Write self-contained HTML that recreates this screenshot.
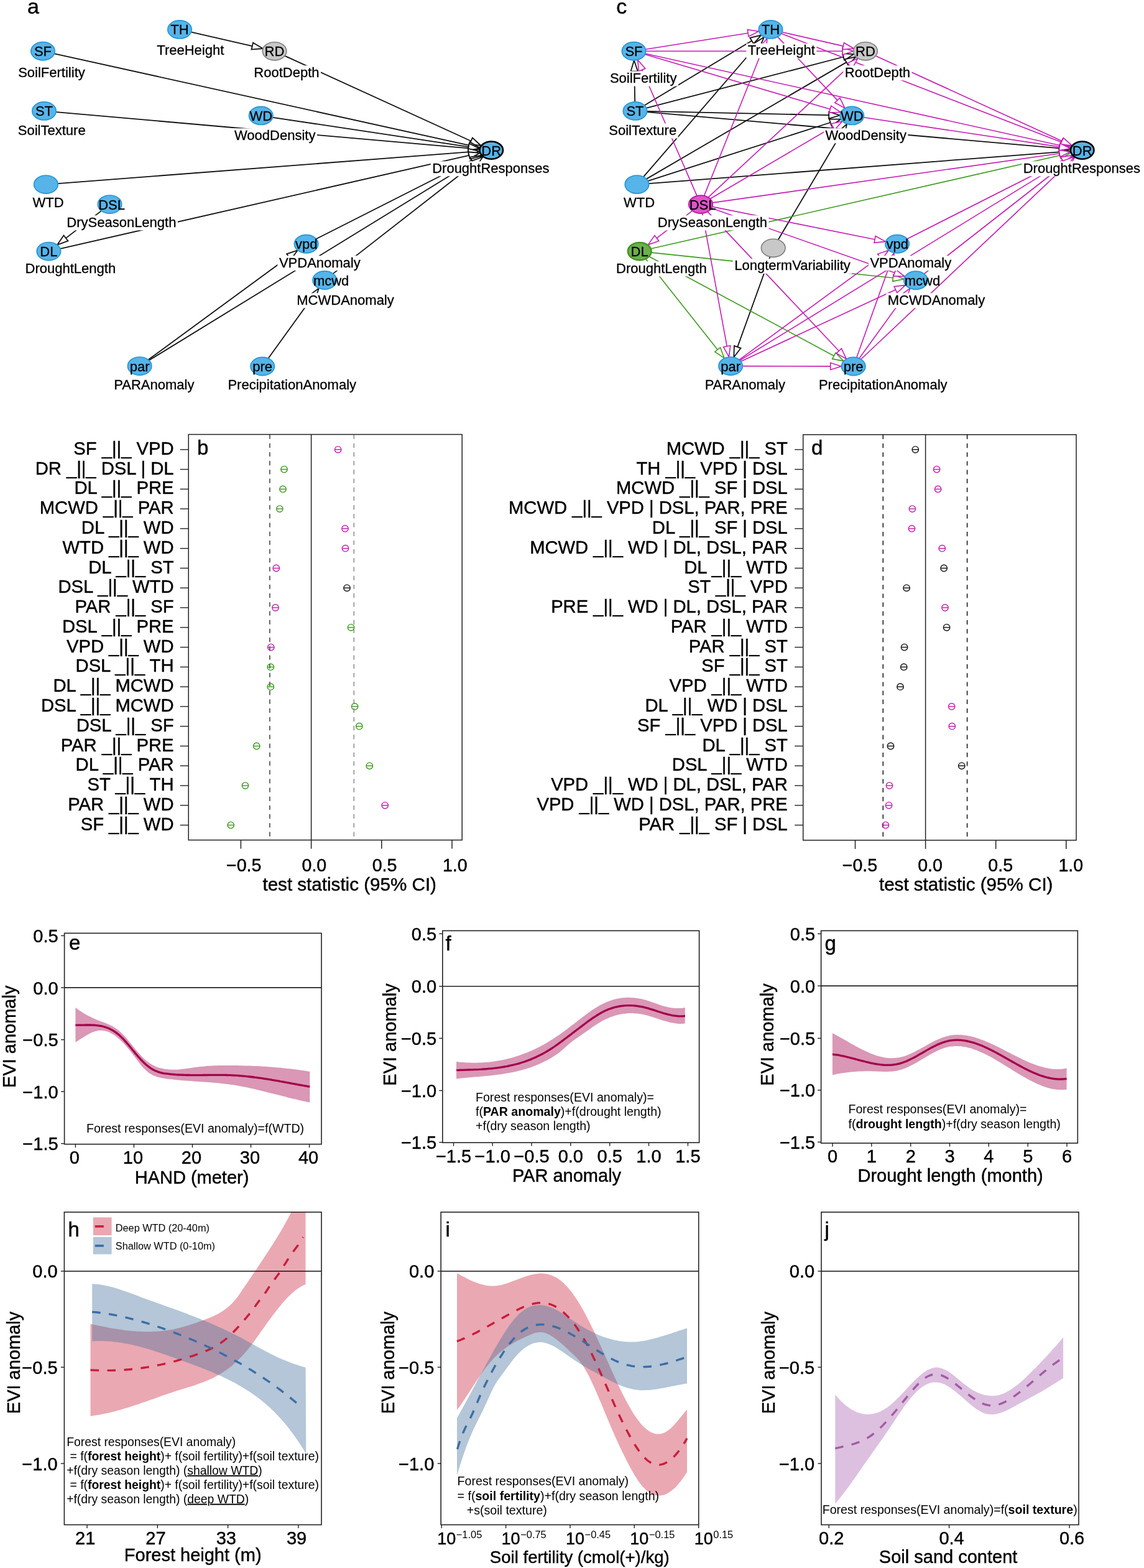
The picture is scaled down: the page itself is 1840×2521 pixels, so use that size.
<!DOCTYPE html>
<html><head><meta charset="utf-8"><title>Figure</title>
<style>
html,body{margin:0;padding:0;background:#fff;}
svg{display:block;}
text{font-family:"Liberation Sans",Arial,Helvetica,sans-serif;fill:#000;}
</style></head><body>
<svg width="1840" height="2521" viewBox="0 0 1840 2521">
<rect width="1840" height="2521" fill="#fff"/>
<text x="44" y="22.3" font-size="34" stroke="#000" stroke-width="0.45">a</text>
<text x="991.3" y="22.3" font-size="34" stroke="#000" stroke-width="0.45">c</text>
<line x1="307.7" y1="51.7" x2="405.8" y2="74.1" stroke="#111111" stroke-width="1.8"/>
<line x1="458.2" y1="89.9" x2="757.6" y2="226.7" stroke="#111111" stroke-width="1.8"/>
<line x1="87.7" y1="86.3" x2="754.4" y2="233.7" stroke="#111111" stroke-width="1.8"/>
<line x1="90.4" y1="180.1" x2="753.4" y2="238.4" stroke="#111111" stroke-width="1.8"/>
<line x1="438.8" y1="188.8" x2="753.8" y2="236.1" stroke="#111111" stroke-width="1.8"/>
<line x1="93.3" y1="295.1" x2="753.4" y2="244.4" stroke="#111111" stroke-width="1.8"/>
<line x1="162.8" y1="339.1" x2="106" y2="382.9" stroke="#111111" stroke-width="1.8"/>
<line x1="97.1" y1="399.8" x2="754.5" y2="249.8" stroke="#111111" stroke-width="1.8"/>
<line x1="508.8" y1="384" x2="758.4" y2="257.7" stroke="#111111" stroke-width="1.8"/>
<line x1="238.6" y1="578.3" x2="464.5" y2="412.8" stroke="#111111" stroke-width="1.8"/>
<line x1="239.8" y1="579.3" x2="760.1" y2="260.1" stroke="#111111" stroke-width="1.8"/>
<line x1="535.8" y1="439.9" x2="762.8" y2="263" stroke="#111111" stroke-width="1.8"/>
<line x1="431.6" y1="576" x2="502.6" y2="477.7" stroke="#111111" stroke-width="1.8"/>
<polygon points="422.8,78 404.5,79.6 407,68.7" fill="#fff" stroke="#111111" stroke-width="1.8" stroke-linejoin="miter"/>
<polygon points="773.5,234 755.2,231.8 759.9,221.6" fill="#fff" stroke="#111111" stroke-width="1.8" stroke-linejoin="miter"/>
<polygon points="771.5,237.5 753.2,239.2 755.6,228.2" fill="#fff" stroke="#111111" stroke-width="1.8" stroke-linejoin="miter"/>
<polygon points="770.8,239.9 752.9,243.9 753.9,232.8" fill="#fff" stroke="#111111" stroke-width="1.8" stroke-linejoin="miter"/>
<polygon points="771.1,238.7 752.9,241.7 754.6,230.6" fill="#fff" stroke="#111111" stroke-width="1.8" stroke-linejoin="miter"/>
<polygon points="770.8,243.1 753.8,250 752.9,238.8" fill="#fff" stroke="#111111" stroke-width="1.8" stroke-linejoin="miter"/>
<polygon points="92.1,393.6 102.5,378.5 109.4,387.3" fill="#fff" stroke="#111111" stroke-width="1.8" stroke-linejoin="miter"/>
<polygon points="771.5,245.9 755.7,255.2 753.2,244.3" fill="#fff" stroke="#111111" stroke-width="1.8" stroke-linejoin="miter"/>
<polygon points="774,249.8 760.9,262.7 755.8,252.7" fill="#fff" stroke="#111111" stroke-width="1.8" stroke-linejoin="miter"/>
<polygon points="478.6,402.5 467.8,417.3 461.1,408.3" fill="#fff" stroke="#111111" stroke-width="1.8" stroke-linejoin="miter"/>
<polygon points="775,250.9 763,264.8 757.2,255.3" fill="#fff" stroke="#111111" stroke-width="1.8" stroke-linejoin="miter"/>
<polygon points="776.6,252.2 766.2,267.4 759.4,258.5" fill="#fff" stroke="#111111" stroke-width="1.8" stroke-linejoin="miter"/>
<polygon points="512.8,463.5 507.1,480.9 498,474.4" fill="#fff" stroke="#111111" stroke-width="1.8" stroke-linejoin="miter"/>
<rect x="249.8" y="69.8" width="113" height="24" fill="#fff"/>
<rect x="26.7" y="105.7" width="112.6" height="24" fill="#fff"/>
<rect x="26.3" y="198.5" width="113.8" height="24" fill="#fff"/>
<rect x="405.8" y="105.3" width="110.2" height="24" fill="#fff"/>
<rect x="374.5" y="206.3" width="135.4" height="24" fill="#fff"/>
<rect x="692.7" y="259.3" width="193.3" height="24" fill="#fff"/>
<rect x="50.1" y="314.5" width="55.1" height="24" fill="#fff"/>
<rect x="104.8" y="346.3" width="181.1" height="24" fill="#fff"/>
<rect x="38.1" y="420.3" width="150.5" height="24" fill="#fff"/>
<rect x="446.4" y="411.1" width="135.8" height="24" fill="#fff"/>
<rect x="474.8" y="471.3" width="161.5" height="24" fill="#fff"/>
<rect x="180.7" y="607.3" width="134.2" height="24" fill="#fff"/>
<rect x="363.9" y="607.3" width="211.6" height="24" fill="#fff"/>
<text x="252.3" y="88.3" font-size="22" stroke="#000" stroke-width="0.3">TreeHeight</text>
<text x="29.2" y="124.2" font-size="22" stroke="#000" stroke-width="0.3">SoilFertility</text>
<text x="28.8" y="217" font-size="22" stroke="#000" stroke-width="0.3">SoilTexture</text>
<text x="408.3" y="123.8" font-size="22" stroke="#000" stroke-width="0.3">RootDepth</text>
<text x="377" y="224.8" font-size="22" stroke="#000" stroke-width="0.3">WoodDensity</text>
<text x="695.2" y="277.8" font-size="22" stroke="#000" stroke-width="0.3">DroughtResponses</text>
<text x="52.6" y="333" font-size="22" stroke="#000" stroke-width="0.3">WTD</text>
<text x="107.3" y="364.8" font-size="22" stroke="#000" stroke-width="0.3">DrySeasonLength</text>
<text x="40.6" y="438.8" font-size="22" stroke="#000" stroke-width="0.3">DroughtLength</text>
<text x="448.9" y="429.6" font-size="22" stroke="#000" stroke-width="0.3">VPDAnomaly</text>
<text x="477.3" y="489.8" font-size="22" stroke="#000" stroke-width="0.3">MCWDAnomaly</text>
<text x="183.2" y="625.8" font-size="22" stroke="#000" stroke-width="0.3">PARAnomaly</text>
<text x="366.4" y="625.8" font-size="22" stroke="#000" stroke-width="0.3">PrecipitationAnomaly</text>
<ellipse cx="289" cy="47.4" rx="19.2" ry="14.6" fill="#56B4E9" stroke="#2696D4" stroke-width="1.7"/>
<ellipse cx="69" cy="82.2" rx="19.2" ry="14.6" fill="#56B4E9" stroke="#2696D4" stroke-width="1.7"/>
<ellipse cx="71" cy="178.4" rx="19.2" ry="14.6" fill="#56B4E9" stroke="#2696D4" stroke-width="1.7"/>
<ellipse cx="419.7" cy="185.9" rx="19.2" ry="14.6" fill="#56B4E9" stroke="#2696D4" stroke-width="1.7"/>
<ellipse cx="73.9" cy="296.6" rx="19.2" ry="14.6" fill="#56B4E9" stroke="#2696D4" stroke-width="1.7"/>
<ellipse cx="441.5" cy="82.3" rx="19.3" ry="14.6" fill="#C8C8C8" stroke="#7F7F7F" stroke-width="1.6"/>
<ellipse cx="790.2" cy="241.6" rx="18.8" ry="14.1" fill="#56B4E9" stroke="#000000" stroke-width="2.6"/>
<ellipse cx="176.5" cy="328.6" rx="19.2" ry="14.6" fill="#56B4E9" stroke="#2696D4" stroke-width="1.7"/>
<ellipse cx="78.4" cy="404.1" rx="19.2" ry="14.6" fill="#56B4E9" stroke="#2696D4" stroke-width="1.7"/>
<ellipse cx="492.6" cy="392.2" rx="19.2" ry="14.6" fill="#56B4E9" stroke="#2696D4" stroke-width="1.7"/>
<ellipse cx="522.2" cy="450.5" rx="19.2" ry="14.6" fill="#56B4E9" stroke="#2696D4" stroke-width="1.7"/>
<ellipse cx="224.6" cy="588.6" rx="19.2" ry="14.6" fill="#56B4E9" stroke="#2696D4" stroke-width="1.7"/>
<ellipse cx="422.2" cy="589" rx="19.2" ry="14.6" fill="#56B4E9" stroke="#2696D4" stroke-width="1.7"/>
<text x="274.3" y="55.4" font-size="22" stroke="#000" stroke-width="0.3">TH</text>
<text x="54.9" y="90.2" font-size="22" stroke="#000" stroke-width="0.3">SF</text>
<text x="56.9" y="186.4" font-size="22" stroke="#000" stroke-width="0.3">ST</text>
<text x="401.4" y="193.9" font-size="22" stroke="#000" stroke-width="0.3">WD</text>
<text x="425.6" y="90.3" font-size="22" stroke="#000" stroke-width="0.3">RD</text>
<text x="774.3" y="249.6" font-size="22" stroke="#000" stroke-width="0.3">DR</text>
<text x="158.2" y="336.6" font-size="22" stroke="#000" stroke-width="0.3">DSL</text>
<text x="64.3" y="412.1" font-size="22" stroke="#000" stroke-width="0.3">DL</text>
<text x="474.9" y="400.2" font-size="22" stroke="#000" stroke-width="0.3">vpd</text>
<text x="503.9" y="458.5" font-size="22" stroke="#000" stroke-width="0.3">mcwd</text>
<text x="208.7" y="596.6" font-size="22" stroke="#000" stroke-width="0.3">par</text>
<text x="406.3" y="597" font-size="22" stroke="#000" stroke-width="0.3">pre</text>
<line x1="1021.2" y1="163.6" x2="1020.2" y2="114.5" stroke="#111111" stroke-width="1.8"/>
<line x1="1036.8" y1="169.2" x2="1209.2" y2="65.6" stroke="#111111" stroke-width="1.8"/>
<line x1="1040" y1="173.6" x2="1356.6" y2="91.5" stroke="#111111" stroke-width="1.8"/>
<line x1="1041" y1="178.8" x2="1333.2" y2="185.1" stroke="#111111" stroke-width="1.8"/>
<line x1="1040.9" y1="180.1" x2="1703.9" y2="238.4" stroke="#111111" stroke-width="1.8"/>
<line x1="1035.1" y1="284.2" x2="1217.4" y2="73" stroke="#111111" stroke-width="1.8"/>
<line x1="1039.9" y1="287.6" x2="1361.4" y2="100.1" stroke="#111111" stroke-width="1.8"/>
<line x1="1042.4" y1="290.8" x2="1335.6" y2="197" stroke="#111111" stroke-width="1.8"/>
<line x1="1043.8" y1="295.1" x2="1703.9" y2="244.4" stroke="#111111" stroke-width="1.8"/>
<line x1="1251.7" y1="385.3" x2="1353.2" y2="214.4" stroke="#111111" stroke-width="1.8"/>
<line x1="1238.5" y1="413.1" x2="1186.2" y2="557.9" stroke="#111111" stroke-width="1.8"/>
<line x1="1047.4" y1="399.8" x2="1705" y2="249.8" stroke="#3C9B1E" stroke-width="1.6"/>
<line x1="1048" y1="406.1" x2="1436.3" y2="446.8" stroke="#3C9B1E" stroke-width="1.6"/>
<line x1="1038.8" y1="416.8" x2="1154.2" y2="562.2" stroke="#3C9B1E" stroke-width="1.6"/>
<line x1="1044.6" y1="412.7" x2="1341.4" y2="572.2" stroke="#3C9B1E" stroke-width="1.6"/>
<line x1="1038.6" y1="79.2" x2="1203.1" y2="53.2" stroke="#C71BB5" stroke-width="1.6"/>
<line x1="1039" y1="82.2" x2="1355" y2="82.3" stroke="#C71BB5" stroke-width="1.6"/>
<line x1="1037.7" y1="87.6" x2="1335.2" y2="175.6" stroke="#C71BB5" stroke-width="1.6"/>
<line x1="1038.2" y1="86.3" x2="1704.9" y2="233.7" stroke="#C71BB5" stroke-width="1.6"/>
<line x1="1120.9" y1="314.6" x2="1032.6" y2="112.3" stroke="#C71BB5" stroke-width="1.6"/>
<line x1="1132.7" y1="314.4" x2="1227.3" y2="77.8" stroke="#C71BB5" stroke-width="1.6"/>
<line x1="1139.3" y1="317.1" x2="1366.8" y2="105.7" stroke="#C71BB5" stroke-width="1.6"/>
<line x1="1142.4" y1="319.5" x2="1339.7" y2="203.8" stroke="#C71BB5" stroke-width="1.6"/>
<line x1="1146.2" y1="325.9" x2="1704.2" y2="246.8" stroke="#C71BB5" stroke-width="1.6"/>
<line x1="1113.3" y1="339.1" x2="1056.3" y2="382.9" stroke="#C71BB5" stroke-width="1.6"/>
<line x1="1145.8" y1="332.4" x2="1407.1" y2="385" stroke="#C71BB5" stroke-width="1.6"/>
<line x1="1144.7" y1="334.8" x2="1438.8" y2="438.6" stroke="#C71BB5" stroke-width="1.6"/>
<line x1="1129.7" y1="343.3" x2="1169.2" y2="556.7" stroke="#C71BB5" stroke-width="1.6"/>
<line x1="1138.4" y1="340.6" x2="1349.3" y2="564.2" stroke="#C71BB5" stroke-width="1.6"/>
<line x1="1258.2" y1="51.7" x2="1356.3" y2="74.1" stroke="#C71BB5" stroke-width="1.6"/>
<line x1="1250.9" y1="59.4" x2="1346.8" y2="161.1" stroke="#C71BB5" stroke-width="1.6"/>
<line x1="1256.9" y1="54.1" x2="1707" y2="228.5" stroke="#C71BB5" stroke-width="1.6"/>
<line x1="1408.7" y1="89.9" x2="1708.1" y2="226.7" stroke="#C71BB5" stroke-width="1.6"/>
<line x1="1389.3" y1="188.8" x2="1704.3" y2="236.1" stroke="#C71BB5" stroke-width="1.6"/>
<line x1="1189.1" y1="578.3" x2="1415" y2="412.8" stroke="#C71BB5" stroke-width="1.6"/>
<line x1="1191.7" y1="580.9" x2="1440.5" y2="465.8" stroke="#C71BB5" stroke-width="1.6"/>
<line x1="1194.6" y1="588.6" x2="1335.7" y2="588.9" stroke="#C71BB5" stroke-width="1.6"/>
<line x1="1190.3" y1="579.3" x2="1710.6" y2="260.1" stroke="#C71BB5" stroke-width="1.6"/>
<line x1="1377.8" y1="574.7" x2="1432.1" y2="423" stroke="#C71BB5" stroke-width="1.6"/>
<line x1="1382.1" y1="576" x2="1453.3" y2="477.8" stroke="#C71BB5" stroke-width="1.6"/>
<line x1="1384.9" y1="577.5" x2="1715.8" y2="265.1" stroke="#C71BB5" stroke-width="1.6"/>
<line x1="1459.3" y1="384" x2="1708.9" y2="257.7" stroke="#C71BB5" stroke-width="1.6"/>
<line x1="1486.6" y1="440.1" x2="1713.3" y2="263" stroke="#C71BB5" stroke-width="1.6"/>
<polygon points="1019.8,97 1025.8,114.4 1014.6,114.6" fill="#fff" stroke="#111111" stroke-width="1.8" stroke-linejoin="miter"/>
<polygon points="1224.2,56.6 1212.1,70.4 1206.3,60.8" fill="#fff" stroke="#111111" stroke-width="1.8" stroke-linejoin="miter"/>
<polygon points="1373.5,87.1 1358,96.9 1355.2,86.1" fill="#fff" stroke="#111111" stroke-width="1.8" stroke-linejoin="miter"/>
<polygon points="1350.7,185.5 1333.1,190.7 1333.3,179.5" fill="#fff" stroke="#111111" stroke-width="1.8" stroke-linejoin="miter"/>
<polygon points="1721.3,239.9 1703.4,243.9 1704.4,232.8" fill="#fff" stroke="#111111" stroke-width="1.8" stroke-linejoin="miter"/>
<polygon points="1228.8,59.8 1221.6,76.7 1213.1,69.4" fill="#fff" stroke="#111111" stroke-width="1.8" stroke-linejoin="miter"/>
<polygon points="1376.5,91.3 1364.2,105 1358.6,95.3" fill="#fff" stroke="#111111" stroke-width="1.8" stroke-linejoin="miter"/>
<polygon points="1352.2,191.7 1337.3,202.3 1333.9,191.7" fill="#fff" stroke="#111111" stroke-width="1.8" stroke-linejoin="miter"/>
<polygon points="1721.3,243.1 1704.3,250 1703.4,238.8" fill="#fff" stroke="#111111" stroke-width="1.8" stroke-linejoin="miter"/>
<polygon points="1362.2,199.4 1358.1,217.3 1348.4,211.6" fill="#fff" stroke="#111111" stroke-width="1.8" stroke-linejoin="miter"/>
<polygon points="1180.3,574.3 1180.9,556 1191.5,559.8" fill="#fff" stroke="#111111" stroke-width="1.8" stroke-linejoin="miter"/>
<polygon points="1722,245.9 1706.2,255.2 1703.7,244.3" fill="#fff" stroke="#3C9B1E" stroke-width="1.6" stroke-linejoin="miter"/>
<polygon points="1453.7,448.7 1435.7,452.4 1436.9,441.3" fill="#fff" stroke="#3C9B1E" stroke-width="1.6" stroke-linejoin="miter"/>
<polygon points="1165,575.9 1149.8,565.7 1158.5,558.7" fill="#fff" stroke="#3C9B1E" stroke-width="1.6" stroke-linejoin="miter"/>
<polygon points="1356.8,580.4 1338.7,577.1 1344,567.2" fill="#fff" stroke="#3C9B1E" stroke-width="1.6" stroke-linejoin="miter"/>
<polygon points="1220.4,50.4 1204,58.7 1202.3,47.6" fill="#fff" stroke="#C71BB5" stroke-width="1.6" stroke-linejoin="miter"/>
<polygon points="1372.5,82.3 1355,87.9 1355,76.7" fill="#fff" stroke="#C71BB5" stroke-width="1.6" stroke-linejoin="miter"/>
<polygon points="1352,180.5 1333.7,180.9 1336.8,170.2" fill="#fff" stroke="#C71BB5" stroke-width="1.6" stroke-linejoin="miter"/>
<polygon points="1722,237.5 1703.7,239.2 1706.1,228.2" fill="#fff" stroke="#C71BB5" stroke-width="1.6" stroke-linejoin="miter"/>
<polygon points="1025.6,96.2 1037.8,110.1 1027.5,114.5" fill="#fff" stroke="#C71BB5" stroke-width="1.6" stroke-linejoin="miter"/>
<polygon points="1233.8,61.6 1232.5,79.9 1222.1,75.7" fill="#fff" stroke="#C71BB5" stroke-width="1.6" stroke-linejoin="miter"/>
<polygon points="1379.7,93.8 1370.7,109.8 1363,101.6" fill="#fff" stroke="#C71BB5" stroke-width="1.6" stroke-linejoin="miter"/>
<polygon points="1354.8,195 1342.5,208.6 1336.8,199" fill="#fff" stroke="#C71BB5" stroke-width="1.6" stroke-linejoin="miter"/>
<polygon points="1721.5,244.3 1705,252.3 1703.4,241.2" fill="#fff" stroke="#C71BB5" stroke-width="1.6" stroke-linejoin="miter"/>
<polygon points="1042.4,393.6 1052.9,378.5 1059.7,387.4" fill="#fff" stroke="#C71BB5" stroke-width="1.6" stroke-linejoin="miter"/>
<polygon points="1424.3,388.4 1406,390.4 1408.2,379.5" fill="#fff" stroke="#C71BB5" stroke-width="1.6" stroke-linejoin="miter"/>
<polygon points="1455.3,444.5 1437,443.9 1440.7,433.4" fill="#fff" stroke="#C71BB5" stroke-width="1.6" stroke-linejoin="miter"/>
<polygon points="1172.4,573.9 1163.7,557.8 1174.7,555.7" fill="#fff" stroke="#C71BB5" stroke-width="1.6" stroke-linejoin="miter"/>
<polygon points="1361.3,577 1345.3,568.1 1353.4,560.4" fill="#fff" stroke="#C71BB5" stroke-width="1.6" stroke-linejoin="miter"/>
<polygon points="1373.3,78 1355,79.6 1357.5,68.7" fill="#fff" stroke="#C71BB5" stroke-width="1.6" stroke-linejoin="miter"/>
<polygon points="1358.8,173.9 1342.8,165 1350.9,157.3" fill="#fff" stroke="#C71BB5" stroke-width="1.6" stroke-linejoin="miter"/>
<polygon points="1723.3,234.9 1705,233.8 1709,223.3" fill="#fff" stroke="#C71BB5" stroke-width="1.6" stroke-linejoin="miter"/>
<polygon points="1724,234 1705.7,231.8 1710.4,221.6" fill="#fff" stroke="#C71BB5" stroke-width="1.6" stroke-linejoin="miter"/>
<polygon points="1721.6,238.7 1703.4,241.7 1705.1,230.6" fill="#fff" stroke="#C71BB5" stroke-width="1.6" stroke-linejoin="miter"/>
<polygon points="1429.1,402.5 1418.3,417.3 1411.6,408.3" fill="#fff" stroke="#C71BB5" stroke-width="1.6" stroke-linejoin="miter"/>
<polygon points="1456.4,458.4 1442.8,470.8 1438.1,460.7" fill="#fff" stroke="#C71BB5" stroke-width="1.6" stroke-linejoin="miter"/>
<polygon points="1353.2,589 1335.7,594.5 1335.7,583.3" fill="#fff" stroke="#C71BB5" stroke-width="1.6" stroke-linejoin="miter"/>
<polygon points="1725.5,250.9 1713.5,264.8 1707.7,255.3" fill="#fff" stroke="#C71BB5" stroke-width="1.6" stroke-linejoin="miter"/>
<polygon points="1438,406.5 1437.4,424.8 1426.8,421.1" fill="#fff" stroke="#C71BB5" stroke-width="1.6" stroke-linejoin="miter"/>
<polygon points="1463.6,463.7 1457.9,481.1 1448.8,474.5" fill="#fff" stroke="#C71BB5" stroke-width="1.6" stroke-linejoin="miter"/>
<polygon points="1728.5,253.1 1719.6,269.2 1711.9,261.1" fill="#fff" stroke="#C71BB5" stroke-width="1.6" stroke-linejoin="miter"/>
<polygon points="1724.5,249.8 1711.4,262.7 1706.3,252.7" fill="#fff" stroke="#C71BB5" stroke-width="1.6" stroke-linejoin="miter"/>
<polygon points="1727.1,252.2 1716.8,267.4 1709.9,258.6" fill="#fff" stroke="#C71BB5" stroke-width="1.6" stroke-linejoin="miter"/>
<rect x="1200.3" y="69.8" width="113" height="24" fill="#fff"/>
<rect x="978.4" y="114.5" width="112.6" height="24" fill="#fff"/>
<rect x="976.8" y="198.5" width="113.8" height="24" fill="#fff"/>
<rect x="1356.3" y="105.3" width="110.2" height="24" fill="#fff"/>
<rect x="1325" y="206.3" width="135.4" height="24" fill="#fff"/>
<rect x="1643.2" y="259.3" width="193.3" height="24" fill="#fff"/>
<rect x="1000.6" y="314.5" width="55.1" height="24" fill="#fff"/>
<rect x="1055.3" y="346.3" width="181.1" height="24" fill="#fff"/>
<rect x="988.6" y="420.3" width="150.5" height="24" fill="#fff"/>
<rect x="1396.9" y="411.1" width="135.8" height="24" fill="#fff"/>
<rect x="1425.3" y="471.3" width="161.5" height="24" fill="#fff"/>
<rect x="1131.2" y="607.3" width="134.2" height="24" fill="#fff"/>
<rect x="1314.4" y="607.3" width="211.6" height="24" fill="#fff"/>
<rect x="1178.7" y="415.9" width="191.7" height="24" fill="#fff"/>
<text x="1202.8" y="88.3" font-size="22" stroke="#000" stroke-width="0.3">TreeHeight</text>
<text x="980.9" y="133" font-size="22" stroke="#000" stroke-width="0.3">SoilFertility</text>
<text x="979.3" y="217" font-size="22" stroke="#000" stroke-width="0.3">SoilTexture</text>
<text x="1358.8" y="123.8" font-size="22" stroke="#000" stroke-width="0.3">RootDepth</text>
<text x="1327.5" y="224.8" font-size="22" stroke="#000" stroke-width="0.3">WoodDensity</text>
<text x="1645.7" y="277.8" font-size="22" stroke="#000" stroke-width="0.3">DroughtResponses</text>
<text x="1003.1" y="333" font-size="22" stroke="#000" stroke-width="0.3">WTD</text>
<text x="1057.8" y="364.8" font-size="22" stroke="#000" stroke-width="0.3">DrySeasonLength</text>
<text x="991.1" y="438.8" font-size="22" stroke="#000" stroke-width="0.3">DroughtLength</text>
<text x="1399.4" y="429.6" font-size="22" stroke="#000" stroke-width="0.3">VPDAnomaly</text>
<text x="1427.8" y="489.8" font-size="22" stroke="#000" stroke-width="0.3">MCWDAnomaly</text>
<text x="1133.7" y="625.8" font-size="22" stroke="#000" stroke-width="0.3">PARAnomaly</text>
<text x="1316.9" y="625.8" font-size="22" stroke="#000" stroke-width="0.3">PrecipitationAnomaly</text>
<text x="1181.2" y="434.4" font-size="22" stroke="#000" stroke-width="0.3">LongtermVariability</text>
<ellipse cx="1239.5" cy="47.4" rx="19.2" ry="14.6" fill="#56B4E9" stroke="#2696D4" stroke-width="1.7"/>
<ellipse cx="1019.5" cy="82.2" rx="19.2" ry="14.6" fill="#56B4E9" stroke="#2696D4" stroke-width="1.7"/>
<ellipse cx="1021.5" cy="178.4" rx="19.2" ry="14.6" fill="#56B4E9" stroke="#2696D4" stroke-width="1.7"/>
<ellipse cx="1370.2" cy="185.9" rx="19.2" ry="14.6" fill="#56B4E9" stroke="#2696D4" stroke-width="1.7"/>
<ellipse cx="1024.4" cy="296.6" rx="19.2" ry="14.6" fill="#56B4E9" stroke="#2696D4" stroke-width="1.7"/>
<ellipse cx="1392" cy="82.3" rx="19.3" ry="14.6" fill="#C8C8C8" stroke="#7F7F7F" stroke-width="1.6"/>
<ellipse cx="1740.7" cy="241.6" rx="18.8" ry="14.1" fill="#56B4E9" stroke="#000000" stroke-width="2.6"/>
<ellipse cx="1127" cy="328.6" rx="19.1" ry="14.4" fill="#DD55C8" stroke="#C01AA8" stroke-width="2.0"/>
<ellipse cx="1028.7" cy="404.1" rx="18.9" ry="14.2" fill="#6BAF4B" stroke="#3A981C" stroke-width="2.4"/>
<ellipse cx="1443.1" cy="392.2" rx="19.2" ry="14.6" fill="#56B4E9" stroke="#2696D4" stroke-width="1.7"/>
<ellipse cx="1473" cy="450.7" rx="19.2" ry="14.6" fill="#56B4E9" stroke="#2696D4" stroke-width="1.7"/>
<ellipse cx="1175.1" cy="588.6" rx="19.2" ry="14.6" fill="#56B4E9" stroke="#2696D4" stroke-width="1.7"/>
<ellipse cx="1372.7" cy="589" rx="19.2" ry="14.6" fill="#56B4E9" stroke="#2696D4" stroke-width="1.7"/>
<ellipse cx="1243.7" cy="398.8" rx="19.3" ry="14.6" fill="#C8C8C8" stroke="#7F7F7F" stroke-width="1.6"/>
<text x="1224.8" y="55.4" font-size="22" stroke="#000" stroke-width="0.3">TH</text>
<text x="1005.4" y="90.2" font-size="22" stroke="#000" stroke-width="0.3">SF</text>
<text x="1007.4" y="186.4" font-size="22" stroke="#000" stroke-width="0.3">ST</text>
<text x="1351.9" y="193.9" font-size="22" stroke="#000" stroke-width="0.3">WD</text>
<text x="1376.1" y="90.3" font-size="22" stroke="#000" stroke-width="0.3">RD</text>
<text x="1724.8" y="249.6" font-size="22" stroke="#000" stroke-width="0.3">DR</text>
<text x="1108.7" y="336.6" font-size="22" stroke="#000" stroke-width="0.3">DSL</text>
<text x="1014.6" y="412.1" font-size="22" stroke="#000" stroke-width="0.3">DL</text>
<text x="1425.4" y="400.2" font-size="22" stroke="#000" stroke-width="0.3">vpd</text>
<text x="1454.7" y="458.7" font-size="22" stroke="#000" stroke-width="0.3">mcwd</text>
<text x="1159.2" y="596.6" font-size="22" stroke="#000" stroke-width="0.3">par</text>
<text x="1356.8" y="597" font-size="22" stroke="#000" stroke-width="0.3">pre</text>
<line x1="433.9" y1="698.5" x2="433.9" y2="1350.6" stroke="#3a3a3a" stroke-width="1.5" stroke-dasharray="7.2,7"/>
<line x1="569.3" y1="698.5" x2="569.3" y2="1350.6" stroke="#8a8a8a" stroke-width="1.5" stroke-dasharray="7.2,7"/>
<line x1="500.6" y1="698.5" x2="500.6" y2="1350.6" stroke="#222" stroke-width="1.5"/>
<rect x="303.2" y="698.5" width="440" height="652.1" fill="none" stroke="#222" stroke-width="1.5"/>
<line x1="289.7" y1="722.8" x2="303.2" y2="722.8" stroke="#222" stroke-width="1.4"/>
<text x="279.5" y="730.8" font-size="29.2" text-anchor="end" stroke="#000" stroke-width="0.45">SF _||_ VPD</text>
<circle cx="543.6" cy="722.8" r="5.2" fill="none" stroke="#C41AAE" stroke-width="1.4"/>
<line x1="538.4" y1="722.8" x2="548.8" y2="722.8" stroke="#C41AAE" stroke-width="1.4"/>
<line x1="289.7" y1="754.6" x2="303.2" y2="754.6" stroke="#222" stroke-width="1.4"/>
<text x="279.5" y="762.6" font-size="29.2" text-anchor="end" stroke="#000" stroke-width="0.45">DR _||_ DSL | DL</text>
<circle cx="457" cy="754.6" r="5.2" fill="none" stroke="#3A9A1C" stroke-width="1.4"/>
<line x1="451.8" y1="754.6" x2="462.2" y2="754.6" stroke="#3A9A1C" stroke-width="1.4"/>
<line x1="289.7" y1="786.4" x2="303.2" y2="786.4" stroke="#222" stroke-width="1.4"/>
<text x="279.5" y="794.4" font-size="29.2" text-anchor="end" stroke="#000" stroke-width="0.45">DL _||_ PRE</text>
<circle cx="455" cy="786.4" r="5.2" fill="none" stroke="#3A9A1C" stroke-width="1.4"/>
<line x1="449.8" y1="786.4" x2="460.2" y2="786.4" stroke="#3A9A1C" stroke-width="1.4"/>
<line x1="289.7" y1="818.1" x2="303.2" y2="818.1" stroke="#222" stroke-width="1.4"/>
<text x="279.5" y="826.1" font-size="29.2" text-anchor="end" stroke="#000" stroke-width="0.45">MCWD _||_ PAR</text>
<circle cx="449.8" cy="818.1" r="5.2" fill="none" stroke="#3A9A1C" stroke-width="1.4"/>
<line x1="444.6" y1="818.1" x2="455" y2="818.1" stroke="#3A9A1C" stroke-width="1.4"/>
<line x1="289.7" y1="849.9" x2="303.2" y2="849.9" stroke="#222" stroke-width="1.4"/>
<text x="279.5" y="857.9" font-size="29.2" text-anchor="end" stroke="#000" stroke-width="0.45">DL _||_ WD</text>
<circle cx="555" cy="849.9" r="5.2" fill="none" stroke="#C41AAE" stroke-width="1.4"/>
<line x1="549.8" y1="849.9" x2="560.2" y2="849.9" stroke="#C41AAE" stroke-width="1.4"/>
<line x1="289.7" y1="881.7" x2="303.2" y2="881.7" stroke="#222" stroke-width="1.4"/>
<text x="279.5" y="889.7" font-size="29.2" text-anchor="end" stroke="#000" stroke-width="0.45">WTD _||_ WD</text>
<circle cx="555.5" cy="881.7" r="5.2" fill="none" stroke="#C41AAE" stroke-width="1.4"/>
<line x1="550.3" y1="881.7" x2="560.7" y2="881.7" stroke="#C41AAE" stroke-width="1.4"/>
<line x1="289.7" y1="913.5" x2="303.2" y2="913.5" stroke="#222" stroke-width="1.4"/>
<text x="279.5" y="921.5" font-size="29.2" text-anchor="end" stroke="#000" stroke-width="0.45">DL _||_ ST</text>
<circle cx="444.3" cy="913.5" r="5.2" fill="none" stroke="#C41AAE" stroke-width="1.4"/>
<line x1="439.1" y1="913.5" x2="449.5" y2="913.5" stroke="#C41AAE" stroke-width="1.4"/>
<line x1="289.7" y1="945.3" x2="303.2" y2="945.3" stroke="#222" stroke-width="1.4"/>
<text x="279.5" y="953.3" font-size="29.2" text-anchor="end" stroke="#000" stroke-width="0.45">DSL _||_ WTD</text>
<circle cx="558" cy="945.3" r="5.2" fill="none" stroke="#111111" stroke-width="1.4"/>
<line x1="552.8" y1="945.3" x2="563.2" y2="945.3" stroke="#111111" stroke-width="1.4"/>
<line x1="289.7" y1="977" x2="303.2" y2="977" stroke="#222" stroke-width="1.4"/>
<text x="279.5" y="985" font-size="29.2" text-anchor="end" stroke="#000" stroke-width="0.45">PAR _||_ SF</text>
<circle cx="443" cy="977" r="5.2" fill="none" stroke="#C41AAE" stroke-width="1.4"/>
<line x1="437.8" y1="977" x2="448.2" y2="977" stroke="#C41AAE" stroke-width="1.4"/>
<line x1="289.7" y1="1008.8" x2="303.2" y2="1008.8" stroke="#222" stroke-width="1.4"/>
<text x="279.5" y="1016.8" font-size="29.2" text-anchor="end" stroke="#000" stroke-width="0.45">DSL _||_ PRE</text>
<circle cx="564.5" cy="1008.8" r="5.2" fill="none" stroke="#3A9A1C" stroke-width="1.4"/>
<line x1="559.3" y1="1008.8" x2="569.7" y2="1008.8" stroke="#3A9A1C" stroke-width="1.4"/>
<line x1="289.7" y1="1040.6" x2="303.2" y2="1040.6" stroke="#222" stroke-width="1.4"/>
<text x="279.5" y="1048.6" font-size="29.2" text-anchor="end" stroke="#000" stroke-width="0.45">VPD _||_ WD</text>
<circle cx="435.8" cy="1040.6" r="5.2" fill="none" stroke="#C41AAE" stroke-width="1.4"/>
<line x1="430.6" y1="1040.6" x2="441" y2="1040.6" stroke="#C41AAE" stroke-width="1.4"/>
<line x1="289.7" y1="1072.4" x2="303.2" y2="1072.4" stroke="#222" stroke-width="1.4"/>
<text x="279.5" y="1080.4" font-size="29.2" text-anchor="end" stroke="#000" stroke-width="0.45">DSL _||_ TH</text>
<circle cx="435.3" cy="1072.4" r="5.2" fill="none" stroke="#3A9A1C" stroke-width="1.4"/>
<line x1="430.1" y1="1072.4" x2="440.5" y2="1072.4" stroke="#3A9A1C" stroke-width="1.4"/>
<line x1="289.7" y1="1104.2" x2="303.2" y2="1104.2" stroke="#222" stroke-width="1.4"/>
<text x="279.5" y="1112.2" font-size="29.2" text-anchor="end" stroke="#000" stroke-width="0.45">DL _||_ MCWD</text>
<circle cx="435.3" cy="1104.2" r="5.2" fill="none" stroke="#3A9A1C" stroke-width="1.4"/>
<line x1="430.1" y1="1104.2" x2="440.5" y2="1104.2" stroke="#3A9A1C" stroke-width="1.4"/>
<line x1="289.7" y1="1135.9" x2="303.2" y2="1135.9" stroke="#222" stroke-width="1.4"/>
<text x="279.5" y="1143.9" font-size="29.2" text-anchor="end" stroke="#000" stroke-width="0.45">DSL _||_ MCWD</text>
<circle cx="570.6" cy="1135.9" r="5.2" fill="none" stroke="#3A9A1C" stroke-width="1.4"/>
<line x1="565.4" y1="1135.9" x2="575.8" y2="1135.9" stroke="#3A9A1C" stroke-width="1.4"/>
<line x1="289.7" y1="1167.7" x2="303.2" y2="1167.7" stroke="#222" stroke-width="1.4"/>
<text x="279.5" y="1175.7" font-size="29.2" text-anchor="end" stroke="#000" stroke-width="0.45">DSL _||_ SF</text>
<circle cx="577.8" cy="1167.7" r="5.2" fill="none" stroke="#3A9A1C" stroke-width="1.4"/>
<line x1="572.6" y1="1167.7" x2="583" y2="1167.7" stroke="#3A9A1C" stroke-width="1.4"/>
<line x1="289.7" y1="1199.5" x2="303.2" y2="1199.5" stroke="#222" stroke-width="1.4"/>
<text x="279.5" y="1207.5" font-size="29.2" text-anchor="end" stroke="#000" stroke-width="0.45">PAR _||_ PRE</text>
<circle cx="412.7" cy="1199.5" r="5.2" fill="none" stroke="#3A9A1C" stroke-width="1.4"/>
<line x1="407.5" y1="1199.5" x2="417.9" y2="1199.5" stroke="#3A9A1C" stroke-width="1.4"/>
<line x1="289.7" y1="1231.3" x2="303.2" y2="1231.3" stroke="#222" stroke-width="1.4"/>
<text x="279.5" y="1239.3" font-size="29.2" text-anchor="end" stroke="#000" stroke-width="0.45">DL _||_ PAR</text>
<circle cx="594.3" cy="1231.3" r="5.2" fill="none" stroke="#3A9A1C" stroke-width="1.4"/>
<line x1="589.1" y1="1231.3" x2="599.5" y2="1231.3" stroke="#3A9A1C" stroke-width="1.4"/>
<line x1="289.7" y1="1263.1" x2="303.2" y2="1263.1" stroke="#222" stroke-width="1.4"/>
<text x="279.5" y="1271.1" font-size="29.2" text-anchor="end" stroke="#000" stroke-width="0.45">ST _||_ TH</text>
<circle cx="394.5" cy="1263.1" r="5.2" fill="none" stroke="#3A9A1C" stroke-width="1.4"/>
<line x1="389.3" y1="1263.1" x2="399.7" y2="1263.1" stroke="#3A9A1C" stroke-width="1.4"/>
<line x1="289.7" y1="1294.8" x2="303.2" y2="1294.8" stroke="#222" stroke-width="1.4"/>
<text x="279.5" y="1302.8" font-size="29.2" text-anchor="end" stroke="#000" stroke-width="0.45">PAR _||_ WD</text>
<circle cx="619.2" cy="1294.8" r="5.2" fill="none" stroke="#C41AAE" stroke-width="1.4"/>
<line x1="614" y1="1294.8" x2="624.4" y2="1294.8" stroke="#C41AAE" stroke-width="1.4"/>
<line x1="289.7" y1="1326.6" x2="303.2" y2="1326.6" stroke="#222" stroke-width="1.4"/>
<text x="279.5" y="1334.6" font-size="29.2" text-anchor="end" stroke="#000" stroke-width="0.45">SF _||_ WD</text>
<circle cx="371.2" cy="1326.6" r="5.2" fill="none" stroke="#3A9A1C" stroke-width="1.4"/>
<line x1="366" y1="1326.6" x2="376.4" y2="1326.6" stroke="#3A9A1C" stroke-width="1.4"/>
<line x1="387.4" y1="1350.6" x2="387.4" y2="1364.6" stroke="#222" stroke-width="1.5"/>
<text x="392.2" y="1401" font-size="28.6" text-anchor="middle" stroke="#000" stroke-width="0.45">−0.5</text>
<line x1="500.6" y1="1350.6" x2="500.6" y2="1364.6" stroke="#222" stroke-width="1.5"/>
<text x="505.4" y="1401" font-size="28.6" text-anchor="middle" stroke="#000" stroke-width="0.45">0.0</text>
<line x1="613.8" y1="1350.6" x2="613.8" y2="1364.6" stroke="#222" stroke-width="1.5"/>
<text x="618.6" y="1401" font-size="28.6" text-anchor="middle" stroke="#000" stroke-width="0.45">0.5</text>
<line x1="727" y1="1350.6" x2="727" y2="1364.6" stroke="#222" stroke-width="1.5"/>
<text x="731.8" y="1401" font-size="28.6" text-anchor="middle" stroke="#000" stroke-width="0.45">1.0</text>
<text x="562.2" y="1432.1" font-size="29.6" text-anchor="middle" stroke="#000" stroke-width="0.45">test statistic (95% CI)</text>
<text x="317" y="731.2" font-size="33" stroke="#000" stroke-width="0.45">b</text>
<line x1="1420.3" y1="698.8" x2="1420.3" y2="1350.9" stroke="#111" stroke-width="1.5" stroke-dasharray="7.2,7"/>
<line x1="1555.6" y1="698.8" x2="1555.6" y2="1350.9" stroke="#111" stroke-width="1.5" stroke-dasharray="7.2,7"/>
<line x1="1488.6" y1="698.8" x2="1488.6" y2="1350.9" stroke="#222" stroke-width="1.5"/>
<rect x="1291.7" y="698.8" width="439.3" height="652.1" fill="none" stroke="#222" stroke-width="1.5"/>
<line x1="1278.2" y1="722.8" x2="1291.7" y2="722.8" stroke="#222" stroke-width="1.4"/>
<text x="1266.8" y="730.8" font-size="29.2" text-anchor="end" stroke="#000" stroke-width="0.45">MCWD _||_ ST</text>
<circle cx="1472.3" cy="722.8" r="5.2" fill="none" stroke="#111111" stroke-width="1.4"/>
<line x1="1467.1" y1="722.8" x2="1477.5" y2="722.8" stroke="#111111" stroke-width="1.4"/>
<line x1="1278.2" y1="754.6" x2="1291.7" y2="754.6" stroke="#222" stroke-width="1.4"/>
<text x="1266.8" y="762.6" font-size="29.2" text-anchor="end" stroke="#000" stroke-width="0.45">TH _||_ VPD | DSL</text>
<circle cx="1506.6" cy="754.6" r="5.2" fill="none" stroke="#C41AAE" stroke-width="1.4"/>
<line x1="1501.4" y1="754.6" x2="1511.8" y2="754.6" stroke="#C41AAE" stroke-width="1.4"/>
<line x1="1278.2" y1="786.4" x2="1291.7" y2="786.4" stroke="#222" stroke-width="1.4"/>
<text x="1266.8" y="794.4" font-size="29.2" text-anchor="end" stroke="#000" stroke-width="0.45">MCWD _||_ SF | DSL</text>
<circle cx="1508.6" cy="786.4" r="5.2" fill="none" stroke="#C41AAE" stroke-width="1.4"/>
<line x1="1503.4" y1="786.4" x2="1513.8" y2="786.4" stroke="#C41AAE" stroke-width="1.4"/>
<line x1="1278.2" y1="818.1" x2="1291.7" y2="818.1" stroke="#222" stroke-width="1.4"/>
<text x="1266.8" y="826.1" font-size="29.2" text-anchor="end" stroke="#000" stroke-width="0.45">MCWD _||_ VPD | DSL, PAR, PRE</text>
<circle cx="1467.4" cy="818.1" r="5.2" fill="none" stroke="#C41AAE" stroke-width="1.4"/>
<line x1="1462.2" y1="818.1" x2="1472.6" y2="818.1" stroke="#C41AAE" stroke-width="1.4"/>
<line x1="1278.2" y1="849.9" x2="1291.7" y2="849.9" stroke="#222" stroke-width="1.4"/>
<text x="1266.8" y="857.9" font-size="29.2" text-anchor="end" stroke="#000" stroke-width="0.45">DL _||_ SF | DSL</text>
<circle cx="1466.5" cy="849.9" r="5.2" fill="none" stroke="#C41AAE" stroke-width="1.4"/>
<line x1="1461.3" y1="849.9" x2="1471.7" y2="849.9" stroke="#C41AAE" stroke-width="1.4"/>
<line x1="1278.2" y1="881.7" x2="1291.7" y2="881.7" stroke="#222" stroke-width="1.4"/>
<text x="1266.8" y="889.7" font-size="29.2" text-anchor="end" stroke="#000" stroke-width="0.45">MCWD _||_ WD | DL, DSL, PAR</text>
<circle cx="1515.3" cy="881.7" r="5.2" fill="none" stroke="#C41AAE" stroke-width="1.4"/>
<line x1="1510.1" y1="881.7" x2="1520.5" y2="881.7" stroke="#C41AAE" stroke-width="1.4"/>
<line x1="1278.2" y1="913.5" x2="1291.7" y2="913.5" stroke="#222" stroke-width="1.4"/>
<text x="1266.8" y="921.5" font-size="29.2" text-anchor="end" stroke="#000" stroke-width="0.45">DL _||_ WTD</text>
<circle cx="1518.2" cy="913.5" r="5.2" fill="none" stroke="#111111" stroke-width="1.4"/>
<line x1="1513" y1="913.5" x2="1523.4" y2="913.5" stroke="#111111" stroke-width="1.4"/>
<line x1="1278.2" y1="945.3" x2="1291.7" y2="945.3" stroke="#222" stroke-width="1.4"/>
<text x="1266.8" y="953.3" font-size="29.2" text-anchor="end" stroke="#000" stroke-width="0.45">ST _||_ VPD</text>
<circle cx="1458.1" cy="945.3" r="5.2" fill="none" stroke="#111111" stroke-width="1.4"/>
<line x1="1452.9" y1="945.3" x2="1463.3" y2="945.3" stroke="#111111" stroke-width="1.4"/>
<line x1="1278.2" y1="977" x2="1291.7" y2="977" stroke="#222" stroke-width="1.4"/>
<text x="1266.8" y="985" font-size="29.2" text-anchor="end" stroke="#000" stroke-width="0.45">PRE _||_ WD | DL, DSL, PAR</text>
<circle cx="1520" cy="977" r="5.2" fill="none" stroke="#C41AAE" stroke-width="1.4"/>
<line x1="1514.8" y1="977" x2="1525.2" y2="977" stroke="#C41AAE" stroke-width="1.4"/>
<line x1="1278.2" y1="1008.8" x2="1291.7" y2="1008.8" stroke="#222" stroke-width="1.4"/>
<text x="1266.8" y="1016.8" font-size="29.2" text-anchor="end" stroke="#000" stroke-width="0.45">PAR _||_ WTD</text>
<circle cx="1522.6" cy="1008.8" r="5.2" fill="none" stroke="#111111" stroke-width="1.4"/>
<line x1="1517.4" y1="1008.8" x2="1527.8" y2="1008.8" stroke="#111111" stroke-width="1.4"/>
<line x1="1278.2" y1="1040.6" x2="1291.7" y2="1040.6" stroke="#222" stroke-width="1.4"/>
<text x="1266.8" y="1048.6" font-size="29.2" text-anchor="end" stroke="#000" stroke-width="0.45">PAR _||_ ST</text>
<circle cx="1454.6" cy="1040.6" r="5.2" fill="none" stroke="#111111" stroke-width="1.4"/>
<line x1="1449.4" y1="1040.6" x2="1459.8" y2="1040.6" stroke="#111111" stroke-width="1.4"/>
<line x1="1278.2" y1="1072.4" x2="1291.7" y2="1072.4" stroke="#222" stroke-width="1.4"/>
<text x="1266.8" y="1080.4" font-size="29.2" text-anchor="end" stroke="#000" stroke-width="0.45">SF _||_ ST</text>
<circle cx="1453.7" cy="1072.4" r="5.2" fill="none" stroke="#111111" stroke-width="1.4"/>
<line x1="1448.5" y1="1072.4" x2="1458.9" y2="1072.4" stroke="#111111" stroke-width="1.4"/>
<line x1="1278.2" y1="1104.2" x2="1291.7" y2="1104.2" stroke="#222" stroke-width="1.4"/>
<text x="1266.8" y="1112.2" font-size="29.2" text-anchor="end" stroke="#000" stroke-width="0.45">VPD _||_ WTD</text>
<circle cx="1448" cy="1104.2" r="5.2" fill="none" stroke="#111111" stroke-width="1.4"/>
<line x1="1442.8" y1="1104.2" x2="1453.2" y2="1104.2" stroke="#111111" stroke-width="1.4"/>
<line x1="1278.2" y1="1135.9" x2="1291.7" y2="1135.9" stroke="#222" stroke-width="1.4"/>
<text x="1266.8" y="1143.9" font-size="29.2" text-anchor="end" stroke="#000" stroke-width="0.45">DL _||_ WD | DSL</text>
<circle cx="1530.7" cy="1135.9" r="5.2" fill="none" stroke="#C41AAE" stroke-width="1.4"/>
<line x1="1525.5" y1="1135.9" x2="1535.9" y2="1135.9" stroke="#C41AAE" stroke-width="1.4"/>
<line x1="1278.2" y1="1167.7" x2="1291.7" y2="1167.7" stroke="#222" stroke-width="1.4"/>
<text x="1266.8" y="1175.7" font-size="29.2" text-anchor="end" stroke="#000" stroke-width="0.45">SF _||_ VPD | DSL</text>
<circle cx="1531.3" cy="1167.7" r="5.2" fill="none" stroke="#C41AAE" stroke-width="1.4"/>
<line x1="1526.1" y1="1167.7" x2="1536.5" y2="1167.7" stroke="#C41AAE" stroke-width="1.4"/>
<line x1="1278.2" y1="1199.5" x2="1291.7" y2="1199.5" stroke="#222" stroke-width="1.4"/>
<text x="1266.8" y="1207.5" font-size="29.2" text-anchor="end" stroke="#000" stroke-width="0.45">DL _||_ ST</text>
<circle cx="1432.5" cy="1199.5" r="5.2" fill="none" stroke="#111111" stroke-width="1.4"/>
<line x1="1427.3" y1="1199.5" x2="1437.7" y2="1199.5" stroke="#111111" stroke-width="1.4"/>
<line x1="1278.2" y1="1231.3" x2="1291.7" y2="1231.3" stroke="#222" stroke-width="1.4"/>
<text x="1266.8" y="1239.3" font-size="29.2" text-anchor="end" stroke="#000" stroke-width="0.45">DSL _||_ WTD</text>
<circle cx="1546.7" cy="1231.3" r="5.2" fill="none" stroke="#111111" stroke-width="1.4"/>
<line x1="1541.5" y1="1231.3" x2="1551.9" y2="1231.3" stroke="#111111" stroke-width="1.4"/>
<line x1="1278.2" y1="1263.1" x2="1291.7" y2="1263.1" stroke="#222" stroke-width="1.4"/>
<text x="1266.8" y="1271.1" font-size="29.2" text-anchor="end" stroke="#000" stroke-width="0.45">VPD _||_ WD | DL, DSL, PAR</text>
<circle cx="1430.5" cy="1263.1" r="5.2" fill="none" stroke="#C41AAE" stroke-width="1.4"/>
<line x1="1425.3" y1="1263.1" x2="1435.7" y2="1263.1" stroke="#C41AAE" stroke-width="1.4"/>
<line x1="1278.2" y1="1294.8" x2="1291.7" y2="1294.8" stroke="#222" stroke-width="1.4"/>
<text x="1266.8" y="1302.8" font-size="29.2" text-anchor="end" stroke="#000" stroke-width="0.45">VPD _||_ WD | DSL, PAR, PRE</text>
<circle cx="1429.6" cy="1294.8" r="5.2" fill="none" stroke="#C41AAE" stroke-width="1.4"/>
<line x1="1424.4" y1="1294.8" x2="1434.8" y2="1294.8" stroke="#C41AAE" stroke-width="1.4"/>
<line x1="1278.2" y1="1326.6" x2="1291.7" y2="1326.6" stroke="#222" stroke-width="1.4"/>
<text x="1266.8" y="1334.6" font-size="29.2" text-anchor="end" stroke="#000" stroke-width="0.45">PAR _||_ SF | DSL</text>
<circle cx="1424.4" cy="1326.6" r="5.2" fill="none" stroke="#C41AAE" stroke-width="1.4"/>
<line x1="1419.2" y1="1326.6" x2="1429.6" y2="1326.6" stroke="#C41AAE" stroke-width="1.4"/>
<line x1="1375.5" y1="1350.9" x2="1375.5" y2="1364.9" stroke="#222" stroke-width="1.5"/>
<text x="1383" y="1401.3" font-size="28.6" text-anchor="middle" stroke="#000" stroke-width="0.45">−0.5</text>
<line x1="1488.6" y1="1350.9" x2="1488.6" y2="1364.9" stroke="#222" stroke-width="1.5"/>
<text x="1496.1" y="1401.3" font-size="28.6" text-anchor="middle" stroke="#000" stroke-width="0.45">0.0</text>
<line x1="1601.7" y1="1350.9" x2="1601.7" y2="1364.9" stroke="#222" stroke-width="1.5"/>
<text x="1609.2" y="1401.3" font-size="28.6" text-anchor="middle" stroke="#000" stroke-width="0.45">0.5</text>
<line x1="1714.8" y1="1350.9" x2="1714.8" y2="1364.9" stroke="#222" stroke-width="1.5"/>
<text x="1722.3" y="1401.3" font-size="28.6" text-anchor="middle" stroke="#000" stroke-width="0.45">1.0</text>
<text x="1553.7" y="1432.4" font-size="29.6" text-anchor="middle" stroke="#000" stroke-width="0.45">test statistic (95% CI)</text>
<text x="1305" y="731.2" font-size="33" stroke="#000" stroke-width="0.45">d</text>
<line x1="103.6" y1="1587.9" x2="517" y2="1587.9" stroke="#222" stroke-width="1.6"/>
<path d="M121.4,1620 C122.1,1620.5 124.1,1622.1 125.5,1623 C126.8,1624 128.2,1624.9 129.5,1625.8 C130.9,1626.7 132.2,1627.6 133.6,1628.4 C134.9,1629.2 136.3,1630 137.6,1630.8 C139,1631.6 140.3,1632.3 141.7,1633 C143,1633.7 144.4,1634.4 145.7,1635.1 C147.1,1635.7 148.4,1636.4 149.8,1637 C151.1,1637.6 152.5,1638.2 153.8,1638.7 C155.2,1639.3 156.5,1639.9 157.9,1640.4 C159.2,1640.9 160.6,1641.4 161.9,1641.9 C163.3,1642.4 164.6,1642.9 166,1643.4 C167.3,1643.9 168.7,1644.4 170,1645 C171.4,1645.5 172.7,1646.1 174.1,1646.7 C175.4,1647.3 176.8,1647.9 178.1,1648.5 C179.5,1649.2 180.8,1649.9 182.2,1650.7 C183.5,1651.5 184.9,1652.3 186.2,1653.3 C187.6,1654.2 188.9,1655.2 190.3,1656.3 C191.6,1657.3 193,1658.5 194.3,1659.8 C195.7,1661 197.1,1662.4 198.4,1663.8 C199.8,1665.2 201.1,1666.8 202.5,1668.3 C203.8,1669.8 205.2,1671.4 206.5,1673 C207.9,1674.7 209.2,1676.3 210.6,1678 C211.9,1679.6 213.3,1681.3 214.6,1683 C216,1684.6 217.3,1686.3 218.7,1687.9 C220,1689.5 221.4,1691.2 222.7,1692.7 C224.1,1694.2 225.4,1695.8 226.8,1697.2 C228.1,1698.6 229.5,1700 230.8,1701.3 C232.2,1702.6 233.5,1703.8 234.9,1704.9 C236.2,1706 237.6,1707.1 238.9,1708 C240.3,1709 241.6,1709.9 243,1710.7 C244.3,1711.5 245.7,1712.3 247,1713 C248.4,1713.7 249.7,1714.3 251.1,1714.9 C252.4,1715.4 253.8,1715.9 255.1,1716.4 C256.5,1716.8 257.8,1717.2 259.2,1717.6 C260.5,1717.9 261.9,1718.2 263.2,1718.5 C264.6,1718.7 265.9,1719 267.3,1719.1 C268.6,1719.3 270,1719.4 271.3,1719.6 C272.7,1719.7 274.1,1719.7 275.4,1719.8 C276.8,1719.8 278.1,1719.8 279.5,1719.8 C280.8,1719.8 282.2,1719.8 283.5,1719.7 C284.9,1719.6 286.2,1719.5 287.6,1719.4 C288.9,1719.3 290.3,1719.2 291.6,1719.1 C293,1718.9 294.3,1718.8 295.7,1718.6 C297,1718.5 298.4,1718.3 299.7,1718.1 C301.1,1717.9 302.4,1717.7 303.8,1717.5 C305.1,1717.3 306.5,1717.1 307.8,1716.9 C309.2,1716.7 310.5,1716.5 311.9,1716.3 C313.2,1716.2 314.6,1716 315.9,1715.8 C317.3,1715.6 318.6,1715.4 320,1715.3 C321.3,1715.1 322.7,1714.9 324,1714.8 C325.4,1714.6 326.7,1714.5 328.1,1714.4 C329.4,1714.3 330.8,1714.1 332.1,1714 C333.5,1713.9 334.8,1713.8 336.2,1713.8 C337.5,1713.7 338.9,1713.6 340.2,1713.5 C341.6,1713.5 342.9,1713.4 344.3,1713.3 C345.6,1713.3 347,1713.2 348.4,1713.2 C349.7,1713.1 351.1,1713.1 352.4,1713.1 C353.8,1713 355.1,1713 356.5,1713 C357.8,1713 359.2,1713 360.5,1713 C361.9,1713 363.2,1713 364.6,1713 C365.9,1713 367.3,1713 368.6,1713 C370,1713 371.3,1713 372.7,1713 C374,1713 375.4,1713 376.7,1713 C378.1,1713.1 379.4,1713.1 380.8,1713.1 C382.1,1713.1 383.5,1713.1 384.8,1713.2 C386.2,1713.2 387.5,1713.2 388.9,1713.3 C390.2,1713.3 391.6,1713.3 392.9,1713.4 C394.3,1713.4 395.6,1713.4 397,1713.5 C398.3,1713.5 399.7,1713.6 401,1713.6 C402.4,1713.7 403.7,1713.7 405.1,1713.8 C406.4,1713.8 407.8,1713.9 409.1,1713.9 C410.5,1714 411.8,1714 413.2,1714.1 C414.5,1714.2 415.9,1714.2 417.2,1714.3 C418.6,1714.4 419.9,1714.4 421.3,1714.5 C422.6,1714.6 424,1714.7 425.4,1714.8 C426.7,1714.8 428.1,1714.9 429.4,1715 C430.8,1715.1 432.1,1715.2 433.5,1715.3 C434.8,1715.4 436.2,1715.5 437.5,1715.6 C438.9,1715.7 440.2,1715.8 441.6,1715.9 C442.9,1716 444.3,1716.1 445.6,1716.3 C447,1716.4 448.3,1716.5 449.7,1716.6 C451,1716.7 452.4,1716.9 453.7,1717 C455.1,1717.1 456.4,1717.3 457.8,1717.4 C459.1,1717.6 460.5,1717.7 461.8,1717.9 C463.2,1718 464.5,1718.2 465.9,1718.3 C467.2,1718.5 468.6,1718.6 469.9,1718.8 C471.3,1719 472.6,1719.1 474,1719.3 C475.3,1719.5 476.7,1719.7 478,1719.8 C479.4,1720 480.7,1720.2 482.1,1720.4 C483.4,1720.6 484.8,1720.8 486.1,1721 C487.5,1721.2 488.8,1721.4 490.2,1721.6 C491.5,1721.8 492.9,1722.1 494.2,1722.3 C495.6,1722.5 497.6,1722.9 498.3,1723 L498.3,1772.5 C497.6,1772.4 495.6,1772 494.2,1771.7 C492.9,1771.4 491.5,1771.1 490.2,1770.8 C488.8,1770.6 487.5,1770.3 486.1,1770 C484.8,1769.7 483.4,1769.4 482.1,1769 C480.7,1768.7 479.4,1768.4 478,1768.1 C476.7,1767.8 475.3,1767.5 474,1767.1 C472.6,1766.8 471.3,1766.5 469.9,1766.2 C468.6,1765.8 467.2,1765.5 465.9,1765.2 C464.5,1764.8 463.2,1764.5 461.8,1764.2 C460.5,1763.8 459.1,1763.5 457.8,1763.1 C456.4,1762.8 455.1,1762.4 453.7,1762.1 C452.4,1761.7 451,1761.4 449.7,1761.1 C448.3,1760.7 447,1760.4 445.6,1760 C444.3,1759.7 442.9,1759.3 441.6,1759 C440.2,1758.6 438.9,1758.3 437.5,1757.9 C436.2,1757.6 434.8,1757.2 433.5,1756.9 C432.1,1756.6 430.8,1756.2 429.4,1755.9 C428.1,1755.5 426.7,1755.2 425.4,1754.9 C424,1754.5 422.6,1754.2 421.3,1753.9 C419.9,1753.5 418.6,1753.2 417.2,1752.9 C415.9,1752.5 414.5,1752.2 413.2,1751.9 C411.8,1751.6 410.5,1751.3 409.1,1751 C407.8,1750.7 406.4,1750.3 405.1,1750 C403.7,1749.7 402.4,1749.5 401,1749.2 C399.7,1748.9 398.3,1748.6 397,1748.3 C395.6,1748 394.3,1747.7 392.9,1747.5 C391.6,1747.2 390.2,1747 388.9,1746.7 C387.5,1746.4 386.2,1746.2 384.8,1745.9 C383.5,1745.7 382.1,1745.5 380.8,1745.2 C379.4,1745 378.1,1744.8 376.7,1744.6 C375.4,1744.4 374,1744.2 372.7,1744 C371.3,1743.8 370,1743.6 368.6,1743.4 C367.3,1743.2 365.9,1743.1 364.6,1742.9 C363.2,1742.7 361.9,1742.6 360.5,1742.4 C359.2,1742.2 357.8,1742.1 356.5,1742 C355.1,1741.8 353.8,1741.7 352.4,1741.5 C351.1,1741.4 349.7,1741.3 348.4,1741.1 C347,1741 345.6,1740.9 344.3,1740.8 C342.9,1740.7 341.6,1740.6 340.2,1740.4 C338.9,1740.3 337.5,1740.2 336.2,1740.1 C334.8,1740 333.5,1739.9 332.1,1739.8 C330.8,1739.7 329.4,1739.6 328.1,1739.5 C326.7,1739.4 325.4,1739.3 324,1739.2 C322.7,1739.2 321.3,1739.1 320,1739 C318.6,1738.9 317.3,1738.8 315.9,1738.7 C314.6,1738.6 313.2,1738.5 311.9,1738.4 C310.5,1738.3 309.2,1738.2 307.8,1738.1 C306.5,1738 305.1,1737.9 303.8,1737.8 C302.4,1737.8 301.1,1737.7 299.7,1737.6 C298.4,1737.4 297,1737.3 295.7,1737.2 C294.3,1737.1 293,1737 291.6,1736.9 C290.3,1736.8 288.9,1736.7 287.6,1736.6 C286.2,1736.4 284.9,1736.3 283.5,1736.2 C282.2,1736.1 280.8,1735.9 279.5,1735.8 C278.1,1735.6 276.8,1735.5 275.4,1735.3 C274.1,1735.2 272.7,1735 271.3,1734.9 C270,1734.7 268.6,1734.6 267.3,1734.4 C265.9,1734.2 264.6,1734 263.2,1733.8 C261.9,1733.6 260.5,1733.3 259.2,1733.1 C257.8,1732.8 256.5,1732.5 255.1,1732.1 C253.8,1731.7 252.4,1731.3 251.1,1730.8 C249.7,1730.4 248.4,1729.8 247,1729.2 C245.7,1728.6 244.3,1727.9 243,1727.1 C241.6,1726.3 240.3,1725.4 238.9,1724.4 C237.6,1723.4 236.2,1722.3 234.9,1721.1 C233.5,1719.9 232.2,1718.6 230.8,1717.1 C229.5,1715.7 228.1,1714.1 226.8,1712.4 C225.4,1710.8 224.1,1709 222.7,1707.2 C221.4,1705.5 220,1703.6 218.7,1701.8 C217.3,1700 216,1698.2 214.6,1696.4 C213.3,1694.7 211.9,1692.9 210.6,1691.2 C209.2,1689.5 207.9,1687.8 206.5,1686.2 C205.2,1684.6 203.8,1683 202.5,1681.4 C201.1,1679.9 199.8,1678.4 198.4,1677 C197.1,1675.6 195.7,1674.2 194.3,1672.9 C193,1671.6 191.6,1670.4 190.3,1669.2 C188.9,1668.1 187.6,1667 186.2,1666 C184.9,1665 183.5,1664.1 182.2,1663.2 C180.8,1662.4 179.5,1661.6 178.1,1660.9 C176.8,1660.2 175.4,1659.6 174.1,1659.1 C172.7,1658.6 171.4,1658.1 170,1657.8 C168.7,1657.4 167.3,1657.2 166,1657 C164.6,1656.8 163.3,1656.8 161.9,1656.8 C160.6,1656.8 159.2,1656.9 157.9,1657.1 C156.5,1657.3 155.2,1657.6 153.8,1658 C152.5,1658.3 151.1,1658.8 149.8,1659.3 C148.4,1659.8 147.1,1660.4 145.7,1661.1 C144.4,1661.7 143,1662.4 141.7,1663.2 C140.3,1663.9 139,1664.7 137.6,1665.5 C136.3,1666.3 134.9,1667.2 133.6,1668 C132.2,1668.9 130.9,1669.8 129.5,1670.6 C128.2,1671.5 126.8,1672.4 125.5,1673.2 C124.1,1674.1 122.1,1675.3 121.4,1675.7 Z" fill="#DA97B6"/>
<path d="M121.4,1648.2 C122.1,1648.2 124.1,1648.2 125.5,1648.2 C126.8,1648.2 128.2,1648.2 129.5,1648.2 C130.9,1648.2 132.2,1648.1 133.6,1648.1 C134.9,1648.1 136.3,1648 137.6,1648 C139,1648 140.3,1648 141.7,1648 C143,1648 144.4,1648 145.7,1648 C147.1,1648 148.4,1648.1 149.8,1648.1 C151.1,1648.2 152.5,1648.3 153.8,1648.4 C155.2,1648.5 156.5,1648.7 157.9,1648.9 C159.2,1649 160.6,1649.3 161.9,1649.5 C163.3,1649.8 164.6,1650.1 166,1650.4 C167.3,1650.8 168.7,1651.2 170,1651.6 C171.4,1652.1 172.7,1652.5 174.1,1653.1 C175.4,1653.7 176.8,1654.3 178.1,1655 C179.5,1655.6 180.8,1656.4 182.2,1657.2 C183.5,1658 184.9,1658.9 186.2,1659.9 C187.6,1660.8 188.9,1661.9 190.3,1663 C191.6,1664.1 193,1665.3 194.3,1666.6 C195.7,1667.9 197.1,1669.3 198.4,1670.7 C199.8,1672.1 201.1,1673.6 202.5,1675.1 C203.8,1676.7 205.2,1678.3 206.5,1679.8 C207.9,1681.4 209.2,1683.1 210.6,1684.7 C211.9,1686.4 213.3,1688 214.6,1689.7 C216,1691.3 217.3,1692.9 218.7,1694.6 C220,1696.2 221.4,1697.8 222.7,1699.3 C224.1,1700.8 225.4,1702.4 226.8,1703.8 C228.1,1705.2 229.5,1706.6 230.8,1708 C232.2,1709.3 233.5,1710.5 234.9,1711.7 C236.2,1712.8 237.6,1713.9 238.9,1714.9 C240.3,1716 241.6,1716.9 243,1717.8 C244.3,1718.6 245.7,1719.4 247,1720.2 C248.4,1720.9 249.7,1721.6 251.1,1722.1 C252.4,1722.7 253.8,1723.2 255.1,1723.7 C256.5,1724.1 257.8,1724.5 259.2,1724.8 C260.5,1725.2 261.9,1725.4 263.2,1725.7 C264.6,1725.9 265.9,1726.1 267.3,1726.2 C268.6,1726.4 270,1726.6 271.3,1726.7 C272.7,1726.9 274.1,1727 275.4,1727.1 C276.8,1727.2 278.1,1727.4 279.5,1727.5 C280.8,1727.6 282.2,1727.7 283.5,1727.8 C284.9,1727.8 286.2,1727.9 287.6,1728 C288.9,1728.1 290.3,1728.1 291.6,1728.2 C293,1728.2 294.3,1728.3 295.7,1728.3 C297,1728.4 298.4,1728.4 299.7,1728.5 C301.1,1728.5 302.4,1728.5 303.8,1728.5 C305.1,1728.6 306.5,1728.6 307.8,1728.6 C309.2,1728.6 310.5,1728.6 311.9,1728.6 C313.2,1728.6 314.6,1728.6 315.9,1728.6 C317.3,1728.6 318.6,1728.6 320,1728.6 C321.3,1728.6 322.7,1728.6 324,1728.6 C325.4,1728.5 326.7,1728.5 328.1,1728.5 C329.4,1728.5 330.8,1728.5 332.1,1728.5 C333.5,1728.5 334.8,1728.5 336.2,1728.4 C337.5,1728.4 338.9,1728.4 340.2,1728.4 C341.6,1728.4 342.9,1728.4 344.3,1728.4 C345.6,1728.4 347,1728.4 348.4,1728.4 C349.7,1728.4 351.1,1728.4 352.4,1728.4 C353.8,1728.4 355.1,1728.4 356.5,1728.4 C357.8,1728.4 359.2,1728.4 360.5,1728.4 C361.9,1728.5 363.2,1728.5 364.6,1728.5 C365.9,1728.5 367.3,1728.6 368.6,1728.6 C370,1728.7 371.3,1728.7 372.7,1728.8 C374,1728.8 375.4,1728.9 376.7,1729 C378.1,1729 379.4,1729.1 380.8,1729.2 C382.1,1729.3 383.5,1729.4 384.8,1729.5 C386.2,1729.6 387.5,1729.7 388.9,1729.8 C390.2,1729.9 391.6,1730 392.9,1730.2 C394.3,1730.3 395.6,1730.4 397,1730.6 C398.3,1730.7 399.7,1730.9 401,1731 C402.4,1731.2 403.7,1731.3 405.1,1731.5 C406.4,1731.7 407.8,1731.8 409.1,1732 C410.5,1732.2 411.8,1732.4 413.2,1732.5 C414.5,1732.7 415.9,1732.9 417.2,1733.1 C418.6,1733.3 419.9,1733.5 421.3,1733.7 C422.6,1733.9 424,1734.1 425.4,1734.3 C426.7,1734.5 428.1,1734.7 429.4,1734.9 C430.8,1735.2 432.1,1735.4 433.5,1735.6 C434.8,1735.8 436.2,1736 437.5,1736.3 C438.9,1736.5 440.2,1736.7 441.6,1737 C442.9,1737.2 444.3,1737.4 445.6,1737.7 C447,1737.9 448.3,1738.1 449.7,1738.4 C451,1738.6 452.4,1738.9 453.7,1739.1 C455.1,1739.4 456.4,1739.6 457.8,1739.8 C459.1,1740.1 460.5,1740.3 461.8,1740.6 C463.2,1740.8 464.5,1741.1 465.9,1741.3 C467.2,1741.6 468.6,1741.8 469.9,1742.1 C471.3,1742.3 472.6,1742.6 474,1742.8 C475.3,1743.1 476.7,1743.3 478,1743.6 C479.4,1743.8 480.7,1744.1 482.1,1744.3 C483.4,1744.6 484.8,1744.8 486.1,1745 C487.5,1745.3 488.8,1745.5 490.2,1745.8 C491.5,1746 492.9,1746.2 494.2,1746.5 C495.6,1746.7 497.6,1747.1 498.3,1747.2" fill="none" stroke="#A3034A" stroke-width="3.3" stroke-linejoin="round"/>
<rect x="103.6" y="1500.4" width="413.4" height="339.2" fill="none" stroke="#222" stroke-width="1.6"/>
<line x1="98.1" y1="1504.4" x2="103.6" y2="1504.4" stroke="#222" stroke-width="1.4"/>
<text x="93.6" y="1515" font-size="29" text-anchor="end" stroke="#000" stroke-width="0.45">0.5</text>
<line x1="98.1" y1="1587.9" x2="103.6" y2="1587.9" stroke="#222" stroke-width="1.4"/>
<text x="93.6" y="1598.5" font-size="29" text-anchor="end" stroke="#000" stroke-width="0.45">0.0</text>
<line x1="98.1" y1="1671.6" x2="103.6" y2="1671.6" stroke="#222" stroke-width="1.4"/>
<text x="93.6" y="1682.2" font-size="29" text-anchor="end" stroke="#000" stroke-width="0.45">−0.5</text>
<line x1="98.1" y1="1755" x2="103.6" y2="1755" stroke="#222" stroke-width="1.4"/>
<text x="93.6" y="1765.6" font-size="29" text-anchor="end" stroke="#000" stroke-width="0.45">−1.0</text>
<line x1="98.1" y1="1838.6" x2="103.6" y2="1838.6" stroke="#222" stroke-width="1.4"/>
<text x="93.6" y="1849.2" font-size="29" text-anchor="end" stroke="#000" stroke-width="0.45">−1.5</text>
<line x1="121.4" y1="1839.6" x2="121.4" y2="1845.1" stroke="#222" stroke-width="1.4"/>
<text x="119.9" y="1870.8" font-size="29" text-anchor="middle" stroke="#000" stroke-width="0.45">0</text>
<line x1="215.4" y1="1839.6" x2="215.4" y2="1845.1" stroke="#222" stroke-width="1.4"/>
<text x="213.9" y="1870.8" font-size="29" text-anchor="middle" stroke="#000" stroke-width="0.45">10</text>
<line x1="309.5" y1="1839.6" x2="309.5" y2="1845.1" stroke="#222" stroke-width="1.4"/>
<text x="308" y="1870.8" font-size="29" text-anchor="middle" stroke="#000" stroke-width="0.45">20</text>
<line x1="403.5" y1="1839.6" x2="403.5" y2="1845.1" stroke="#222" stroke-width="1.4"/>
<text x="402" y="1870.8" font-size="29" text-anchor="middle" stroke="#000" stroke-width="0.45">30</text>
<line x1="497.6" y1="1839.6" x2="497.6" y2="1845.1" stroke="#222" stroke-width="1.4"/>
<text x="496.1" y="1870.8" font-size="29" text-anchor="middle" stroke="#000" stroke-width="0.45">40</text>
<text x="308.5" y="1903.2" font-size="29" text-anchor="middle" stroke="#000" stroke-width="0.45">HAND (meter)</text>
<text transform="translate(25.4,1666.8) rotate(-90)" font-size="29" text-anchor="middle" stroke="#000" stroke-width="0.45">EVI anomaly</text>
<text x="111" y="1527.3" font-size="33" stroke="#000" stroke-width="0.45">e</text>
<text x="139" y="1821.2" font-size="19.6">Forest responses(EVI anomaly)=f(WTD)</text>
<line x1="711.8" y1="1585.7" x2="1124.6" y2="1585.7" stroke="#222" stroke-width="1.6"/>
<path d="M734,1707 C734.7,1707.1 736.7,1707.3 738.1,1707.4 C739.4,1707.6 740.8,1707.7 742.2,1707.8 C743.5,1707.9 744.9,1708 746.3,1708.1 C747.6,1708.2 749,1708.3 750.3,1708.4 C751.7,1708.4 753.1,1708.5 754.4,1708.5 C755.8,1708.6 757.2,1708.6 758.5,1708.7 C759.9,1708.7 761.2,1708.7 762.6,1708.7 C764,1708.7 765.3,1708.7 766.7,1708.7 C768.1,1708.6 769.4,1708.6 770.8,1708.6 C772.1,1708.5 773.5,1708.5 774.9,1708.4 C776.2,1708.3 777.6,1708.2 779,1708.1 C780.3,1708 781.7,1707.9 783,1707.8 C784.4,1707.7 785.8,1707.6 787.1,1707.4 C788.5,1707.3 789.9,1707.1 791.2,1707 C792.6,1706.8 793.9,1706.6 795.3,1706.4 C796.7,1706.2 798,1706 799.4,1705.8 C800.7,1705.6 802.1,1705.3 803.5,1705.1 C804.8,1704.8 806.2,1704.6 807.6,1704.3 C808.9,1704 810.3,1703.7 811.6,1703.4 C813,1703.1 814.4,1702.8 815.7,1702.5 C817.1,1702.2 818.5,1701.8 819.8,1701.5 C821.2,1701.1 822.5,1700.7 823.9,1700.4 C825.3,1700 826.6,1699.6 828,1699.2 C829.4,1698.7 830.7,1698.3 832.1,1697.9 C833.4,1697.4 834.8,1697 836.2,1696.5 C837.5,1696 838.9,1695.6 840.3,1695.1 C841.6,1694.6 843,1694 844.3,1693.5 C845.7,1693 847.1,1692.4 848.4,1691.9 C849.8,1691.3 851.2,1690.8 852.5,1690.2 C853.9,1689.6 855.2,1689 856.6,1688.4 C858,1687.7 859.3,1687.1 860.7,1686.5 C862,1685.8 863.4,1685.1 864.8,1684.5 C866.1,1683.8 867.5,1683.1 868.9,1682.4 C870.2,1681.7 871.6,1680.9 872.9,1680.2 C874.3,1679.4 875.7,1678.7 877,1677.9 C878.4,1677.1 879.8,1676.3 881.1,1675.5 C882.5,1674.7 883.8,1673.9 885.2,1673.1 C886.6,1672.2 887.9,1671.4 889.3,1670.5 C890.7,1669.6 892,1668.7 893.4,1667.8 C894.7,1666.9 896.1,1666 897.5,1665.1 C898.8,1664.1 900.2,1663.2 901.6,1662.2 C902.9,1661.3 904.3,1660.3 905.6,1659.3 C907,1658.3 908.4,1657.3 909.7,1656.3 C911.1,1655.3 912.5,1654.3 913.8,1653.2 C915.2,1652.2 916.5,1651.1 917.9,1650.1 C919.3,1649 920.6,1648 922,1646.9 C923.3,1645.9 924.7,1644.8 926.1,1643.7 C927.4,1642.7 928.8,1641.6 930.2,1640.5 C931.5,1639.5 932.9,1638.4 934.2,1637.4 C935.6,1636.3 937,1635.3 938.3,1634.3 C939.7,1633.2 941.1,1632.2 942.4,1631.2 C943.8,1630.2 945.1,1629.2 946.5,1628.2 C947.9,1627.3 949.2,1626.3 950.6,1625.3 C952,1624.4 953.3,1623.5 954.7,1622.6 C956,1621.7 957.4,1620.8 958.8,1620 C960.1,1619.1 961.5,1618.3 962.9,1617.5 C964.2,1616.7 965.6,1616 966.9,1615.3 C968.3,1614.5 969.7,1613.8 971,1613.2 C972.4,1612.5 973.8,1611.9 975.1,1611.3 C976.5,1610.7 977.8,1610.2 979.2,1609.7 C980.6,1609.2 981.9,1608.7 983.3,1608.2 C984.6,1607.8 986,1607.4 987.4,1607 C988.7,1606.6 990.1,1606.3 991.5,1606 C992.8,1605.7 994.2,1605.4 995.5,1605.2 C996.9,1604.9 998.3,1604.7 999.6,1604.6 C1001,1604.4 1002.4,1604.3 1003.7,1604.1 C1005.1,1604 1006.4,1604 1007.8,1603.9 C1009.2,1603.9 1010.5,1603.8 1011.9,1603.9 C1013.3,1603.9 1014.6,1603.9 1016,1604 C1017.3,1604.1 1018.7,1604.2 1020.1,1604.3 C1021.4,1604.5 1022.8,1604.6 1024.2,1604.8 C1025.5,1605 1026.9,1605.2 1028.2,1605.5 C1029.6,1605.7 1031,1606 1032.3,1606.3 C1033.7,1606.6 1035.1,1607 1036.4,1607.3 C1037.8,1607.7 1039.1,1608.1 1040.5,1608.5 C1041.9,1608.9 1043.2,1609.3 1044.6,1609.8 C1045.9,1610.2 1047.3,1610.7 1048.7,1611.2 C1050,1611.6 1051.4,1612.1 1052.8,1612.6 C1054.1,1613.1 1055.5,1613.5 1056.8,1614 C1058.2,1614.5 1059.6,1615 1060.9,1615.4 C1062.3,1615.9 1063.7,1616.3 1065,1616.7 C1066.4,1617.2 1067.7,1617.6 1069.1,1618 C1070.5,1618.3 1071.8,1618.7 1073.2,1619 C1074.6,1619.3 1075.9,1619.6 1077.3,1619.9 C1078.6,1620.1 1080,1620.3 1081.4,1620.5 C1082.7,1620.7 1084.1,1620.8 1085.5,1620.9 C1086.8,1621 1088.2,1621.1 1089.5,1621.1 C1090.9,1621.1 1092.3,1621.1 1093.6,1621 C1095,1620.9 1096.4,1620.8 1097.7,1620.7 C1099.1,1620.5 1101.1,1620.1 1101.8,1620 L1101.8,1645.5 C1101.1,1645.6 1099.1,1645.8 1097.7,1645.9 C1096.4,1646 1095,1646 1093.6,1646 C1092.3,1645.9 1090.9,1645.9 1089.5,1645.7 C1088.2,1645.6 1086.8,1645.5 1085.5,1645.3 C1084.1,1645.1 1082.7,1644.8 1081.4,1644.6 C1080,1644.3 1078.6,1644 1077.3,1643.7 C1075.9,1643.4 1074.6,1643 1073.2,1642.6 C1071.8,1642.3 1070.5,1641.9 1069.1,1641.5 C1067.7,1641.1 1066.4,1640.6 1065,1640.2 C1063.7,1639.8 1062.3,1639.3 1060.9,1638.9 C1059.6,1638.4 1058.2,1638 1056.8,1637.5 C1055.5,1637.1 1054.1,1636.6 1052.8,1636.2 C1051.4,1635.7 1050,1635.3 1048.7,1634.9 C1047.3,1634.5 1045.9,1634 1044.6,1633.7 C1043.2,1633.3 1041.9,1632.9 1040.5,1632.5 C1039.1,1632.2 1037.8,1631.8 1036.4,1631.5 C1035.1,1631.2 1033.7,1630.9 1032.3,1630.7 C1031,1630.4 1029.6,1630.2 1028.2,1630 C1026.9,1629.8 1025.5,1629.7 1024.2,1629.5 C1022.8,1629.4 1021.4,1629.3 1020.1,1629.2 C1018.7,1629.1 1017.3,1629.1 1016,1629.1 C1014.6,1629.1 1013.3,1629.1 1011.9,1629.1 C1010.5,1629.2 1009.2,1629.2 1007.8,1629.4 C1006.4,1629.5 1005.1,1629.6 1003.7,1629.8 C1002.4,1629.9 1001,1630.1 999.6,1630.4 C998.3,1630.6 996.9,1630.9 995.5,1631.2 C994.2,1631.5 992.8,1631.8 991.5,1632.2 C990.1,1632.5 988.7,1632.9 987.4,1633.4 C986,1633.8 984.6,1634.3 983.3,1634.8 C981.9,1635.3 980.6,1635.8 979.2,1636.4 C977.8,1637 976.5,1637.6 975.1,1638.2 C973.8,1638.9 972.4,1639.5 971,1640.3 C969.7,1641 968.3,1641.7 966.9,1642.5 C965.6,1643.3 964.2,1644.1 962.9,1644.9 C961.5,1645.8 960.1,1646.7 958.8,1647.5 C957.4,1648.4 956,1649.3 954.7,1650.3 C953.3,1651.2 952,1652.1 950.6,1653.1 C949.2,1654 947.9,1655 946.5,1655.9 C945.1,1656.9 943.8,1657.9 942.4,1658.8 C941.1,1659.8 939.7,1660.8 938.3,1661.7 C937,1662.7 935.6,1663.6 934.2,1664.6 C932.9,1665.5 931.5,1666.4 930.2,1667.4 C928.8,1668.3 927.4,1669.2 926.1,1670.2 C924.7,1671.1 923.3,1672.1 922,1673.1 C920.6,1674.1 919.3,1675.2 917.9,1676.3 C916.5,1677.4 915.2,1678.6 913.8,1679.8 C912.5,1681 911.1,1682.2 909.7,1683.4 C908.4,1684.6 907,1685.8 905.6,1687 C904.3,1688.2 902.9,1689.4 901.6,1690.5 C900.2,1691.6 898.8,1692.7 897.5,1693.7 C896.1,1694.8 894.7,1695.7 893.4,1696.6 C892,1697.5 890.7,1698.4 889.3,1699.2 C887.9,1700.1 886.6,1700.9 885.2,1701.7 C883.8,1702.4 882.5,1703.2 881.1,1703.9 C879.8,1704.7 878.4,1705.4 877,1706.1 C875.7,1706.7 874.3,1707.4 872.9,1708.1 C871.6,1708.7 870.2,1709.3 868.9,1710 C867.5,1710.6 866.1,1711.2 864.8,1711.7 C863.4,1712.3 862,1712.8 860.7,1713.4 C859.3,1713.9 858,1714.4 856.6,1714.9 C855.2,1715.4 853.9,1715.9 852.5,1716.4 C851.2,1716.9 849.8,1717.3 848.4,1717.7 C847.1,1718.2 845.7,1718.6 844.3,1719 C843,1719.4 841.6,1719.8 840.3,1720.2 C838.9,1720.5 837.5,1720.9 836.2,1721.3 C834.8,1721.6 833.4,1721.9 832.1,1722.3 C830.7,1722.6 829.4,1722.9 828,1723.2 C826.6,1723.5 825.3,1723.8 823.9,1724 C822.5,1724.3 821.2,1724.6 819.8,1724.8 C818.5,1725.1 817.1,1725.3 815.7,1725.6 C814.4,1725.8 813,1726 811.6,1726.3 C810.3,1726.5 808.9,1726.7 807.6,1726.9 C806.2,1727.1 804.8,1727.3 803.5,1727.5 C802.1,1727.6 800.7,1727.8 799.4,1728 C798,1728.2 796.7,1728.3 795.3,1728.5 C793.9,1728.6 792.6,1728.8 791.2,1728.9 C789.9,1729.1 788.5,1729.2 787.1,1729.4 C785.8,1729.5 784.4,1729.6 783,1729.8 C781.7,1729.9 780.3,1730 779,1730.2 C777.6,1730.3 776.2,1730.4 774.9,1730.5 C773.5,1730.7 772.1,1730.8 770.8,1730.9 C769.4,1731 768.1,1731.1 766.7,1731.3 C765.3,1731.4 764,1731.5 762.6,1731.6 C761.2,1731.7 759.9,1731.8 758.5,1732 C757.2,1732.1 755.8,1732.2 754.4,1732.3 C753.1,1732.4 751.7,1732.6 750.3,1732.7 C749,1732.8 747.6,1732.9 746.3,1733.1 C744.9,1733.2 743.5,1733.4 742.2,1733.5 C740.8,1733.6 739.4,1733.8 738.1,1733.9 C736.7,1734.1 734.7,1734.3 734,1734.4 Z" fill="#DA97B6"/>
<path d="M734,1720.6 C734.7,1720.5 736.7,1720.5 738.1,1720.5 C739.4,1720.4 740.8,1720.4 742.2,1720.4 C743.5,1720.3 744.9,1720.3 746.3,1720.3 C747.6,1720.2 749,1720.2 750.3,1720.1 C751.7,1720.1 753.1,1720.1 754.4,1720 C755.8,1720 757.2,1719.9 758.5,1719.9 C759.9,1719.8 761.2,1719.8 762.6,1719.7 C764,1719.7 765.3,1719.6 766.7,1719.6 C768.1,1719.5 769.4,1719.4 770.8,1719.4 C772.1,1719.3 773.5,1719.2 774.9,1719.1 C776.2,1719 777.6,1719 779,1718.9 C780.3,1718.8 781.7,1718.7 783,1718.6 C784.4,1718.4 785.8,1718.3 787.1,1718.2 C788.5,1718.1 789.9,1718 791.2,1717.8 C792.6,1717.7 793.9,1717.5 795.3,1717.4 C796.7,1717.2 798,1717 799.4,1716.9 C800.7,1716.7 802.1,1716.5 803.5,1716.3 C804.8,1716.1 806.2,1715.9 807.6,1715.7 C808.9,1715.5 810.3,1715.2 811.6,1715 C813,1714.8 814.4,1714.5 815.7,1714.3 C817.1,1714 818.5,1713.7 819.8,1713.4 C821.2,1713.1 822.5,1712.8 823.9,1712.5 C825.3,1712.2 826.6,1711.9 828,1711.5 C829.4,1711.2 830.7,1710.8 832.1,1710.5 C833.4,1710.1 834.8,1709.7 836.2,1709.3 C837.5,1708.9 838.9,1708.5 840.3,1708 C841.6,1707.6 843,1707.2 844.3,1706.7 C845.7,1706.2 847.1,1705.7 848.4,1705.2 C849.8,1704.7 851.2,1704.2 852.5,1703.7 C853.9,1703.1 855.2,1702.6 856.6,1702 C858,1701.4 859.3,1700.9 860.7,1700.2 C862,1699.6 863.4,1699 864.8,1698.3 C866.1,1697.7 867.5,1697 868.9,1696.3 C870.2,1695.6 871.6,1694.9 872.9,1694.2 C874.3,1693.5 875.7,1692.7 877,1691.9 C878.4,1691.1 879.8,1690.3 881.1,1689.5 C882.5,1688.7 883.8,1687.9 885.2,1687 C886.6,1686.1 887.9,1685.2 889.3,1684.3 C890.7,1683.4 892,1682.5 893.4,1681.5 C894.7,1680.6 896.1,1679.6 897.5,1678.6 C898.8,1677.6 900.2,1676.6 901.6,1675.6 C902.9,1674.6 904.3,1673.6 905.6,1672.6 C907,1671.6 908.4,1670.6 909.7,1669.5 C911.1,1668.5 912.5,1667.4 913.8,1666.4 C915.2,1665.4 916.5,1664.3 917.9,1663.3 C919.3,1662.3 920.6,1661.2 922,1660.2 C923.3,1659.2 924.7,1658.1 926.1,1657.1 C927.4,1656.1 928.8,1655 930.2,1654 C931.5,1653 932.9,1651.9 934.2,1650.9 C935.6,1649.9 937,1648.8 938.3,1647.8 C939.7,1646.8 941.1,1645.8 942.4,1644.8 C943.8,1643.7 945.1,1642.7 946.5,1641.7 C947.9,1640.8 949.2,1639.8 950.6,1638.8 C952,1637.9 953.3,1636.9 954.7,1636 C956,1635.1 957.4,1634.2 958.8,1633.3 C960.1,1632.4 961.5,1631.6 962.9,1630.8 C964.2,1629.9 965.6,1629.2 966.9,1628.4 C968.3,1627.7 969.7,1626.9 971,1626.3 C972.4,1625.6 973.8,1624.9 975.1,1624.3 C976.5,1623.7 977.8,1623.2 979.2,1622.6 C980.6,1622.1 981.9,1621.6 983.3,1621.2 C984.6,1620.7 986,1620.3 987.4,1619.9 C988.7,1619.5 990.1,1619.2 991.5,1618.9 C992.8,1618.5 994.2,1618.3 995.5,1618 C996.9,1617.8 998.3,1617.6 999.6,1617.4 C1001,1617.2 1002.4,1617 1003.7,1616.9 C1005.1,1616.8 1006.4,1616.7 1007.8,1616.7 C1009.2,1616.6 1010.5,1616.6 1011.9,1616.6 C1013.3,1616.6 1014.6,1616.6 1016,1616.7 C1017.3,1616.7 1018.7,1616.8 1020.1,1616.9 C1021.4,1617.1 1022.8,1617.2 1024.2,1617.4 C1025.5,1617.6 1026.9,1617.7 1028.2,1618 C1029.6,1618.2 1031,1618.5 1032.3,1618.7 C1033.7,1619 1035.1,1619.3 1036.4,1619.6 C1037.8,1620 1039.1,1620.3 1040.5,1620.7 C1041.9,1621 1043.2,1621.4 1044.6,1621.8 C1045.9,1622.2 1047.3,1622.7 1048.7,1623.1 C1050,1623.5 1051.4,1623.9 1052.8,1624.4 C1054.1,1624.8 1055.5,1625.3 1056.8,1625.7 C1058.2,1626.2 1059.6,1626.6 1060.9,1627 C1062.3,1627.5 1063.7,1627.9 1065,1628.3 C1066.4,1628.8 1067.7,1629.2 1069.1,1629.6 C1070.5,1630 1071.8,1630.3 1073.2,1630.7 C1074.6,1631.1 1075.9,1631.4 1077.3,1631.7 C1078.6,1632 1080,1632.3 1081.4,1632.6 C1082.7,1632.8 1084.1,1633 1085.5,1633.2 C1086.8,1633.4 1088.2,1633.6 1089.5,1633.7 C1090.9,1633.8 1092.3,1633.8 1093.6,1633.9 C1095,1633.9 1096.4,1633.8 1097.7,1633.8 C1099.1,1633.7 1101.1,1633.4 1101.8,1633.4" fill="none" stroke="#A3034A" stroke-width="3.3" stroke-linejoin="round"/>
<rect x="711.8" y="1496.4" width="412.8" height="340.7" fill="none" stroke="#222" stroke-width="1.6"/>
<line x1="706.3" y1="1501.3" x2="711.8" y2="1501.3" stroke="#222" stroke-width="1.4"/>
<text x="702.2" y="1511.9" font-size="29" text-anchor="end" stroke="#000" stroke-width="0.45">0.5</text>
<line x1="706.3" y1="1585.7" x2="711.8" y2="1585.7" stroke="#222" stroke-width="1.4"/>
<text x="702.2" y="1596.3" font-size="29" text-anchor="end" stroke="#000" stroke-width="0.45">0.0</text>
<line x1="706.3" y1="1669.4" x2="711.8" y2="1669.4" stroke="#222" stroke-width="1.4"/>
<text x="702.2" y="1680" font-size="29" text-anchor="end" stroke="#000" stroke-width="0.45">−0.5</text>
<line x1="706.3" y1="1753.4" x2="711.8" y2="1753.4" stroke="#222" stroke-width="1.4"/>
<text x="702.2" y="1764" font-size="29" text-anchor="end" stroke="#000" stroke-width="0.45">−1.0</text>
<line x1="706.3" y1="1836.6" x2="711.8" y2="1836.6" stroke="#222" stroke-width="1.4"/>
<text x="702.2" y="1847.2" font-size="29" text-anchor="end" stroke="#000" stroke-width="0.45">−1.5</text>
<line x1="729.5" y1="1837.1" x2="729.5" y2="1842.6" stroke="#222" stroke-width="1.4"/>
<text x="729.5" y="1869.2" font-size="29" text-anchor="middle" stroke="#000" stroke-width="0.45">−1.5</text>
<line x1="792.2" y1="1837.1" x2="792.2" y2="1842.6" stroke="#222" stroke-width="1.4"/>
<text x="792.2" y="1869.2" font-size="29" text-anchor="middle" stroke="#000" stroke-width="0.45">−1.0</text>
<line x1="855" y1="1837.1" x2="855" y2="1842.6" stroke="#222" stroke-width="1.4"/>
<text x="855" y="1869.2" font-size="29" text-anchor="middle" stroke="#000" stroke-width="0.45">−0.5</text>
<line x1="917.8" y1="1837.1" x2="917.8" y2="1842.6" stroke="#222" stroke-width="1.4"/>
<text x="917.8" y="1869.2" font-size="29" text-anchor="middle" stroke="#000" stroke-width="0.45">0.0</text>
<line x1="980.7" y1="1837.1" x2="980.7" y2="1842.6" stroke="#222" stroke-width="1.4"/>
<text x="980.7" y="1869.2" font-size="29" text-anchor="middle" stroke="#000" stroke-width="0.45">0.5</text>
<line x1="1043.5" y1="1837.1" x2="1043.5" y2="1842.6" stroke="#222" stroke-width="1.4"/>
<text x="1043.5" y="1869.2" font-size="29" text-anchor="middle" stroke="#000" stroke-width="0.45">1.0</text>
<line x1="1106.4" y1="1837.1" x2="1106.4" y2="1842.6" stroke="#222" stroke-width="1.4"/>
<text x="1106.4" y="1869.2" font-size="29" text-anchor="middle" stroke="#000" stroke-width="0.45">1.5</text>
<text x="911.5" y="1900.4" font-size="29" text-anchor="middle" stroke="#000" stroke-width="0.45">PAR anomaly</text>
<text transform="translate(637,1663.5) rotate(-90)" font-size="29" text-anchor="middle" stroke="#000" stroke-width="0.45">EVI anomaly</text>
<text x="716.5" y="1527.5" font-size="33" stroke="#000" stroke-width="0.45">f</text>
<text x="765" y="1770.8" font-size="19.6">Forest responses(EVI anomaly)=</text>
<text x="765" y="1794.0" font-size="19.6">f(<tspan font-weight="bold">PAR anomaly</tspan>)+f(drought length)</text>
<text x="765" y="1817.2" font-size="19.6">+f(dry season length)</text>
<line x1="1320.6" y1="1585.1" x2="1733.3" y2="1585.1" stroke="#222" stroke-width="1.6"/>
<path d="M1338.9,1661 C1339.6,1661.4 1341.6,1662.4 1343,1663.2 C1344.3,1663.9 1345.7,1664.6 1347,1665.4 C1348.4,1666.1 1349.7,1666.9 1351.1,1667.7 C1352.4,1668.4 1353.8,1669.2 1355.1,1670 C1356.5,1670.7 1357.8,1671.5 1359.2,1672.3 C1360.5,1673 1361.9,1673.8 1363.2,1674.6 C1364.6,1675.4 1365.9,1676.1 1367.3,1676.9 C1368.6,1677.7 1370,1678.4 1371.3,1679.2 C1372.7,1679.9 1374,1680.7 1375.4,1681.4 C1376.7,1682.2 1378.1,1682.9 1379.4,1683.6 C1380.8,1684.4 1382.1,1685.1 1383.5,1685.8 C1384.8,1686.5 1386.2,1687.1 1387.5,1687.8 C1388.9,1688.5 1390.2,1689.1 1391.6,1689.8 C1392.9,1690.4 1394.3,1691 1395.6,1691.6 C1397,1692.2 1398.3,1692.8 1399.7,1693.4 C1401,1693.9 1402.4,1694.4 1403.7,1694.9 C1405.1,1695.5 1406.4,1695.9 1407.8,1696.4 C1409.1,1696.9 1410.5,1697.3 1411.8,1697.7 C1413.2,1698.1 1414.5,1698.5 1415.9,1698.8 C1417.2,1699.1 1418.6,1699.5 1419.9,1699.7 C1421.3,1700 1422.6,1700.2 1424,1700.5 C1425.3,1700.7 1426.7,1700.8 1428,1701 C1429.4,1701.1 1430.7,1701.2 1432.1,1701.2 C1433.4,1701.3 1434.8,1701.3 1436.1,1701.3 C1437.5,1701.2 1438.8,1701.2 1440.2,1701.1 C1441.5,1700.9 1442.9,1700.8 1444.2,1700.6 C1445.6,1700.4 1446.9,1700.1 1448.3,1699.8 C1449.6,1699.5 1451,1699.1 1452.3,1698.7 C1453.7,1698.3 1455,1697.9 1456.4,1697.4 C1457.7,1697 1459.1,1696.4 1460.4,1695.9 C1461.8,1695.3 1463.1,1694.8 1464.5,1694.2 C1465.8,1693.6 1467.2,1692.9 1468.5,1692.3 C1469.9,1691.6 1471.2,1690.9 1472.6,1690.2 C1473.9,1689.6 1475.3,1688.8 1476.6,1688.1 C1478,1687.4 1479.3,1686.7 1480.7,1685.9 C1482,1685.2 1483.4,1684.4 1484.7,1683.7 C1486.1,1682.9 1487.4,1682.2 1488.8,1681.4 C1490.1,1680.7 1491.5,1679.9 1492.8,1679.2 C1494.2,1678.4 1495.5,1677.7 1496.9,1677 C1498.2,1676.2 1499.6,1675.5 1500.9,1674.8 C1502.3,1674.2 1503.6,1673.5 1505,1672.8 C1506.3,1672.2 1507.7,1671.6 1509,1671 C1510.4,1670.4 1511.7,1669.8 1513.1,1669.2 C1514.4,1668.7 1515.8,1668.2 1517.1,1667.7 C1518.5,1667.3 1519.8,1666.8 1521.2,1666.4 C1522.5,1666.1 1523.9,1665.7 1525.2,1665.4 C1526.6,1665.1 1527.9,1664.8 1529.3,1664.6 C1530.6,1664.4 1532,1664.2 1533.3,1664.1 C1534.7,1663.9 1536,1663.8 1537.4,1663.8 C1538.7,1663.7 1540.1,1663.7 1541.4,1663.7 C1542.8,1663.7 1544.1,1663.7 1545.5,1663.8 C1546.8,1663.9 1548.2,1664 1549.5,1664.2 C1550.9,1664.3 1552.2,1664.5 1553.6,1664.7 C1554.9,1664.9 1556.3,1665.1 1557.6,1665.4 C1559,1665.6 1560.3,1665.9 1561.7,1666.2 C1563,1666.5 1564.4,1666.9 1565.7,1667.3 C1567.1,1667.6 1568.4,1668 1569.8,1668.4 C1571.1,1668.8 1572.5,1669.3 1573.8,1669.7 C1575.2,1670.2 1576.5,1670.7 1577.9,1671.2 C1579.2,1671.7 1580.6,1672.2 1581.9,1672.7 C1583.3,1673.2 1584.6,1673.8 1586,1674.4 C1587.3,1674.9 1588.7,1675.5 1590,1676.1 C1591.4,1676.7 1592.7,1677.3 1594.1,1677.9 C1595.4,1678.5 1596.8,1679.2 1598.1,1679.8 C1599.5,1680.5 1600.8,1681.1 1602.2,1681.8 C1603.5,1682.4 1604.9,1683.1 1606.2,1683.8 C1607.6,1684.4 1608.9,1685.1 1610.3,1685.8 C1611.6,1686.5 1613,1687.2 1614.3,1687.9 C1615.7,1688.6 1617,1689.3 1618.4,1690 C1619.7,1690.7 1621.1,1691.4 1622.4,1692.1 C1623.8,1692.8 1625.1,1693.5 1626.5,1694.2 C1627.8,1694.9 1629.2,1695.6 1630.5,1696.3 C1631.9,1696.9 1633.2,1697.6 1634.6,1698.3 C1635.9,1699 1637.3,1699.7 1638.6,1700.3 C1640,1701 1641.3,1701.7 1642.7,1702.3 C1644,1703 1645.4,1703.6 1646.7,1704.2 C1648.1,1704.8 1649.4,1705.5 1650.8,1706.1 C1652.1,1706.7 1653.5,1707.3 1654.8,1707.8 C1656.2,1708.4 1657.5,1709 1658.9,1709.5 C1660.2,1710.1 1661.6,1710.6 1662.9,1711.1 C1664.3,1711.6 1665.6,1712.1 1667,1712.6 C1668.3,1713 1669.7,1713.5 1671,1713.9 C1672.4,1714.3 1673.7,1714.7 1675.1,1715.1 C1676.4,1715.5 1677.8,1715.9 1679.1,1716.2 C1680.5,1716.5 1681.8,1716.8 1683.2,1717.1 C1684.5,1717.4 1685.9,1717.6 1687.2,1717.9 C1688.6,1718.1 1689.9,1718.3 1691.3,1718.4 C1692.6,1718.6 1694,1718.7 1695.3,1718.8 C1696.7,1718.9 1698,1719 1699.4,1719 C1700.7,1719 1702.1,1719 1703.4,1719 C1704.8,1719 1706.1,1718.9 1707.5,1718.8 C1708.8,1718.7 1710.2,1718.5 1711.5,1718.3 C1712.9,1718.1 1714.9,1717.7 1715.6,1717.6 L1715.6,1751.8 C1714.9,1751.8 1712.9,1752 1711.5,1752.1 C1710.2,1752.2 1708.8,1752.2 1707.5,1752.2 C1706.1,1752.2 1704.8,1752.2 1703.4,1752.1 C1702.1,1752 1700.7,1751.9 1699.4,1751.7 C1698,1751.6 1696.7,1751.4 1695.3,1751.2 C1694,1750.9 1692.6,1750.7 1691.3,1750.4 C1689.9,1750.1 1688.6,1749.8 1687.2,1749.4 C1685.9,1749 1684.5,1748.7 1683.2,1748.2 C1681.8,1747.8 1680.5,1747.4 1679.1,1746.9 C1677.8,1746.4 1676.4,1745.9 1675.1,1745.4 C1673.7,1744.9 1672.4,1744.3 1671,1743.8 C1669.7,1743.2 1668.3,1742.6 1667,1742 C1665.6,1741.4 1664.3,1740.7 1662.9,1740.1 C1661.6,1739.4 1660.2,1738.8 1658.9,1738.1 C1657.5,1737.4 1656.2,1736.7 1654.8,1736 C1653.5,1735.2 1652.1,1734.5 1650.8,1733.8 C1649.4,1733 1648.1,1732.2 1646.7,1731.5 C1645.4,1730.7 1644,1729.9 1642.7,1729.1 C1641.3,1728.3 1640,1727.5 1638.6,1726.7 C1637.3,1725.9 1635.9,1725.1 1634.6,1724.2 C1633.2,1723.4 1631.9,1722.6 1630.5,1721.8 C1629.2,1720.9 1627.8,1720.1 1626.5,1719.2 C1625.1,1718.4 1623.8,1717.6 1622.4,1716.7 C1621.1,1715.9 1619.7,1715 1618.4,1714.2 C1617,1713.4 1615.7,1712.5 1614.3,1711.7 C1613,1710.9 1611.6,1710 1610.3,1709.2 C1608.9,1708.4 1607.6,1707.6 1606.2,1706.8 C1604.9,1706 1603.5,1705.2 1602.2,1704.4 C1600.8,1703.6 1599.5,1702.8 1598.1,1702 C1596.8,1701.3 1595.4,1700.5 1594.1,1699.8 C1592.7,1699 1591.4,1698.3 1590,1697.6 C1588.7,1696.9 1587.3,1696.2 1586,1695.5 C1584.6,1694.8 1583.3,1694.2 1581.9,1693.5 C1580.6,1692.9 1579.2,1692.3 1577.9,1691.7 C1576.5,1691.1 1575.2,1690.5 1573.8,1689.9 C1572.5,1689.4 1571.1,1688.8 1569.8,1688.3 C1568.4,1687.8 1567.1,1687.3 1565.7,1686.9 C1564.4,1686.4 1563,1686 1561.7,1685.6 C1560.3,1685.2 1559,1684.8 1557.6,1684.5 C1556.3,1684.2 1554.9,1683.8 1553.6,1683.6 C1552.2,1683.3 1550.9,1683.1 1549.5,1682.9 C1548.2,1682.6 1546.8,1682.5 1545.5,1682.3 C1544.1,1682.2 1542.8,1682.1 1541.4,1682 C1540.1,1682 1538.7,1682 1537.4,1682 C1536,1682 1534.7,1682.1 1533.3,1682.2 C1532,1682.3 1530.6,1682.4 1529.3,1682.6 C1527.9,1682.8 1526.6,1683 1525.2,1683.3 C1523.9,1683.6 1522.5,1683.9 1521.2,1684.3 C1519.8,1684.7 1518.5,1685.1 1517.1,1685.6 C1515.8,1686 1514.4,1686.6 1513.1,1687.1 C1511.7,1687.6 1510.4,1688.2 1509,1688.8 C1507.7,1689.4 1506.3,1690.1 1505,1690.8 C1503.6,1691.4 1502.3,1692.1 1500.9,1692.8 C1499.6,1693.6 1498.2,1694.3 1496.9,1695.1 C1495.5,1695.8 1494.2,1696.6 1492.8,1697.4 C1491.5,1698.1 1490.1,1698.9 1488.8,1699.7 C1487.4,1700.5 1486.1,1701.3 1484.7,1702.1 C1483.4,1702.9 1482,1703.7 1480.7,1704.5 C1479.3,1705.3 1478,1706.1 1476.6,1706.9 C1475.3,1707.7 1473.9,1708.5 1472.6,1709.2 C1471.2,1710 1469.9,1710.7 1468.5,1711.5 C1467.2,1712.2 1465.8,1712.9 1464.5,1713.6 C1463.1,1714.2 1461.8,1714.9 1460.4,1715.5 C1459.1,1716.1 1457.7,1716.7 1456.4,1717.3 C1455,1717.8 1453.7,1718.4 1452.3,1718.8 C1451,1719.3 1449.6,1719.7 1448.3,1720.1 C1446.9,1720.5 1445.6,1720.9 1444.2,1721.2 C1442.9,1721.5 1441.5,1721.7 1440.2,1721.9 C1438.8,1722.1 1437.5,1722.3 1436.1,1722.5 C1434.8,1722.6 1433.4,1722.7 1432.1,1722.8 C1430.7,1722.9 1429.4,1722.9 1428,1723 C1426.7,1723 1425.3,1723 1424,1723 C1422.6,1723 1421.3,1723 1419.9,1723 C1418.6,1722.9 1417.2,1722.9 1415.9,1722.8 C1414.5,1722.8 1413.2,1722.7 1411.8,1722.7 C1410.5,1722.6 1409.1,1722.6 1407.8,1722.5 C1406.4,1722.5 1405.1,1722.4 1403.7,1722.4 C1402.4,1722.4 1401,1722.4 1399.7,1722.3 C1398.3,1722.3 1397,1722.3 1395.6,1722.3 C1394.3,1722.3 1392.9,1722.3 1391.6,1722.3 C1390.2,1722.4 1388.9,1722.4 1387.5,1722.4 C1386.2,1722.5 1384.8,1722.5 1383.5,1722.6 C1382.1,1722.6 1380.8,1722.7 1379.4,1722.8 C1378.1,1722.8 1376.7,1722.9 1375.4,1723 C1374,1723.1 1372.7,1723.2 1371.3,1723.3 C1370,1723.5 1368.6,1723.6 1367.3,1723.7 C1365.9,1723.9 1364.6,1724 1363.2,1724.2 C1361.9,1724.3 1360.5,1724.5 1359.2,1724.7 C1357.8,1724.9 1356.5,1725 1355.1,1725.3 C1353.8,1725.5 1352.4,1725.7 1351.1,1725.9 C1349.7,1726.1 1348.4,1726.4 1347,1726.6 C1345.7,1726.9 1344.3,1727.1 1343,1727.4 C1341.6,1727.7 1339.6,1728.1 1338.9,1728.3 Z" fill="#DA97B6"/>
<path d="M1338.9,1695.1 C1339.6,1695.1 1341.6,1695.4 1343,1695.6 C1344.3,1695.7 1345.7,1696 1347,1696.2 C1348.4,1696.4 1349.7,1696.6 1351.1,1696.9 C1352.4,1697.2 1353.8,1697.4 1355.1,1697.7 C1356.5,1698 1357.8,1698.3 1359.2,1698.6 C1360.5,1698.9 1361.9,1699.2 1363.2,1699.6 C1364.6,1699.9 1365.9,1700.2 1367.3,1700.6 C1368.6,1700.9 1370,1701.3 1371.3,1701.6 C1372.7,1702 1374,1702.4 1375.4,1702.7 C1376.7,1703.1 1378.1,1703.4 1379.4,1703.8 C1380.8,1704.2 1382.1,1704.5 1383.5,1704.9 C1384.8,1705.2 1386.2,1705.6 1387.5,1705.9 C1388.9,1706.3 1390.2,1706.6 1391.6,1707 C1392.9,1707.3 1394.3,1707.6 1395.6,1707.9 C1397,1708.3 1398.3,1708.6 1399.7,1708.9 C1401,1709.2 1402.4,1709.4 1403.7,1709.7 C1405.1,1710 1406.4,1710.2 1407.8,1710.5 C1409.1,1710.7 1410.5,1710.9 1411.8,1711.1 C1413.2,1711.3 1414.5,1711.5 1415.9,1711.7 C1417.2,1711.8 1418.6,1712 1419.9,1712.1 C1421.3,1712.2 1422.6,1712.3 1424,1712.3 C1425.3,1712.4 1426.7,1712.4 1428,1712.4 C1429.4,1712.4 1430.7,1712.4 1432.1,1712.3 C1433.4,1712.2 1434.8,1712.1 1436.1,1712 C1437.5,1711.8 1438.8,1711.6 1440.2,1711.4 C1441.5,1711.2 1442.9,1710.9 1444.2,1710.6 C1445.6,1710.3 1446.9,1710 1448.3,1709.6 C1449.6,1709.2 1451,1708.8 1452.3,1708.3 C1453.7,1707.8 1455,1707.3 1456.4,1706.8 C1457.7,1706.2 1459.1,1705.6 1460.4,1705 C1461.8,1704.4 1463.1,1703.8 1464.5,1703.1 C1465.8,1702.5 1467.2,1701.8 1468.5,1701.1 C1469.9,1700.4 1471.2,1699.6 1472.6,1698.9 C1473.9,1698.2 1475.3,1697.4 1476.6,1696.6 C1478,1695.9 1479.3,1695.1 1480.7,1694.3 C1482,1693.6 1483.4,1692.8 1484.7,1692 C1486.1,1691.2 1487.4,1690.4 1488.8,1689.7 C1490.1,1688.9 1491.5,1688.1 1492.8,1687.4 C1494.2,1686.6 1495.5,1685.9 1496.9,1685.1 C1498.2,1684.4 1499.6,1683.7 1500.9,1683 C1502.3,1682.3 1503.6,1681.6 1505,1680.9 C1506.3,1680.3 1507.7,1679.7 1509,1679.1 C1510.4,1678.5 1511.7,1677.9 1513.1,1677.4 C1514.4,1676.8 1515.8,1676.3 1517.1,1675.9 C1518.5,1675.4 1519.8,1675 1521.2,1674.6 C1522.5,1674.2 1523.9,1673.9 1525.2,1673.6 C1526.6,1673.3 1527.9,1673.1 1529.3,1672.9 C1530.6,1672.7 1532,1672.5 1533.3,1672.4 C1534.7,1672.3 1536,1672.2 1537.4,1672.2 C1538.7,1672.2 1540.1,1672.2 1541.4,1672.2 C1542.8,1672.2 1544.1,1672.3 1545.5,1672.4 C1546.8,1672.5 1548.2,1672.7 1549.5,1672.8 C1550.9,1673 1552.2,1673.2 1553.6,1673.5 C1554.9,1673.7 1556.3,1674 1557.6,1674.3 C1559,1674.6 1560.3,1674.9 1561.7,1675.3 C1563,1675.6 1564.4,1676 1565.7,1676.4 C1567.1,1676.8 1568.4,1677.3 1569.8,1677.7 C1571.1,1678.2 1572.5,1678.7 1573.8,1679.2 C1575.2,1679.7 1576.5,1680.2 1577.9,1680.8 C1579.2,1681.3 1580.6,1681.9 1581.9,1682.5 C1583.3,1683.1 1584.6,1683.7 1586,1684.3 C1587.3,1684.9 1588.7,1685.6 1590,1686.2 C1591.4,1686.9 1592.7,1687.5 1594.1,1688.2 C1595.4,1688.9 1596.8,1689.6 1598.1,1690.3 C1599.5,1691 1600.8,1691.7 1602.2,1692.4 C1603.5,1693.1 1604.9,1693.9 1606.2,1694.6 C1607.6,1695.4 1608.9,1696.1 1610.3,1696.9 C1611.6,1697.6 1613,1698.4 1614.3,1699.1 C1615.7,1699.9 1617,1700.7 1618.4,1701.4 C1619.7,1702.2 1621.1,1703 1622.4,1703.7 C1623.8,1704.5 1625.1,1705.3 1626.5,1706 C1627.8,1706.8 1629.2,1707.6 1630.5,1708.3 C1631.9,1709.1 1633.2,1709.9 1634.6,1710.6 C1635.9,1711.4 1637.3,1712.1 1638.6,1712.8 C1640,1713.6 1641.3,1714.3 1642.7,1715 C1644,1715.8 1645.4,1716.5 1646.7,1717.2 C1648.1,1717.9 1649.4,1718.6 1650.8,1719.2 C1652.1,1719.9 1653.5,1720.6 1654.8,1721.2 C1656.2,1721.9 1657.5,1722.5 1658.9,1723.1 C1660.2,1723.8 1661.6,1724.4 1662.9,1724.9 C1664.3,1725.5 1665.6,1726.1 1667,1726.6 C1668.3,1727.2 1669.7,1727.7 1671,1728.2 C1672.4,1728.7 1673.7,1729.2 1675.1,1729.6 C1676.4,1730.1 1677.8,1730.5 1679.1,1730.9 C1680.5,1731.3 1681.8,1731.7 1683.2,1732.1 C1684.5,1732.4 1685.9,1732.8 1687.2,1733 C1688.6,1733.3 1689.9,1733.6 1691.3,1733.8 C1692.6,1734.1 1694,1734.3 1695.3,1734.5 C1696.7,1734.6 1698,1734.8 1699.4,1734.9 C1700.7,1735 1702.1,1735 1703.4,1735.1 C1704.8,1735.1 1706.1,1735.1 1707.5,1735 C1708.8,1735 1710.2,1734.9 1711.5,1734.8 C1712.9,1734.7 1714.9,1734.4 1715.6,1734.3" fill="none" stroke="#A3034A" stroke-width="3.3" stroke-linejoin="round"/>
<rect x="1320.6" y="1496.4" width="412.7" height="341.5" fill="none" stroke="#222" stroke-width="1.6"/>
<line x1="1315.1" y1="1501.3" x2="1320.6" y2="1501.3" stroke="#222" stroke-width="1.4"/>
<text x="1311.2" y="1511.9" font-size="29" text-anchor="end" stroke="#000" stroke-width="0.45">0.5</text>
<line x1="1315.1" y1="1585.1" x2="1320.6" y2="1585.1" stroke="#222" stroke-width="1.4"/>
<text x="1311.2" y="1595.7" font-size="29" text-anchor="end" stroke="#000" stroke-width="0.45">0.0</text>
<line x1="1315.1" y1="1669.4" x2="1320.6" y2="1669.4" stroke="#222" stroke-width="1.4"/>
<text x="1311.2" y="1680" font-size="29" text-anchor="end" stroke="#000" stroke-width="0.45">−0.5</text>
<line x1="1315.1" y1="1752.7" x2="1320.6" y2="1752.7" stroke="#222" stroke-width="1.4"/>
<text x="1311.2" y="1763.3" font-size="29" text-anchor="end" stroke="#000" stroke-width="0.45">−1.0</text>
<line x1="1315.1" y1="1836.2" x2="1320.6" y2="1836.2" stroke="#222" stroke-width="1.4"/>
<text x="1311.2" y="1846.8" font-size="29" text-anchor="end" stroke="#000" stroke-width="0.45">−1.5</text>
<line x1="1339" y1="1837.9" x2="1339" y2="1843.4" stroke="#222" stroke-width="1.4"/>
<text x="1339" y="1869.4" font-size="29" text-anchor="middle" stroke="#000" stroke-width="0.45">0</text>
<line x1="1401.8" y1="1837.9" x2="1401.8" y2="1843.4" stroke="#222" stroke-width="1.4"/>
<text x="1401.8" y="1869.4" font-size="29" text-anchor="middle" stroke="#000" stroke-width="0.45">1</text>
<line x1="1464.7" y1="1837.9" x2="1464.7" y2="1843.4" stroke="#222" stroke-width="1.4"/>
<text x="1464.7" y="1869.4" font-size="29" text-anchor="middle" stroke="#000" stroke-width="0.45">2</text>
<line x1="1527.5" y1="1837.9" x2="1527.5" y2="1843.4" stroke="#222" stroke-width="1.4"/>
<text x="1527.5" y="1869.4" font-size="29" text-anchor="middle" stroke="#000" stroke-width="0.45">3</text>
<line x1="1590.3" y1="1837.9" x2="1590.3" y2="1843.4" stroke="#222" stroke-width="1.4"/>
<text x="1590.3" y="1869.4" font-size="29" text-anchor="middle" stroke="#000" stroke-width="0.45">4</text>
<line x1="1653.2" y1="1837.9" x2="1653.2" y2="1843.4" stroke="#222" stroke-width="1.4"/>
<text x="1653.2" y="1869.4" font-size="29" text-anchor="middle" stroke="#000" stroke-width="0.45">5</text>
<line x1="1716" y1="1837.9" x2="1716" y2="1843.4" stroke="#222" stroke-width="1.4"/>
<text x="1716" y="1869.4" font-size="29" text-anchor="middle" stroke="#000" stroke-width="0.45">6</text>
<text x="1528.6" y="1900.4" font-size="29" text-anchor="middle" stroke="#000" stroke-width="0.45">Drought length (month)</text>
<text transform="translate(1244.4,1663.5) rotate(-90)" font-size="29" text-anchor="middle" stroke="#000" stroke-width="0.45">EVI anomaly</text>
<text x="1326.5" y="1527.5" font-size="33" stroke="#000" stroke-width="0.45">g</text>
<text x="1364.5" y="1790.2" font-size="19.6">Forest responses(EVI anomaly)=</text>
<text x="1364.5" y="1813.5" font-size="19.6">f(<tspan font-weight="bold">drought length</tspan>)+f(dry season length)</text>
<defs><clipPath id="ch"><rect x="103.4" y="1948.8" width="413.6" height="502.7"/></clipPath></defs>
<g clip-path="url(#ch)">
<path d="M145.5,2128.5 C146.2,2128.6 148.2,2129.1 149.6,2129.4 C150.9,2129.7 152.3,2130 153.6,2130.3 C155,2130.6 156.4,2130.9 157.7,2131.2 C159.1,2131.4 160.4,2131.7 161.8,2132 C163.1,2132.3 164.5,2132.6 165.9,2132.8 C167.2,2133.1 168.6,2133.4 169.9,2133.6 C171.3,2133.9 172.6,2134.2 174,2134.4 C175.4,2134.7 176.7,2134.9 178.1,2135.2 C179.4,2135.4 180.8,2135.7 182.1,2135.9 C183.5,2136.1 184.8,2136.3 186.2,2136.6 C187.6,2136.8 188.9,2137 190.3,2137.2 C191.6,2137.4 193,2137.6 194.3,2137.8 C195.7,2138 197.1,2138.2 198.4,2138.4 C199.8,2138.5 201.1,2138.7 202.5,2138.9 C203.8,2139 205.2,2139.2 206.6,2139.3 C207.9,2139.5 209.3,2139.6 210.6,2139.7 C212,2139.9 213.3,2140 214.7,2140.1 C216.1,2140.2 217.4,2140.3 218.8,2140.4 C220.1,2140.5 221.5,2140.6 222.8,2140.7 C224.2,2140.7 225.6,2140.8 226.9,2140.8 C228.3,2140.9 229.6,2140.9 231,2141 C232.3,2141 233.7,2141 235.1,2141 C236.4,2141.1 237.8,2141.1 239.1,2141 C240.5,2141 241.8,2141 243.2,2141 C244.6,2140.9 245.9,2140.9 247.3,2140.8 C248.6,2140.8 250,2140.7 251.3,2140.6 C252.7,2140.5 254,2140.4 255.4,2140.3 C256.8,2140.2 258.1,2140.1 259.5,2140 C260.8,2139.8 262.2,2139.7 263.5,2139.5 C264.9,2139.4 266.3,2139.2 267.6,2139 C269,2138.8 270.3,2138.6 271.7,2138.4 C273,2138.2 274.4,2137.9 275.8,2137.7 C277.1,2137.5 278.5,2137.2 279.8,2136.9 C281.2,2136.6 282.5,2136.3 283.9,2136 C285.3,2135.7 286.6,2135.4 288,2135.1 C289.3,2134.7 290.7,2134.4 292,2134 C293.4,2133.7 294.8,2133.3 296.1,2132.9 C297.5,2132.5 298.8,2132.1 300.2,2131.7 C301.5,2131.3 302.9,2130.9 304.3,2130.5 C305.6,2130 307,2129.6 308.3,2129.2 C309.7,2128.7 311,2128.3 312.4,2127.8 C313.8,2127.3 315.1,2126.9 316.5,2126.4 C317.8,2125.9 319.2,2125.4 320.5,2124.9 C321.9,2124.4 323.2,2124 324.6,2123.5 C326,2123 327.3,2122.5 328.7,2121.9 C330,2121.4 331.4,2120.9 332.7,2120.4 C334.1,2119.9 335.5,2119.4 336.8,2118.8 C338.2,2118.3 339.5,2117.7 340.9,2117.1 C342.2,2116.6 343.6,2116 345,2115.3 C346.3,2114.7 347.7,2114 349,2113.3 C350.4,2112.6 351.7,2111.9 353.1,2111.1 C354.5,2110.3 355.8,2109.5 357.2,2108.6 C358.5,2107.8 359.9,2106.8 361.2,2105.8 C362.6,2104.9 364,2103.8 365.3,2102.7 C366.7,2101.6 368,2100.4 369.4,2099.2 C370.7,2097.9 372.1,2096.6 373.5,2095.2 C374.8,2093.8 376.2,2092.3 377.5,2090.7 C378.9,2089.1 380.2,2087.4 381.6,2085.7 C383,2083.9 384.3,2082 385.7,2080 C387,2078.1 388.4,2076.1 389.7,2074.1 C391.1,2072 392.4,2070 393.8,2068 C395.2,2066 396.5,2064 397.9,2062 C399.2,2060 400.6,2058 401.9,2056 C403.3,2054 404.7,2052 406,2050 C407.4,2048 408.7,2045.9 410.1,2043.9 C411.4,2041.9 412.8,2039.9 414.2,2037.9 C415.5,2035.9 416.9,2033.9 418.2,2031.8 C419.6,2029.8 420.9,2027.8 422.3,2025.7 C423.7,2023.7 425,2021.6 426.4,2019.6 C427.7,2017.5 429.1,2015.4 430.4,2013.4 C431.8,2011.3 433.2,2009.2 434.5,2007.1 C435.9,2005 437.2,2002.9 438.6,2000.7 C439.9,1998.6 441.3,1996.5 442.7,1994.3 C444,1992.1 445.4,1989.9 446.7,1987.7 C448.1,1985.4 449.4,1983.2 450.8,1980.9 C452.2,1978.6 453.5,1976.3 454.9,1973.9 C456.2,1971.5 457.6,1969.1 458.9,1966.7 C460.3,1964.3 461.6,1961.8 463,1959.3 C464.4,1956.7 465.7,1954.2 467.1,1951.5 C468.4,1948.9 469.8,1946.3 471.1,1943.5 C472.5,1940.8 473.9,1938 475.2,1935.2 C476.6,1932.4 477.9,1929.5 479.3,1926.5 C480.6,1923.6 482,1920.6 483.4,1917.5 C484.7,1914.4 486.1,1911.3 487.4,1908.1 C488.8,1904.8 490.8,1899.8 491.5,1898.2 L491.5,2065 C490.8,2065.3 488.8,2066.1 487.4,2066.8 C486.1,2067.5 484.7,2068.2 483.4,2069 C482,2069.8 480.6,2070.7 479.3,2071.6 C477.9,2072.6 476.6,2073.6 475.2,2074.6 C473.9,2075.7 472.5,2076.8 471.1,2078 C469.8,2079.2 468.4,2080.4 467.1,2081.7 C465.7,2083 464.4,2084.4 463,2085.8 C461.6,2087.2 460.3,2088.6 458.9,2090.1 C457.6,2091.6 456.2,2093.1 454.9,2094.6 C453.5,2096.2 452.2,2097.8 450.8,2099.5 C449.4,2101.1 448.1,2102.8 446.7,2104.5 C445.4,2106.2 444,2107.9 442.7,2109.7 C441.3,2111.4 439.9,2113.2 438.6,2115 C437.2,2116.9 435.9,2118.7 434.5,2120.5 C433.2,2122.4 431.8,2124.3 430.4,2126.1 C429.1,2128 427.7,2129.9 426.4,2131.8 C425,2133.7 423.7,2135.7 422.3,2137.6 C420.9,2139.5 419.6,2141.4 418.2,2143.3 C416.9,2145.2 415.5,2147.2 414.2,2149 C412.8,2150.9 411.4,2152.8 410.1,2154.7 C408.7,2156.5 407.4,2158.4 406,2160.2 C404.7,2162 403.3,2163.8 401.9,2165.5 C400.6,2167.2 399.2,2168.9 397.9,2170.5 C396.5,2172.2 395.2,2173.8 393.8,2175.3 C392.4,2176.9 391.1,2178.4 389.7,2179.8 C388.4,2181.3 387,2182.7 385.7,2184.1 C384.3,2185.5 383,2186.8 381.6,2188.1 C380.2,2189.4 378.9,2190.6 377.5,2191.8 C376.2,2193.1 374.8,2194.2 373.5,2195.4 C372.1,2196.5 370.7,2197.6 369.4,2198.7 C368,2199.7 366.7,2200.7 365.3,2201.7 C364,2202.7 362.6,2203.7 361.2,2204.6 C359.9,2205.5 358.5,2206.4 357.2,2207.3 C355.8,2208.1 354.5,2208.9 353.1,2209.7 C351.7,2210.5 350.4,2211.3 349,2212.1 C347.7,2212.8 346.3,2213.5 345,2214.2 C343.6,2214.9 342.2,2215.6 340.9,2216.2 C339.5,2216.9 338.2,2217.5 336.8,2218.1 C335.5,2218.7 334.1,2219.3 332.7,2219.9 C331.4,2220.5 330,2221 328.7,2221.6 C327.3,2222.1 326,2222.6 324.6,2223.1 C323.2,2223.6 321.9,2224.1 320.5,2224.6 C319.2,2225.1 317.8,2225.6 316.5,2226 C315.1,2226.5 313.8,2226.9 312.4,2227.4 C311,2227.8 309.7,2228.3 308.3,2228.7 C307,2229.1 305.6,2229.5 304.3,2230 C302.9,2230.4 301.5,2230.8 300.2,2231.2 C298.8,2231.6 297.5,2232.1 296.1,2232.5 C294.8,2232.9 293.4,2233.3 292,2233.7 C290.7,2234.1 289.3,2234.6 288,2235 C286.6,2235.4 285.3,2235.9 283.9,2236.3 C282.5,2236.7 281.2,2237.2 279.8,2237.6 C278.5,2238.1 277.1,2238.5 275.8,2239 C274.4,2239.4 273,2239.9 271.7,2240.3 C270.3,2240.8 269,2241.3 267.6,2241.7 C266.3,2242.2 264.9,2242.7 263.5,2243.1 C262.2,2243.6 260.8,2244.1 259.5,2244.6 C258.1,2245 256.8,2245.5 255.4,2246 C254,2246.5 252.7,2246.9 251.3,2247.4 C250,2247.9 248.6,2248.4 247.3,2248.9 C245.9,2249.3 244.6,2249.8 243.2,2250.3 C241.8,2250.8 240.5,2251.3 239.1,2251.7 C237.8,2252.2 236.4,2252.7 235.1,2253.2 C233.7,2253.6 232.3,2254.1 231,2254.6 C229.6,2255.1 228.3,2255.5 226.9,2256 C225.6,2256.5 224.2,2256.9 222.8,2257.4 C221.5,2257.8 220.1,2258.3 218.8,2258.8 C217.4,2259.2 216.1,2259.7 214.7,2260.1 C213.3,2260.6 212,2261 210.6,2261.4 C209.3,2261.9 207.9,2262.3 206.6,2262.7 C205.2,2263.2 203.8,2263.6 202.5,2264 C201.1,2264.4 199.8,2264.8 198.4,2265.2 C197.1,2265.6 195.7,2266 194.3,2266.4 C193,2266.8 191.6,2267.2 190.3,2267.6 C188.9,2268 187.6,2268.3 186.2,2268.7 C184.8,2269 183.5,2269.4 182.1,2269.7 C180.8,2270.1 179.4,2270.4 178.1,2270.8 C176.7,2271.1 175.4,2271.4 174,2271.7 C172.6,2272 171.3,2272.3 169.9,2272.6 C168.6,2272.9 167.2,2273.2 165.9,2273.5 C164.5,2273.7 163.1,2274 161.8,2274.2 C160.4,2274.5 159.1,2274.7 157.7,2275 C156.4,2275.2 155,2275.4 153.6,2275.6 C152.3,2275.8 150.9,2276 149.6,2276.2 C148.2,2276.4 146.2,2276.6 145.5,2276.7 Z" fill="rgba(202,38,62,0.4)"/>
<path d="M148.2,2064.3 C148.9,2064.3 150.9,2064.4 152.3,2064.5 C153.7,2064.6 155,2064.7 156.4,2064.8 C157.7,2065 159.1,2065.2 160.5,2065.3 C161.8,2065.5 163.2,2065.7 164.6,2066 C165.9,2066.2 167.3,2066.5 168.6,2066.7 C170,2067 171.4,2067.3 172.7,2067.6 C174.1,2067.9 175.5,2068.2 176.8,2068.6 C178.2,2068.9 179.5,2069.3 180.9,2069.6 C182.3,2070 183.6,2070.4 185,2070.8 C186.4,2071.2 187.7,2071.6 189.1,2072 C190.4,2072.5 191.8,2072.9 193.2,2073.3 C194.5,2073.8 195.9,2074.2 197.3,2074.7 C198.6,2075.2 200,2075.6 201.3,2076.1 C202.7,2076.6 204.1,2077.1 205.4,2077.6 C206.8,2078.1 208.2,2078.6 209.5,2079.1 C210.9,2079.6 212.2,2080.1 213.6,2080.6 C215,2081.1 216.3,2081.6 217.7,2082.1 C219.1,2082.6 220.4,2083.1 221.8,2083.6 C223.1,2084.1 224.5,2084.7 225.9,2085.2 C227.2,2085.7 228.6,2086.2 230,2086.7 C231.3,2087.2 232.7,2087.7 234.1,2088.2 C235.4,2088.7 236.8,2089.2 238.1,2089.7 C239.5,2090.2 240.9,2090.7 242.2,2091.2 C243.6,2091.6 245,2092.1 246.3,2092.6 C247.7,2093.1 249,2093.6 250.4,2094.1 C251.8,2094.6 253.1,2095.1 254.5,2095.5 C255.9,2096 257.2,2096.5 258.6,2097 C259.9,2097.5 261.3,2098 262.7,2098.5 C264,2098.9 265.4,2099.4 266.8,2099.9 C268.1,2100.4 269.5,2100.9 270.8,2101.4 C272.2,2101.9 273.6,2102.4 274.9,2102.8 C276.3,2103.3 277.7,2103.8 279,2104.3 C280.4,2104.8 281.7,2105.3 283.1,2105.8 C284.5,2106.3 285.8,2106.8 287.2,2107.3 C288.6,2107.8 289.9,2108.3 291.3,2108.8 C292.6,2109.3 294,2109.8 295.4,2110.3 C296.7,2110.8 298.1,2111.3 299.5,2111.8 C300.8,2112.3 302.2,2112.9 303.5,2113.4 C304.9,2113.9 306.3,2114.4 307.6,2115 C309,2115.5 310.4,2116 311.7,2116.5 C313.1,2117.1 314.4,2117.6 315.8,2118.2 C317.2,2118.7 318.5,2119.2 319.9,2119.8 C321.3,2120.3 322.6,2120.9 324,2121.4 C325.4,2122 326.7,2122.6 328.1,2123.1 C329.4,2123.7 330.8,2124.2 332.2,2124.8 C333.5,2125.4 334.9,2126 336.3,2126.5 C337.6,2127.1 339,2127.7 340.3,2128.3 C341.7,2128.9 343.1,2129.5 344.4,2130.1 C345.8,2130.7 347.2,2131.3 348.5,2131.9 C349.9,2132.5 351.2,2133.1 352.6,2133.7 C354,2134.4 355.3,2135 356.7,2135.6 C358.1,2136.2 359.4,2136.9 360.8,2137.5 C362.1,2138.1 363.5,2138.8 364.9,2139.4 C366.2,2140.1 367.6,2140.7 369,2141.4 C370.3,2142.1 371.7,2142.7 373,2143.4 C374.4,2144.1 375.8,2144.8 377.1,2145.4 C378.5,2146.1 379.9,2146.8 381.2,2147.5 C382.6,2148.2 383.9,2148.9 385.3,2149.6 C386.7,2150.3 388,2151 389.4,2151.8 C390.8,2152.5 392.1,2153.2 393.5,2153.9 C394.8,2154.7 396.2,2155.4 397.6,2156.2 C398.9,2156.9 400.3,2157.7 401.7,2158.4 C403,2159.2 404.4,2159.9 405.8,2160.7 C407.1,2161.4 408.5,2162.2 409.8,2162.9 C411.2,2163.7 412.6,2164.4 413.9,2165.2 C415.3,2166 416.7,2166.7 418,2167.5 C419.4,2168.2 420.7,2169 422.1,2169.7 C423.5,2170.4 424.8,2171.2 426.2,2171.9 C427.6,2172.6 428.9,2173.3 430.3,2174.1 C431.6,2174.8 433,2175.5 434.4,2176.2 C435.7,2176.9 437.1,2177.6 438.5,2178.2 C439.8,2178.9 441.2,2179.6 442.5,2180.2 C443.9,2180.9 445.3,2181.5 446.6,2182.2 C448,2182.8 449.4,2183.4 450.7,2184 C452.1,2184.6 453.4,2185.2 454.8,2185.8 C456.2,2186.4 457.5,2186.9 458.9,2187.5 C460.3,2188 461.6,2188.6 463,2189.1 C464.3,2189.6 465.7,2190.2 467.1,2190.7 C468.4,2191.2 469.8,2191.7 471.2,2192.2 C472.5,2192.7 473.9,2193.1 475.2,2193.6 C476.6,2194.1 478,2194.6 479.3,2195 C480.7,2195.5 482.1,2195.9 483.4,2196.3 C484.8,2196.8 486.1,2197.2 487.5,2197.6 C488.9,2198 490.9,2198.6 491.6,2198.8 L492.3,2337.4 C491.6,2336.3 489.6,2332.9 488.3,2330.7 C486.9,2328.5 485.6,2326.4 484.2,2324.3 C482.9,2322.2 481.5,2320.1 480.2,2318.1 C478.8,2316.1 477.5,2314.1 476.1,2312.2 C474.8,2310.2 473.4,2308.3 472.1,2306.5 C470.7,2304.6 469.4,2302.8 468,2301 C466.7,2299.2 465.3,2297.5 464,2295.8 C462.6,2294 461.3,2292.4 459.9,2290.7 C458.6,2289.1 457.2,2287.5 455.9,2285.9 C454.5,2284.3 453.2,2282.8 451.8,2281.3 C450.5,2279.8 449.1,2278.3 447.8,2276.9 C446.4,2275.4 445.1,2274 443.7,2272.7 C442.4,2271.3 441,2269.9 439.7,2268.6 C438.3,2267.3 437,2266 435.6,2264.7 C434.3,2263.5 432.9,2262.2 431.6,2261 C430.2,2259.8 428.9,2258.6 427.5,2257.4 C426.2,2256.3 424.8,2255.1 423.5,2254 C422.1,2252.9 420.8,2251.8 419.4,2250.8 C418.1,2249.7 416.7,2248.7 415.4,2247.6 C414,2246.6 412.7,2245.6 411.3,2244.6 C410,2243.6 408.6,2242.7 407.3,2241.7 C405.9,2240.8 404.6,2239.9 403.2,2239 C401.9,2238.1 400.5,2237.2 399.2,2236.3 C397.8,2235.4 396.5,2234.6 395.1,2233.7 C393.8,2232.9 392.4,2232 391.1,2231.2 C389.7,2230.4 388.4,2229.6 387,2228.8 C385.7,2228 384.3,2227.3 383,2226.5 C381.6,2225.7 380.3,2225 378.9,2224.3 C377.6,2223.5 376.3,2222.8 374.9,2222.1 C373.6,2221.4 372.2,2220.7 370.9,2220 C369.5,2219.3 368.2,2218.6 366.8,2217.9 C365.5,2217.2 364.1,2216.6 362.8,2215.9 C361.4,2215.3 360.1,2214.6 358.7,2214 C357.4,2213.4 356,2212.8 354.7,2212.1 C353.3,2211.5 352,2210.9 350.6,2210.3 C349.3,2209.7 347.9,2209.1 346.6,2208.5 C345.2,2207.9 343.9,2207.4 342.5,2206.8 C341.2,2206.2 339.8,2205.7 338.5,2205.1 C337.1,2204.5 335.8,2204 334.4,2203.4 C333.1,2202.9 331.7,2202.4 330.4,2201.8 C329,2201.3 327.7,2200.7 326.3,2200.2 C325,2199.7 323.6,2199.2 322.3,2198.6 C320.9,2198.1 319.6,2197.6 318.2,2197.1 C316.9,2196.6 315.5,2196.1 314.2,2195.6 C312.8,2195 311.5,2194.5 310.1,2194 C308.8,2193.5 307.4,2193 306.1,2192.5 C304.7,2192 303.4,2191.5 302,2191 C300.7,2190.5 299.3,2190 298,2189.5 C296.6,2189 295.3,2188.5 293.9,2188 C292.6,2187.5 291.2,2187 289.9,2186.5 C288.5,2186 287.2,2185.5 285.8,2185 C284.5,2184.6 283.1,2184.1 281.8,2183.6 C280.4,2183.1 279.1,2182.6 277.7,2182.1 C276.4,2181.6 275,2181.1 273.7,2180.7 C272.3,2180.2 271,2179.7 269.6,2179.2 C268.3,2178.8 266.9,2178.3 265.6,2177.8 C264.2,2177.3 262.9,2176.9 261.6,2176.4 C260.2,2176 258.9,2175.5 257.5,2175.1 C256.2,2174.6 254.8,2174.2 253.5,2173.7 C252.1,2173.3 250.8,2172.8 249.4,2172.4 C248.1,2172 246.7,2171.5 245.4,2171.1 C244,2170.7 242.7,2170.3 241.3,2169.9 C240,2169.5 238.6,2169.1 237.3,2168.7 C235.9,2168.3 234.6,2167.9 233.2,2167.5 C231.9,2167.1 230.5,2166.7 229.2,2166.4 C227.8,2166 226.5,2165.6 225.1,2165.3 C223.8,2164.9 222.4,2164.6 221.1,2164.3 C219.7,2163.9 218.4,2163.6 217,2163.3 C215.7,2163 214.3,2162.6 213,2162.3 C211.6,2162 210.3,2161.7 208.9,2161.5 C207.6,2161.2 206.2,2160.9 204.9,2160.6 C203.5,2160.4 202.2,2160.1 200.8,2159.9 C199.5,2159.6 198.1,2159.4 196.8,2159.2 C195.4,2158.9 194.1,2158.7 192.7,2158.5 C191.4,2158.3 190,2158.1 188.7,2157.9 C187.3,2157.8 186,2157.6 184.6,2157.4 C183.3,2157.3 181.9,2157.1 180.6,2157 C179.2,2156.9 177.9,2156.8 176.5,2156.6 C175.2,2156.5 173.8,2156.4 172.5,2156.4 C171.1,2156.3 169.8,2156.2 168.4,2156.2 C167.1,2156.1 165.7,2156.1 164.4,2156 C163,2156 161.7,2156 160.3,2156 C159,2156 157.6,2156 156.3,2156 C154.9,2156.1 153.6,2156.1 152.2,2156.2 C150.9,2156.2 148.9,2156.4 148.2,2156.4 Z" fill="rgba(68,112,155,0.4)"/>
<line x1="103.4" y1="2043.7" x2="517" y2="2043.7" stroke="#111" stroke-width="1.6"/>
<path d="M145.5,2202.7 C146.2,2202.7 148.2,2202.8 149.6,2202.9 C150.9,2203 152.3,2203 153.6,2203.1 C155,2203.1 156.4,2203.2 157.7,2203.2 C159.1,2203.3 160.4,2203.3 161.8,2203.3 C163.1,2203.4 164.5,2203.4 165.9,2203.4 C167.2,2203.4 168.6,2203.4 169.9,2203.4 C171.3,2203.4 172.7,2203.4 174,2203.4 C175.4,2203.4 176.7,2203.4 178.1,2203.4 C179.4,2203.3 180.8,2203.3 182.2,2203.3 C183.5,2203.2 184.9,2203.2 186.2,2203.1 C187.6,2203.1 188.9,2203 190.3,2203 C191.7,2202.9 193,2202.8 194.4,2202.8 C195.7,2202.7 197.1,2202.6 198.4,2202.5 C199.8,2202.4 201.2,2202.3 202.5,2202.2 C203.9,2202.1 205.2,2202 206.6,2201.9 C207.9,2201.8 209.3,2201.6 210.7,2201.5 C212,2201.4 213.4,2201.2 214.7,2201.1 C216.1,2200.9 217.4,2200.8 218.8,2200.6 C220.2,2200.5 221.5,2200.3 222.9,2200.1 C224.2,2200 225.6,2199.8 227,2199.6 C228.3,2199.4 229.7,2199.2 231,2199 C232.4,2198.8 233.7,2198.6 235.1,2198.4 C236.5,2198.2 237.8,2198 239.2,2197.8 C240.5,2197.5 241.9,2197.3 243.2,2197.1 C244.6,2196.8 246,2196.6 247.3,2196.3 C248.7,2196.1 250,2195.8 251.4,2195.5 C252.7,2195.3 254.1,2195 255.5,2194.7 C256.8,2194.4 258.2,2194.2 259.5,2193.9 C260.9,2193.6 262.2,2193.3 263.6,2193 C265,2192.6 266.3,2192.3 267.7,2192 C269,2191.7 270.4,2191.4 271.8,2191 C273.1,2190.7 274.5,2190.4 275.8,2190 C277.2,2189.7 278.5,2189.3 279.9,2188.9 C281.3,2188.6 282.6,2188.2 284,2187.8 C285.3,2187.5 286.7,2187.1 288,2186.7 C289.4,2186.3 290.8,2185.9 292.1,2185.5 C293.5,2185.1 294.8,2184.7 296.2,2184.3 C297.5,2183.9 298.9,2183.5 300.3,2183 C301.6,2182.6 303,2182.2 304.3,2181.7 C305.7,2181.3 307,2180.9 308.4,2180.4 C309.8,2180 311.1,2179.5 312.5,2179 C313.8,2178.6 315.2,2178.1 316.6,2177.6 C317.9,2177.2 319.3,2176.7 320.6,2176.2 C322,2175.7 323.3,2175.2 324.7,2174.7 C326.1,2174.2 327.4,2173.7 328.8,2173.1 C330.1,2172.6 331.5,2172 332.8,2171.4 C334.2,2170.9 335.6,2170.3 336.9,2169.6 C338.3,2169 339.6,2168.3 341,2167.7 C342.3,2167 343.7,2166.3 345.1,2165.5 C346.4,2164.7 347.8,2164 349.1,2163.1 C350.5,2162.3 351.8,2161.4 353.2,2160.5 C354.6,2159.6 355.9,2158.7 357.3,2157.7 C358.6,2156.7 360,2155.6 361.3,2154.5 C362.7,2153.4 364.1,2152.3 365.4,2151.1 C366.8,2149.9 368.1,2148.7 369.5,2147.4 C370.9,2146.1 372.2,2144.8 373.6,2143.5 C374.9,2142.1 376.3,2140.7 377.6,2139.3 C379,2137.9 380.4,2136.4 381.7,2135 C383.1,2133.5 384.4,2132 385.8,2130.5 C387.1,2128.9 388.5,2127.4 389.9,2125.8 C391.2,2124.3 392.6,2122.7 393.9,2121.1 C395.3,2119.5 396.6,2117.9 398,2116.2 C399.4,2114.6 400.7,2113 402.1,2111.3 C403.4,2109.6 404.8,2108 406.1,2106.2 C407.5,2104.4 408.9,2102.4 410.2,2100.5 C411.6,2098.6 412.9,2096.6 414.3,2094.7 C415.7,2092.9 417,2091.1 418.4,2089.4 C419.7,2087.7 421.1,2086.1 422.4,2084.4 C423.8,2082.6 425.2,2080.9 426.5,2078.9 C427.9,2076.9 429.2,2074.7 430.6,2072.7 C431.9,2070.6 433.3,2068.5 434.7,2066.5 C436,2064.6 437.4,2062.7 438.7,2060.9 C440.1,2059 441.4,2057.2 442.8,2055.4 C444.2,2053.6 445.5,2051.8 446.9,2049.9 C448.2,2047.9 449.6,2046 450.9,2043.9 C452.3,2041.9 453.7,2039.7 455,2037.6 C456.4,2035.4 457.7,2033.2 459.1,2031.1 C460.4,2028.9 461.8,2026.7 463.2,2024.6 C464.5,2022.5 465.9,2020.5 467.2,2018.6 C468.6,2016.6 470,2014.8 471.3,2012.9 C472.7,2011 474,2009.2 475.4,2007.3 C476.7,2005.5 478.1,2003.6 479.5,2001.7 C480.8,1999.7 482.2,1997.8 483.5,1995.7 C484.9,1993.6 486.9,1990.2 487.6,1989.1" fill="none" stroke="#C81E3A" stroke-width="3.4" stroke-dasharray="13.5,13.5"/>
<path d="M148.2,2109.2 C148.9,2109.3 150.9,2109.5 152.3,2109.6 C153.6,2109.7 155,2109.9 156.3,2110 C157.7,2110.2 159.1,2110.3 160.4,2110.5 C161.8,2110.7 163.1,2110.8 164.5,2111 C165.8,2111.2 167.2,2111.4 168.5,2111.6 C169.9,2111.8 171.3,2112 172.6,2112.2 C174,2112.4 175.3,2112.7 176.7,2112.9 C178,2113.1 179.4,2113.4 180.8,2113.6 C182.1,2113.9 183.5,2114.1 184.8,2114.4 C186.2,2114.6 187.5,2114.9 188.9,2115.2 C190.3,2115.5 191.6,2115.7 193,2116 C194.3,2116.3 195.7,2116.6 197,2116.9 C198.4,2117.2 199.8,2117.5 201.1,2117.8 C202.5,2118.2 203.8,2118.5 205.2,2118.8 C206.5,2119.1 207.9,2119.5 209.2,2119.8 C210.6,2120.2 212,2120.5 213.3,2120.9 C214.7,2121.2 216,2121.6 217.4,2121.9 C218.7,2122.3 220.1,2122.7 221.5,2123 C222.8,2123.4 224.2,2123.8 225.5,2124.2 C226.9,2124.6 228.2,2125 229.6,2125.4 C231,2125.8 232.3,2126.2 233.7,2126.6 C235,2127 236.4,2127.4 237.7,2127.8 C239.1,2128.2 240.5,2128.7 241.8,2129.1 C243.2,2129.5 244.5,2130 245.9,2130.4 C247.2,2130.8 248.6,2131.3 249.9,2131.7 C251.3,2132.2 252.7,2132.6 254,2133.1 C255.4,2133.5 256.7,2134 258.1,2134.5 C259.4,2134.9 260.8,2135.4 262.2,2135.9 C263.5,2136.3 264.9,2136.8 266.2,2137.3 C267.6,2137.8 268.9,2138.3 270.3,2138.8 C271.7,2139.3 273,2139.8 274.4,2140.3 C275.7,2140.8 277.1,2141.3 278.4,2141.8 C279.8,2142.3 281.1,2142.8 282.5,2143.3 C283.9,2143.8 285.2,2144.4 286.6,2144.9 C287.9,2145.4 289.3,2145.9 290.6,2146.5 C292,2147 293.4,2147.6 294.7,2148.1 C296.1,2148.7 297.4,2149.2 298.8,2149.8 C300.1,2150.3 301.5,2150.9 302.9,2151.4 C304.2,2152 305.6,2152.6 306.9,2153.1 C308.3,2153.7 309.6,2154.3 311,2154.9 C312.4,2155.5 313.7,2156 315.1,2156.6 C316.4,2157.2 317.8,2157.8 319.1,2158.4 C320.5,2159 321.8,2159.6 323.2,2160.2 C324.6,2160.8 325.9,2161.5 327.3,2162.1 C328.6,2162.7 330,2163.3 331.3,2163.9 C332.7,2164.6 334.1,2165.2 335.4,2165.8 C336.8,2166.5 338.1,2167.1 339.5,2167.8 C340.8,2168.4 342.2,2169.1 343.6,2169.7 C344.9,2170.4 346.3,2171 347.6,2171.7 C349,2172.4 350.3,2173.1 351.7,2173.7 C353.1,2174.4 354.4,2175.1 355.8,2175.8 C357.1,2176.5 358.5,2177.2 359.8,2177.9 C361.2,2178.6 362.5,2179.3 363.9,2180 C365.3,2180.7 366.6,2181.4 368,2182.1 C369.3,2182.8 370.7,2183.6 372,2184.3 C373.4,2185 374.8,2185.8 376.1,2186.5 C377.5,2187.3 378.8,2188 380.2,2188.8 C381.5,2189.5 382.9,2190.3 384.3,2191.1 C385.6,2191.8 387,2192.6 388.3,2193.4 C389.7,2194.2 391,2195 392.4,2195.8 C393.7,2196.6 395.1,2197.4 396.5,2198.2 C397.8,2199 399.2,2199.8 400.5,2200.6 C401.9,2201.5 403.2,2202.3 404.6,2203.1 C406,2204 407.3,2204.8 408.7,2205.7 C410,2206.5 411.4,2207.4 412.7,2208.3 C414.1,2209.1 415.5,2210 416.8,2210.9 C418.2,2211.8 419.5,2212.7 420.9,2213.6 C422.2,2214.5 423.6,2215.4 425,2216.3 C426.3,2217.2 427.7,2218.1 429,2219.1 C430.4,2220 431.7,2220.9 433.1,2221.9 C434.4,2222.8 435.8,2223.8 437.2,2224.7 C438.5,2225.7 439.9,2226.7 441.2,2227.7 C442.6,2228.6 443.9,2229.6 445.3,2230.6 C446.7,2231.6 448,2232.6 449.4,2233.7 C450.7,2234.7 452.1,2235.7 453.4,2236.7 C454.8,2237.8 456.2,2238.8 457.5,2239.9 C458.9,2240.9 460.2,2242 461.6,2243 C462.9,2244.1 464.3,2245.2 465.7,2246.3 C467,2247.4 468.4,2248.5 469.7,2249.6 C471.1,2250.7 472.4,2251.8 473.8,2252.9 C475.1,2254.1 476.5,2255.2 477.9,2256.4 C479.2,2257.5 480.6,2258.7 481.9,2259.8 C483.3,2261 485.3,2262.8 486,2263.4" fill="none" stroke="#3C6EA6" stroke-width="3.4" stroke-dasharray="13.5,13.5"/>
</g>
<rect x="149.8" y="1957.3" width="29.8" height="28.7" fill="rgba(202,38,62,0.4)"/>
<rect x="149.8" y="1988.8" width="29.8" height="27.8" fill="rgba(68,112,155,0.4)"/>
<line x1="152.7" y1="1971.8" x2="166.9" y2="1971.8" stroke="#C81E3A" stroke-width="3.6"/>
<line x1="152.7" y1="2002.9" x2="166.9" y2="2002.9" stroke="#3C6EA6" stroke-width="3.6"/>
<text x="185.8" y="1980.3" font-size="16.3">Deep WTD (20-40m)</text>
<text x="185.8" y="2008.8" font-size="16.3">Shallow WTD (0-10m)</text>
<rect x="103.4" y="1948.8" width="413.6" height="502.7" fill="none" stroke="#222" stroke-width="1.6"/>
<line x1="97.9" y1="2043.7" x2="103.4" y2="2043.7" stroke="#222" stroke-width="1.4"/>
<text x="92.6" y="2054.3" font-size="29" text-anchor="end" stroke="#000" stroke-width="0.45">0.0</text>
<line x1="97.9" y1="2198.2" x2="103.4" y2="2198.2" stroke="#222" stroke-width="1.4"/>
<text x="92.6" y="2208.8" font-size="29" text-anchor="end" stroke="#000" stroke-width="0.45">−0.5</text>
<line x1="97.9" y1="2353" x2="103.4" y2="2353" stroke="#222" stroke-width="1.4"/>
<text x="92.6" y="2363.6" font-size="29" text-anchor="end" stroke="#000" stroke-width="0.45">−1.0</text>
<line x1="140" y1="2451.5" x2="140" y2="2457" stroke="#222" stroke-width="1.4"/>
<text x="137.2" y="2482.7" font-size="29" text-anchor="middle" stroke="#000" stroke-width="0.45">21</text>
<line x1="253.3" y1="2451.5" x2="253.3" y2="2457" stroke="#222" stroke-width="1.4"/>
<text x="250.5" y="2482.7" font-size="29" text-anchor="middle" stroke="#000" stroke-width="0.45">27</text>
<line x1="366.6" y1="2451.5" x2="366.6" y2="2457" stroke="#222" stroke-width="1.4"/>
<text x="363.8" y="2482.7" font-size="29" text-anchor="middle" stroke="#000" stroke-width="0.45">33</text>
<line x1="479.9" y1="2451.5" x2="479.9" y2="2457" stroke="#222" stroke-width="1.4"/>
<text x="477.1" y="2482.7" font-size="29" text-anchor="middle" stroke="#000" stroke-width="0.45">39</text>
<text x="310.2" y="2509.8" font-size="29" text-anchor="middle" stroke="#000" stroke-width="0.45">Forest height (m)</text>
<text transform="translate(32,2191) rotate(-90)" font-size="29" text-anchor="middle" stroke="#000" stroke-width="0.45">EVI anomaly</text>
<text x="109.5" y="1987.8" font-size="33" stroke="#000" stroke-width="0.45">h</text>
<text x="107.2" y="2325" font-size="19.35" xml:space="preserve">Forest responses(EVI anomaly)</text>
<text x="107.2" y="2347.9" font-size="19.35" xml:space="preserve"> = f(<tspan font-weight="bold">forest height</tspan>)+ f(soil fertility)+f(soil texture)</text>
<text x="107.2" y="2370.8" font-size="19.35" xml:space="preserve">+f(dry season length) (<tspan text-decoration="underline">shallow WTD</tspan>)</text>
<text x="107.2" y="2393.8" font-size="19.35" xml:space="preserve"> = f(<tspan font-weight="bold">forest height</tspan>)+ f(soil fertility)+f(soil texture)</text>
<text x="107.2" y="2416.7" font-size="19.35" xml:space="preserve">+f(dry season length) (<tspan text-decoration="underline">deep WTD</tspan>)</text>
<path d="M735,2047.1 C735.7,2047.5 737.7,2048.6 739.1,2049.3 C740.4,2050.1 741.8,2050.8 743.1,2051.5 C744.5,2052.2 745.8,2053 747.2,2053.6 C748.6,2054.3 749.9,2055 751.3,2055.7 C752.6,2056.4 754,2057 755.3,2057.7 C756.7,2058.3 758,2058.9 759.4,2059.5 C760.8,2060.1 762.1,2060.7 763.5,2061.2 C764.8,2061.8 766.2,2062.3 767.5,2062.8 C768.9,2063.3 770.2,2063.7 771.6,2064.2 C772.9,2064.6 774.3,2065 775.7,2065.3 C777,2065.7 778.4,2066 779.7,2066.3 C781.1,2066.6 782.4,2066.8 783.8,2067 C785.1,2067.2 786.5,2067.3 787.9,2067.4 C789.2,2067.5 790.6,2067.6 791.9,2067.6 C793.3,2067.6 794.6,2067.6 796,2067.5 C797.3,2067.4 798.7,2067.2 800.1,2067 C801.4,2066.8 802.8,2066.6 804.1,2066.3 C805.5,2066.1 806.8,2065.7 808.2,2065.4 C809.5,2065.1 810.9,2064.7 812.3,2064.3 C813.6,2063.9 815,2063.5 816.3,2063 C817.7,2062.6 819,2062.1 820.4,2061.6 C821.7,2061.1 823.1,2060.6 824.5,2060.1 C825.8,2059.6 827.2,2059.1 828.5,2058.6 C829.9,2058.1 831.2,2057.6 832.6,2057 C833.9,2056.5 835.3,2056 836.6,2055.5 C838,2055 839.4,2054.5 840.7,2054 C842.1,2053.5 843.4,2053 844.8,2052.6 C846.1,2052.1 847.5,2051.7 848.8,2051.3 C850.2,2050.8 851.6,2050.4 852.9,2050.1 C854.3,2049.7 855.6,2049.4 857,2049.1 C858.3,2048.8 859.7,2048.6 861,2048.4 C862.4,2048.1 863.8,2048 865.1,2047.8 C866.5,2047.7 867.8,2047.6 869.2,2047.6 C870.5,2047.6 871.9,2047.6 873.2,2047.6 C874.6,2047.7 876,2047.8 877.3,2048 C878.7,2048.2 880,2048.5 881.4,2048.8 C882.7,2049.1 884.1,2049.4 885.4,2049.9 C886.8,2050.3 888.2,2050.8 889.5,2051.4 C890.9,2052 892.2,2052.6 893.6,2053.4 C894.9,2054.1 896.3,2054.9 897.6,2055.8 C899,2056.7 900.3,2057.7 901.7,2058.7 C903.1,2059.8 904.4,2061 905.8,2062.2 C907.1,2063.4 908.5,2064.8 909.8,2066.2 C911.2,2067.6 912.5,2069.1 913.9,2070.7 C915.3,2072.3 916.6,2073.9 918,2075.6 C919.3,2077.4 920.7,2079.2 922,2081.1 C923.4,2083 924.7,2084.9 926.1,2087 C927.5,2089 928.8,2091.1 930.2,2093.3 C931.5,2095.5 932.9,2097.7 934.2,2100 C935.6,2102.3 936.9,2104.7 938.3,2107.1 C939.7,2109.6 941,2112.1 942.4,2114.6 C943.7,2117.2 945.1,2119.8 946.4,2122.4 C947.8,2125.1 949.1,2127.8 950.5,2130.6 C951.8,2133.3 953.2,2136.2 954.6,2139 C955.9,2141.9 957.3,2144.8 958.6,2147.7 C960,2150.6 961.3,2153.5 962.7,2156.5 C964,2159.5 965.4,2162.5 966.8,2165.5 C968.1,2168.5 969.5,2171.5 970.8,2174.6 C972.2,2177.6 973.5,2180.6 974.9,2183.7 C976.2,2186.7 977.6,2189.7 979,2192.8 C980.3,2195.8 981.7,2198.8 983,2201.8 C984.4,2204.9 985.7,2207.9 987.1,2210.8 C988.4,2213.8 989.8,2216.7 991.2,2219.7 C992.5,2222.6 993.9,2225.5 995.2,2228.3 C996.6,2231.2 997.9,2234 999.3,2236.7 C1000.6,2239.5 1002,2242.2 1003.4,2244.9 C1004.7,2247.5 1006.1,2250.1 1007.4,2252.7 C1008.8,2255.2 1010.1,2257.7 1011.5,2260.1 C1012.8,2262.5 1014.2,2264.9 1015.5,2267.2 C1016.9,2269.4 1018.3,2271.6 1019.6,2273.7 C1021,2275.8 1022.3,2277.9 1023.7,2279.8 C1025,2281.7 1026.4,2283.6 1027.7,2285.3 C1029.1,2287 1030.5,2288.7 1031.8,2290.2 C1033.2,2291.7 1034.5,2293.2 1035.9,2294.5 C1037.2,2295.8 1038.6,2297 1039.9,2298.1 C1041.3,2299.2 1042.7,2300.1 1044,2301 C1045.4,2301.8 1046.7,2302.6 1048.1,2303.2 C1049.4,2303.8 1050.8,2304.3 1052.1,2304.7 C1053.5,2305.1 1054.9,2305.4 1056.2,2305.5 C1057.6,2305.7 1058.9,2305.7 1060.3,2305.6 C1061.6,2305.5 1063,2305.3 1064.3,2304.9 C1065.7,2304.6 1067.1,2304.1 1068.4,2303.5 C1069.8,2302.9 1071.1,2302.1 1072.5,2301.3 C1073.8,2300.4 1075.2,2299.4 1076.5,2298.3 C1077.9,2297.2 1079.2,2296 1080.6,2294.7 C1082,2293.4 1083.3,2292 1084.7,2290.5 C1086,2289 1087.4,2287.5 1088.7,2285.9 C1090.1,2284.3 1091.4,2282.7 1092.8,2281 C1094.2,2279.4 1095.5,2277.7 1096.9,2276 C1098.2,2274.3 1099.6,2272.6 1100.9,2270.9 C1102.3,2269.2 1104.3,2266.7 1105,2265.9 L1105,2366.7 C1104.3,2367.8 1102.3,2371 1100.9,2373 C1099.6,2375 1098.2,2377 1096.9,2378.8 C1095.5,2380.6 1094.2,2382.4 1092.8,2384 C1091.4,2385.7 1090.1,2387.3 1088.7,2388.7 C1087.4,2390.2 1086,2391.5 1084.7,2392.8 C1083.3,2394.1 1082,2395.3 1080.6,2396.3 C1079.2,2397.4 1077.9,2398.4 1076.5,2399.2 C1075.2,2400.1 1073.8,2400.9 1072.5,2401.5 C1071.1,2402.2 1069.8,2402.8 1068.4,2403.2 C1067.1,2403.7 1065.7,2404 1064.3,2404.2 C1063,2404.5 1061.6,2404.6 1060.3,2404.6 C1058.9,2404.6 1057.6,2404.5 1056.2,2404.3 C1054.9,2404.1 1053.5,2403.8 1052.1,2403.4 C1050.8,2402.9 1049.4,2402.4 1048.1,2401.7 C1046.7,2401 1045.4,2400.3 1044,2399.3 C1042.7,2398.4 1041.3,2397.4 1039.9,2396.3 C1038.6,2395.1 1037.2,2393.9 1035.9,2392.5 C1034.5,2391.1 1033.2,2389.5 1031.8,2387.9 C1030.5,2386.3 1029.1,2384.5 1027.7,2382.6 C1026.4,2380.7 1025,2378.7 1023.7,2376.5 C1022.3,2374.4 1021,2372.2 1019.6,2369.9 C1018.3,2367.6 1016.9,2365.2 1015.5,2362.7 C1014.2,2360.3 1012.8,2357.8 1011.5,2355.2 C1010.1,2352.6 1008.8,2350 1007.4,2347.4 C1006.1,2344.7 1004.7,2342.1 1003.4,2339.3 C1002,2336.6 1000.6,2333.8 999.3,2331 C997.9,2328.2 996.6,2325.3 995.2,2322.4 C993.9,2319.5 992.5,2316.6 991.2,2313.6 C989.8,2310.6 988.4,2307.6 987.1,2304.5 C985.7,2301.4 984.4,2298.3 983,2295.1 C981.7,2291.9 980.3,2288.7 979,2285.4 C977.6,2282.2 976.2,2278.9 974.9,2275.7 C973.5,2272.4 972.2,2269.1 970.8,2265.8 C969.5,2262.5 968.1,2259.3 966.8,2256 C965.4,2252.8 964,2249.5 962.7,2246.4 C961.3,2243.2 960,2240 958.6,2236.9 C957.3,2233.9 955.9,2230.8 954.6,2227.9 C953.2,2224.9 951.8,2222 950.5,2219.2 C949.1,2216.4 947.8,2213.7 946.4,2211.1 C945.1,2208.5 943.7,2206 942.4,2203.7 C941,2201.3 939.7,2199.1 938.3,2197 C936.9,2194.9 935.6,2192.9 934.2,2191.1 C932.9,2189.3 931.5,2187.6 930.2,2186.1 C928.8,2184.5 927.5,2183.1 926.1,2181.8 C924.7,2180.4 923.4,2179.1 922,2177.8 C920.7,2176.5 919.3,2175.2 918,2174 C916.6,2172.7 915.3,2171.4 913.9,2170.1 C912.5,2168.8 911.2,2167.5 909.8,2166.3 C908.5,2165 907.1,2163.8 905.8,2162.6 C904.4,2161.3 903.1,2160.1 901.7,2159 C900.3,2157.8 899,2156.7 897.6,2155.6 C896.3,2154.5 894.9,2153.4 893.6,2152.4 C892.2,2151.4 890.9,2150.4 889.5,2149.5 C888.2,2148.6 886.8,2147.7 885.4,2147 C884.1,2146.2 882.7,2145.5 881.4,2144.9 C880,2144.3 878.7,2143.7 877.3,2143.3 C876,2142.9 874.6,2142.5 873.2,2142.3 C871.9,2142 870.5,2141.9 869.2,2141.9 C867.8,2141.9 866.5,2142 865.1,2142.2 C863.8,2142.4 862.4,2142.7 861,2143 C859.7,2143.4 858.3,2143.8 857,2144.3 C855.6,2144.8 854.3,2145.3 852.9,2145.9 C851.6,2146.4 850.2,2147.1 848.8,2147.7 C847.5,2148.3 846.1,2148.9 844.8,2149.6 C843.4,2150.2 842.1,2150.8 840.7,2151.5 C839.4,2152.1 838,2152.8 836.6,2153.5 C835.3,2154.1 833.9,2154.8 832.6,2155.5 C831.2,2156.2 829.9,2157 828.5,2157.7 C827.2,2158.4 825.8,2159.2 824.5,2160 C823.1,2160.8 821.7,2161.6 820.4,2162.5 C819,2163.3 817.7,2164.2 816.3,2165.1 C815,2166 813.6,2167 812.3,2168 C810.9,2168.9 809.5,2170 808.2,2171 C806.8,2172.1 805.5,2173.2 804.1,2174.4 C802.8,2175.6 801.4,2176.8 800.1,2178 C798.7,2179.3 797.3,2180.6 796,2182 C794.6,2183.3 793.3,2184.7 791.9,2186.2 C790.6,2187.7 789.2,2189.3 787.9,2190.9 C786.5,2192.5 785.1,2194.1 783.8,2195.9 C782.4,2197.6 781.1,2199.4 779.7,2201.2 C778.4,2203 777,2204.9 775.7,2206.8 C774.3,2208.7 772.9,2210.7 771.6,2212.6 C770.2,2214.6 768.9,2216.6 767.5,2218.6 C766.2,2220.7 764.8,2222.7 763.5,2224.8 C762.1,2226.9 760.8,2228.9 759.4,2231 C758,2233.1 756.7,2235.2 755.3,2237.3 C754,2239.4 752.6,2241.4 751.3,2243.5 C749.9,2245.6 748.6,2247.6 747.2,2249.7 C745.8,2251.7 744.5,2253.7 743.1,2255.7 C741.8,2257.7 740.4,2259.7 739.1,2261.6 C737.7,2263.5 735.7,2266.3 735,2267.3 Z" fill="rgba(202,38,62,0.4)"/>
<path d="M735,2280 C735.7,2278.8 737.7,2275.1 739.1,2272.7 C740.4,2270.2 741.8,2267.8 743.1,2265.3 C744.5,2262.9 745.8,2260.4 747.2,2257.9 C748.6,2255.4 749.9,2252.9 751.3,2250.4 C752.6,2247.9 754,2245.4 755.3,2242.9 C756.7,2240.4 758,2237.9 759.4,2235.4 C760.8,2232.9 762.1,2230.4 763.5,2227.8 C764.8,2225.3 766.2,2222.8 767.5,2220.3 C768.9,2217.8 770.2,2215.3 771.6,2212.7 C772.9,2210.2 774.3,2207.7 775.7,2205.2 C777,2202.7 778.4,2200.2 779.7,2197.7 C781.1,2195.2 782.4,2192.8 783.8,2190.3 C785.1,2187.8 786.5,2185.3 787.9,2182.9 C789.2,2180.4 790.6,2178 791.9,2175.6 C793.3,2173.1 794.6,2170.7 796,2168.3 C797.3,2166 798.7,2163.6 800.1,2161.3 C801.4,2159 802.8,2156.7 804.1,2154.4 C805.5,2152.1 806.8,2149.9 808.2,2147.7 C809.5,2145.6 810.9,2143.4 812.3,2141.4 C813.6,2139.3 815,2137.3 816.3,2135.3 C817.7,2133.3 819,2131.4 820.4,2129.6 C821.7,2127.7 823.1,2125.9 824.5,2124.2 C825.8,2122.5 827.2,2120.9 828.5,2119.4 C829.9,2117.8 831.2,2116.3 832.6,2114.9 C833.9,2113.5 835.3,2112.2 836.6,2111 C838,2109.8 839.4,2108.7 840.7,2107.7 C842.1,2106.7 843.4,2105.7 844.8,2104.9 C846.1,2104 847.5,2103.3 848.8,2102.6 C850.2,2101.9 851.6,2101.3 852.9,2100.8 C854.3,2100.3 855.6,2099.8 857,2099.5 C858.3,2099.1 859.7,2098.8 861,2098.6 C862.4,2098.4 863.8,2098.3 865.1,2098.2 C866.5,2098.1 867.8,2098.1 869.2,2098.2 C870.5,2098.2 871.9,2098.3 873.2,2098.5 C874.6,2098.7 876,2098.9 877.3,2099.2 C878.7,2099.6 880,2099.9 881.4,2100.3 C882.7,2100.7 884.1,2101.2 885.4,2101.7 C886.8,2102.2 888.2,2102.8 889.5,2103.4 C890.9,2104 892.2,2104.7 893.6,2105.4 C894.9,2106.1 896.3,2106.8 897.6,2107.6 C899,2108.4 900.3,2109.2 901.7,2110 C903.1,2110.8 904.4,2111.7 905.8,2112.6 C907.1,2113.4 908.5,2114.3 909.8,2115.2 C911.2,2116.1 912.5,2117 913.9,2118 C915.3,2118.9 916.6,2119.8 918,2120.7 C919.3,2121.7 920.7,2122.6 922,2123.5 C923.4,2124.4 924.7,2125.3 926.1,2126.2 C927.5,2127.1 928.8,2128 930.2,2128.9 C931.5,2129.8 932.9,2130.6 934.2,2131.5 C935.6,2132.3 936.9,2133.1 938.3,2133.9 C939.7,2134.7 941,2135.5 942.4,2136.2 C943.7,2137 945.1,2137.7 946.4,2138.5 C947.8,2139.2 949.1,2139.9 950.5,2140.6 C951.8,2141.3 953.2,2141.9 954.6,2142.6 C955.9,2143.2 957.3,2143.9 958.6,2144.5 C960,2145.1 961.3,2145.7 962.7,2146.2 C964,2146.8 965.4,2147.4 966.8,2147.9 C968.1,2148.4 969.5,2148.9 970.8,2149.4 C972.2,2149.9 973.5,2150.4 974.9,2150.8 C976.2,2151.3 977.6,2151.7 979,2152.1 C980.3,2152.5 981.7,2152.9 983,2153.2 C984.4,2153.6 985.7,2153.9 987.1,2154.3 C988.4,2154.6 989.8,2154.9 991.2,2155.1 C992.5,2155.4 993.9,2155.7 995.2,2155.9 C996.6,2156.1 997.9,2156.3 999.3,2156.5 C1000.6,2156.7 1002,2156.9 1003.4,2157 C1004.7,2157.1 1006.1,2157.2 1007.4,2157.3 C1008.8,2157.4 1010.1,2157.5 1011.5,2157.5 C1012.8,2157.6 1014.2,2157.6 1015.5,2157.6 C1016.9,2157.6 1018.3,2157.5 1019.6,2157.5 C1021,2157.4 1022.3,2157.3 1023.7,2157.2 C1025,2157.1 1026.4,2157 1027.7,2156.9 C1029.1,2156.7 1030.5,2156.5 1031.8,2156.3 C1033.2,2156.1 1034.5,2155.9 1035.9,2155.7 C1037.2,2155.5 1038.6,2155.2 1039.9,2154.9 C1041.3,2154.7 1042.7,2154.4 1044,2154.1 C1045.4,2153.8 1046.7,2153.5 1048.1,2153.1 C1049.4,2152.8 1050.8,2152.5 1052.1,2152.1 C1053.5,2151.8 1054.9,2151.4 1056.2,2151 C1057.6,2150.6 1058.9,2150.2 1060.3,2149.8 C1061.6,2149.4 1063,2149 1064.3,2148.6 C1065.7,2148.2 1067.1,2147.8 1068.4,2147.3 C1069.8,2146.9 1071.1,2146.5 1072.5,2146 C1073.8,2145.6 1075.2,2145.2 1076.5,2144.7 C1077.9,2144.3 1079.2,2143.8 1080.6,2143.4 C1082,2142.9 1083.3,2142.5 1084.7,2142 C1086,2141.6 1087.4,2141.1 1088.7,2140.7 C1090.1,2140.2 1091.4,2139.8 1092.8,2139.3 C1094.2,2138.9 1095.5,2138.5 1096.9,2138 C1098.2,2137.6 1099.6,2137.2 1100.9,2136.7 C1102.3,2136.3 1104.3,2135.7 1105,2135.5 L1105,2224.6 C1104.3,2224.7 1102.3,2224.9 1100.9,2225.1 C1099.6,2225.3 1098.2,2225.5 1096.9,2225.8 C1095.5,2226 1094.2,2226.2 1092.8,2226.5 C1091.4,2226.7 1090.1,2227 1088.7,2227.2 C1087.4,2227.5 1086,2227.7 1084.7,2228 C1083.3,2228.3 1082,2228.5 1080.6,2228.8 C1079.2,2229.1 1077.9,2229.4 1076.5,2229.7 C1075.2,2229.9 1073.8,2230.2 1072.5,2230.5 C1071.1,2230.8 1069.8,2231 1068.4,2231.3 C1067.1,2231.6 1065.7,2231.8 1064.3,2232.1 C1063,2232.3 1061.6,2232.6 1060.3,2232.8 C1058.9,2233 1057.6,2233.3 1056.2,2233.5 C1054.9,2233.7 1053.5,2233.9 1052.1,2234 C1050.8,2234.2 1049.4,2234.4 1048.1,2234.5 C1046.7,2234.7 1045.4,2234.8 1044,2234.9 C1042.7,2235 1041.3,2235.1 1039.9,2235.1 C1038.6,2235.2 1037.2,2235.2 1035.9,2235.3 C1034.5,2235.3 1033.2,2235.2 1031.8,2235.2 C1030.5,2235.2 1029.1,2235.1 1027.7,2235 C1026.4,2234.9 1025,2234.7 1023.7,2234.6 C1022.3,2234.4 1021,2234.2 1019.6,2234 C1018.3,2233.7 1016.9,2233.4 1015.5,2233.1 C1014.2,2232.8 1012.8,2232.5 1011.5,2232.1 C1010.1,2231.7 1008.8,2231.3 1007.4,2230.9 C1006.1,2230.5 1004.7,2230 1003.4,2229.5 C1002,2229 1000.6,2228.5 999.3,2228 C997.9,2227.4 996.6,2226.8 995.2,2226.3 C993.9,2225.7 992.5,2225.1 991.2,2224.5 C989.8,2223.8 988.4,2223.2 987.1,2222.5 C985.7,2221.9 984.4,2221.2 983,2220.5 C981.7,2219.8 980.3,2219.1 979,2218.4 C977.6,2217.7 976.2,2217 974.9,2216.3 C973.5,2215.5 972.2,2214.8 970.8,2214.1 C969.5,2213.3 968.1,2212.6 966.8,2211.8 C965.4,2211.1 964,2210.3 962.7,2209.6 C961.3,2208.8 960,2208.1 958.6,2207.3 C957.3,2206.6 955.9,2205.8 954.6,2205.1 C953.2,2204.3 951.8,2203.6 950.5,2202.9 C949.1,2202.1 947.8,2201.4 946.4,2200.6 C945.1,2199.8 943.7,2199.1 942.4,2198.3 C941,2197.5 939.7,2196.7 938.3,2196 C936.9,2195.2 935.6,2194.3 934.2,2193.5 C932.9,2192.7 931.5,2191.8 930.2,2191 C928.8,2190.1 927.5,2189.2 926.1,2188.3 C924.7,2187.4 923.4,2186.5 922,2185.5 C920.7,2184.6 919.3,2183.6 918,2182.7 C916.6,2181.7 915.3,2180.8 913.9,2179.8 C912.5,2178.9 911.2,2177.9 909.8,2176.9 C908.5,2176 907.1,2175 905.8,2174.1 C904.4,2173.2 903.1,2172.2 901.7,2171.3 C900.3,2170.5 899,2169.6 897.6,2168.7 C896.3,2167.9 894.9,2167 893.6,2166.2 C892.2,2165.5 890.9,2164.7 889.5,2164 C888.2,2163.3 886.8,2162.6 885.4,2162 C884.1,2161.4 882.7,2160.9 881.4,2160.4 C880,2159.9 878.7,2159.5 877.3,2159.2 C876,2158.8 874.6,2158.5 873.2,2158.3 C871.9,2158.1 870.5,2158 869.2,2158 C867.8,2158 866.5,2158 865.1,2158.2 C863.8,2158.3 862.4,2158.5 861,2158.9 C859.7,2159.2 858.3,2159.6 857,2160.1 C855.6,2160.5 854.3,2161.1 852.9,2161.8 C851.6,2162.4 850.2,2163.1 848.8,2164 C847.5,2164.8 846.1,2165.7 844.8,2166.6 C843.4,2167.6 842.1,2168.7 840.7,2169.8 C839.4,2170.9 838,2172.2 836.6,2173.5 C835.3,2174.7 833.9,2176.1 832.6,2177.6 C831.2,2179 829.9,2180.5 828.5,2182.1 C827.2,2183.7 825.8,2185.4 824.5,2187.1 C823.1,2188.9 821.7,2190.7 820.4,2192.5 C819,2194.3 817.7,2196.2 816.3,2198 C815,2199.9 813.6,2201.8 812.3,2203.6 C810.9,2205.5 809.5,2207.3 808.2,2209.1 C806.8,2210.9 805.5,2212.6 804.1,2214.4 C802.8,2216.2 801.4,2218 800.1,2220.1 C798.7,2222.1 797.3,2224.3 796,2226.7 C794.6,2229.1 793.3,2231.8 791.9,2234.6 C790.6,2237.3 789.2,2240.2 787.9,2243.2 C786.5,2246.1 785.1,2249.2 783.8,2252.2 C782.4,2255.1 781.1,2258.2 779.7,2261.1 C778.4,2264 777,2266.9 775.7,2269.7 C774.3,2272.4 772.9,2275.1 771.6,2277.8 C770.2,2280.6 768.9,2283.2 767.5,2285.9 C766.2,2288.7 764.8,2291.4 763.5,2294.2 C762.1,2297.1 760.8,2300 759.4,2303 C758,2306 756.7,2309.2 755.3,2312.5 C754,2315.8 752.6,2319.2 751.3,2322.8 C749.9,2326.4 748.6,2330.1 747.2,2333.9 C745.8,2337.8 744.5,2341.8 743.1,2345.9 C741.8,2350 740.4,2354.3 739.1,2358.7 C737.7,2363 735.7,2370 735,2372.2 Z" fill="rgba(68,112,155,0.4)"/>
<line x1="709.2" y1="2043.7" x2="1123.7" y2="2043.7" stroke="#111" stroke-width="1.6"/>
<path d="M735,2156.6 C735.7,2156.3 737.7,2155.5 739.1,2155 C740.4,2154.5 741.8,2153.9 743.1,2153.3 C744.5,2152.7 745.8,2152.2 747.2,2151.6 C748.6,2151 749.9,2150.3 751.3,2149.7 C752.6,2149.1 754,2148.4 755.3,2147.8 C756.7,2147.1 758,2146.5 759.4,2145.8 C760.8,2145.1 762.1,2144.5 763.5,2143.8 C764.8,2143.1 766.2,2142.4 767.5,2141.7 C768.9,2141 770.2,2140.2 771.6,2139.5 C772.9,2138.8 774.3,2138.1 775.7,2137.3 C777,2136.6 778.4,2135.8 779.7,2135.1 C781.1,2134.4 782.4,2133.6 783.8,2132.8 C785.1,2132.1 786.5,2131.3 787.9,2130.6 C789.2,2129.8 790.6,2129 791.9,2128.3 C793.3,2127.5 794.6,2126.7 796,2126 C797.3,2125.2 798.7,2124.4 800.1,2123.6 C801.4,2122.9 802.8,2122.1 804.1,2121.3 C805.5,2120.6 806.8,2119.8 808.2,2119 C809.5,2118.3 810.9,2117.5 812.3,2116.7 C813.6,2116 815,2115.2 816.3,2114.5 C817.7,2113.7 819,2113 820.4,2112.2 C821.7,2111.5 823.1,2110.7 824.5,2110 C825.8,2109.3 827.2,2108.6 828.5,2107.8 C829.9,2107.1 831.2,2106.4 832.6,2105.8 C833.9,2105.1 835.3,2104.4 836.6,2103.8 C838,2103.1 839.4,2102.5 840.7,2101.9 C842.1,2101.3 843.4,2100.8 844.8,2100.2 C846.1,2099.7 847.5,2099.2 848.8,2098.7 C850.2,2098.2 851.6,2097.8 852.9,2097.4 C854.3,2097 855.6,2096.6 857,2096.3 C858.3,2096 859.7,2095.7 861,2095.5 C862.4,2095.2 863.8,2095 865.1,2094.9 C866.5,2094.8 867.8,2094.7 869.2,2094.6 C870.5,2094.6 871.9,2094.6 873.2,2094.7 C874.6,2094.8 876,2094.9 877.3,2095.1 C878.7,2095.4 880,2095.6 881.4,2096 C882.7,2096.3 884.1,2096.7 885.4,2097.2 C886.8,2097.6 888.2,2098.2 889.5,2098.8 C890.9,2099.4 892.2,2100.1 893.6,2100.8 C894.9,2101.6 896.3,2102.4 897.6,2103.3 C899,2104.2 900.3,2105.1 901.7,2106.2 C903.1,2107.2 904.4,2108.3 905.8,2109.4 C907.1,2110.6 908.5,2111.9 909.8,2113.2 C911.2,2114.5 912.5,2115.9 913.9,2117.3 C915.3,2118.8 916.6,2120.3 918,2121.9 C919.3,2123.5 920.7,2125.2 922,2126.9 C923.4,2128.6 924.7,2130.5 926.1,2132.3 C927.5,2134.2 928.8,2136.2 930.2,2138.2 C931.5,2140.3 932.9,2142.4 934.2,2144.5 C935.6,2146.7 936.9,2149 938.3,2151.3 C939.7,2153.7 941,2156.1 942.4,2158.5 C943.7,2161 945.1,2163.6 946.4,2166.2 C947.8,2168.8 949.1,2171.5 950.5,2174.2 C951.8,2176.9 953.2,2179.7 954.6,2182.6 C955.9,2185.4 957.3,2188.3 958.6,2191.2 C960,2194.1 961.3,2197.1 962.7,2200.1 C964,2203.1 965.4,2206.1 966.8,2209.2 C968.1,2212.2 969.5,2215.3 970.8,2218.4 C972.2,2221.5 973.5,2224.6 974.9,2227.7 C976.2,2230.9 977.6,2234 979,2237.1 C980.3,2240.3 981.7,2243.4 983,2246.5 C984.4,2249.6 985.7,2252.7 987.1,2255.8 C988.4,2258.9 989.8,2261.9 991.2,2264.9 C992.5,2267.9 993.9,2270.9 995.2,2273.8 C996.6,2276.7 997.9,2279.5 999.3,2282.3 C1000.6,2285.1 1002,2287.9 1003.4,2290.6 C1004.7,2293.3 1006.1,2295.9 1007.4,2298.5 C1008.8,2301.1 1010.1,2303.7 1011.5,2306.1 C1012.8,2308.6 1014.2,2311.1 1015.5,2313.4 C1016.9,2315.8 1018.3,2318.1 1019.6,2320.3 C1021,2322.6 1022.3,2324.7 1023.7,2326.8 C1025,2328.8 1026.4,2330.8 1027.7,2332.7 C1029.1,2334.6 1030.5,2336.3 1031.8,2338 C1033.2,2339.7 1034.5,2341.3 1035.9,2342.7 C1037.2,2344.2 1038.6,2345.5 1039.9,2346.7 C1041.3,2347.9 1042.7,2349 1044,2349.9 C1045.4,2350.9 1046.7,2351.7 1048.1,2352.4 C1049.4,2353.1 1050.8,2353.6 1052.1,2354 C1053.5,2354.5 1054.9,2354.8 1056.2,2354.9 C1057.6,2355.1 1058.9,2355.1 1060.3,2355.1 C1061.6,2355 1063,2354.8 1064.3,2354.4 C1065.7,2354.1 1067.1,2353.7 1068.4,2353.1 C1069.8,2352.6 1071.1,2351.9 1072.5,2351.1 C1073.8,2350.4 1075.2,2349.5 1076.5,2348.5 C1077.9,2347.5 1079.2,2346.3 1080.6,2345.1 C1082,2343.9 1083.3,2342.6 1084.7,2341.2 C1086,2339.8 1087.4,2338.2 1088.7,2336.6 C1090.1,2335 1091.4,2333.3 1092.8,2331.5 C1094.2,2329.6 1095.5,2327.7 1096.9,2325.7 C1098.2,2323.7 1099.6,2321.6 1100.9,2319.5 C1102.3,2317.3 1104.3,2313.8 1105,2312.7" fill="none" stroke="#C81E3A" stroke-width="3.4" stroke-dasharray="13.5,13.5"/>
<path d="M735.6,2329.9 C736.3,2327.7 738.3,2320.8 739.7,2316.8 C741,2312.8 742.4,2309.4 743.7,2306.1 C745.1,2302.8 746.4,2299.9 747.8,2297 C749.1,2294.2 750.5,2291.6 751.8,2288.9 C753.2,2286.3 754.5,2283.7 755.9,2281 C757.2,2278.3 758.6,2275.4 760,2272.5 C761.3,2269.5 762.7,2266.3 764,2263.2 C765.4,2260 766.7,2256.7 768.1,2253.6 C769.4,2250.4 770.8,2247.2 772.1,2244.2 C773.5,2241.1 774.8,2238.1 776.2,2235.2 C777.5,2232.3 778.9,2229.4 780.3,2226.6 C781.6,2223.8 783,2221.1 784.3,2218.4 C785.7,2215.7 787,2213.1 788.4,2210.5 C789.7,2208 791.1,2205.4 792.4,2203 C793.8,2200.5 795.1,2198.1 796.5,2195.7 C797.8,2193.3 799.2,2191 800.5,2188.7 C801.9,2186.5 803.3,2184.2 804.6,2182.1 C806,2179.9 807.3,2177.8 808.7,2175.7 C810,2173.6 811.4,2171.6 812.7,2169.7 C814.1,2167.8 815.4,2165.9 816.8,2164.1 C818.1,2162.3 819.5,2160.5 820.8,2158.8 C822.2,2157.1 823.6,2155.5 824.9,2154 C826.3,2152.4 827.6,2150.9 829,2149.5 C830.3,2148.1 831.7,2146.8 833,2145.5 C834.4,2144.3 835.7,2143.1 837.1,2142 C838.4,2140.9 839.8,2139.9 841.1,2139 C842.5,2138 843.8,2137.2 845.2,2136.4 C846.6,2135.6 847.9,2134.9 849.3,2134.3 C850.6,2133.6 852,2133.1 853.3,2132.6 C854.7,2132.1 856,2131.6 857.4,2131.3 C858.7,2130.9 860.1,2130.6 861.4,2130.3 C862.8,2130.1 864.1,2129.9 865.5,2129.7 C866.9,2129.6 868.2,2129.5 869.6,2129.5 C870.9,2129.5 872.3,2129.5 873.6,2129.6 C875,2129.6 876.3,2129.8 877.7,2129.9 C879,2130.1 880.4,2130.3 881.7,2130.5 C883.1,2130.8 884.4,2131.1 885.8,2131.4 C887.1,2131.7 888.5,2132.1 889.9,2132.5 C891.2,2132.8 892.6,2133.3 893.9,2133.7 C895.3,2134.2 896.6,2134.7 898,2135.2 C899.3,2135.7 900.7,2136.3 902,2136.8 C903.4,2137.4 904.7,2138 906.1,2138.6 C907.4,2139.3 908.8,2139.9 910.2,2140.6 C911.5,2141.3 912.9,2142 914.2,2142.7 C915.6,2143.4 916.9,2144.1 918.3,2144.9 C919.6,2145.6 921,2146.4 922.3,2147.2 C923.7,2147.9 925,2148.7 926.4,2149.6 C927.7,2150.4 929.1,2151.2 930.4,2152 C931.8,2152.9 933.2,2153.7 934.5,2154.6 C935.9,2155.4 937.2,2156.3 938.6,2157.1 C939.9,2158 941.3,2158.9 942.6,2159.7 C944,2160.6 945.3,2161.5 946.7,2162.4 C948,2163.2 949.4,2164.1 950.7,2165 C952.1,2165.9 953.5,2166.7 954.8,2167.6 C956.2,2168.5 957.5,2169.3 958.9,2170.2 C960.2,2171.1 961.6,2171.9 962.9,2172.8 C964.3,2173.6 965.6,2174.4 967,2175.3 C968.3,2176.1 969.7,2176.9 971,2177.7 C972.4,2178.5 973.7,2179.3 975.1,2180 C976.5,2180.8 977.8,2181.6 979.2,2182.3 C980.5,2183 981.9,2183.8 983.2,2184.5 C984.6,2185.2 985.9,2185.8 987.3,2186.5 C988.6,2187.1 990,2187.8 991.3,2188.4 C992.7,2189 994,2189.6 995.4,2190.1 C996.8,2190.7 998.1,2191.2 999.5,2191.7 C1000.8,2192.2 1002.2,2192.6 1003.5,2193.1 C1004.9,2193.5 1006.2,2193.9 1007.6,2194.2 C1008.9,2194.6 1010.3,2194.9 1011.6,2195.2 C1013,2195.6 1014.3,2195.8 1015.7,2196.1 C1017,2196.3 1018.4,2196.5 1019.8,2196.7 C1021.1,2196.9 1022.5,2197 1023.8,2197.2 C1025.2,2197.3 1026.5,2197.4 1027.9,2197.5 C1029.2,2197.5 1030.6,2197.6 1031.9,2197.6 C1033.3,2197.6 1034.6,2197.6 1036,2197.6 C1037.3,2197.6 1038.7,2197.5 1040.1,2197.5 C1041.4,2197.4 1042.8,2197.3 1044.1,2197.2 C1045.5,2197.1 1046.8,2196.9 1048.2,2196.8 C1049.5,2196.6 1050.9,2196.4 1052.2,2196.2 C1053.6,2196 1054.9,2195.8 1056.3,2195.6 C1057.6,2195.3 1059,2195.1 1060.3,2194.8 C1061.7,2194.5 1063.1,2194.3 1064.4,2193.9 C1065.8,2193.6 1067.1,2193.3 1068.5,2193 C1069.8,2192.7 1071.2,2192.3 1072.5,2192 C1073.9,2191.6 1075.2,2191.2 1076.6,2190.8 C1077.9,2190.4 1079.3,2190 1080.6,2189.6 C1082,2189.2 1083.4,2188.8 1084.7,2188.4 C1086.1,2187.9 1087.4,2187.5 1088.8,2187.1 C1090.1,2186.6 1091.5,2186.1 1092.8,2185.7 C1094.2,2185.2 1095.5,2184.7 1096.9,2184.3 C1098.2,2183.8 1099.6,2183.3 1100.9,2182.8 C1102.3,2182.3 1104.3,2181.6 1105,2181.3" fill="none" stroke="#3C6EA6" stroke-width="3.4" stroke-dasharray="13.5,13.5"/>
<rect x="709.2" y="1948.8" width="414.5" height="502.7" fill="none" stroke="#222" stroke-width="1.6"/>
<line x1="703.7" y1="2043.7" x2="709.2" y2="2043.7" stroke="#222" stroke-width="1.4"/>
<text x="698.3" y="2054.3" font-size="29" text-anchor="end" stroke="#000" stroke-width="0.45">0.0</text>
<line x1="703.7" y1="2198.2" x2="709.2" y2="2198.2" stroke="#222" stroke-width="1.4"/>
<text x="698.3" y="2208.8" font-size="29" text-anchor="end" stroke="#000" stroke-width="0.45">−0.5</text>
<line x1="703.7" y1="2353" x2="709.2" y2="2353" stroke="#222" stroke-width="1.4"/>
<text x="698.3" y="2363.6" font-size="29" text-anchor="end" stroke="#000" stroke-width="0.45">−1.0</text>
<line x1="710.2" y1="2451.5" x2="710.2" y2="2457" stroke="#222" stroke-width="1.4"/>
<text x="703.2" y="2482.7" font-size="27" stroke="#000" stroke-width="0.45">10</text>
<text x="733.8" y="2472.5" font-size="16.4">−1.05</text>
<line x1="813.6" y1="2451.5" x2="813.6" y2="2457" stroke="#222" stroke-width="1.4"/>
<text x="806.6" y="2482.7" font-size="27" stroke="#000" stroke-width="0.45">10</text>
<text x="837.2" y="2472.5" font-size="16.4">−0.75</text>
<line x1="917" y1="2451.5" x2="917" y2="2457" stroke="#222" stroke-width="1.4"/>
<text x="910" y="2482.7" font-size="27" stroke="#000" stroke-width="0.45">10</text>
<text x="940.6" y="2472.5" font-size="16.4">−0.45</text>
<line x1="1020.3" y1="2451.5" x2="1020.3" y2="2457" stroke="#222" stroke-width="1.4"/>
<text x="1013.3" y="2482.7" font-size="27" stroke="#000" stroke-width="0.45">10</text>
<text x="1043.9" y="2472.5" font-size="16.4">−0.15</text>
<line x1="1123.7" y1="2451.5" x2="1123.7" y2="2457" stroke="#222" stroke-width="1.4"/>
<text x="1116.7" y="2482.7" font-size="27" stroke="#000" stroke-width="0.45">10</text>
<text x="1147.3" y="2472.5" font-size="16.4">0.15</text>
<text x="932.3" y="2512.8" font-size="27.6" text-anchor="middle" stroke="#000" stroke-width="0.45">Soil fertility (cmol(+)/kg)</text>
<text transform="translate(634,2191) rotate(-90)" font-size="29" text-anchor="middle" stroke="#000" stroke-width="0.45">EVI anomaly</text>
<text x="716.5" y="1987.8" font-size="33" stroke="#000" stroke-width="0.45">i</text>
<text x="735.6" y="2387.8" font-size="19.6">Forest responses(EVI anomaly)</text>
<text x="735.6" y="2411.5" font-size="19.6">= f(<tspan font-weight="bold">soil fertility</tspan>)+f(dry season length)</text>
<text x="750.8" y="2434.6" font-size="19.6">+s(soil texture)</text>
<path d="M1343.3,2242.3 C1344,2243 1346,2245.5 1347.4,2247 C1348.7,2248.5 1350.1,2250 1351.5,2251.4 C1352.8,2252.8 1354.2,2254.1 1355.5,2255.3 C1356.9,2256.6 1358.2,2257.8 1359.6,2258.9 C1361,2260 1362.3,2261.1 1363.7,2262.1 C1365,2263.1 1366.4,2264 1367.8,2264.9 C1369.1,2265.8 1370.5,2266.6 1371.8,2267.3 C1373.2,2268.1 1374.5,2268.8 1375.9,2269.4 C1377.3,2270 1378.6,2270.6 1380,2271 C1381.3,2271.5 1382.7,2272 1384.1,2272.3 C1385.4,2272.7 1386.8,2273 1388.1,2273.2 C1389.5,2273.5 1390.8,2273.6 1392.2,2273.7 C1393.6,2273.8 1394.9,2273.9 1396.3,2273.9 C1397.6,2273.9 1399,2273.8 1400.4,2273.6 C1401.7,2273.5 1403.1,2273.3 1404.4,2273 C1405.8,2272.7 1407.2,2272.4 1408.5,2272 C1409.9,2271.6 1411.2,2271.2 1412.6,2270.7 C1413.9,2270.1 1415.3,2269.6 1416.7,2268.9 C1418,2268.3 1419.4,2267.6 1420.7,2266.8 C1422.1,2266 1423.5,2265.2 1424.8,2264.3 C1426.2,2263.4 1427.5,2262.5 1428.9,2261.5 C1430.2,2260.5 1431.6,2259.4 1433,2258.2 C1434.3,2257.1 1435.7,2255.9 1437,2254.7 C1438.4,2253.5 1439.8,2252.2 1441.1,2250.8 C1442.5,2249.5 1443.8,2248.2 1445.2,2246.8 C1446.5,2245.4 1447.9,2244 1449.3,2242.5 C1450.6,2241.1 1452,2239.7 1453.3,2238.2 C1454.7,2236.7 1456.1,2235.3 1457.4,2233.8 C1458.8,2232.3 1460.1,2230.9 1461.5,2229.4 C1462.8,2228 1464.2,2226.5 1465.6,2225.1 C1466.9,2223.7 1468.3,2222.3 1469.6,2220.9 C1471,2219.6 1472.4,2218.2 1473.7,2216.9 C1475.1,2215.6 1476.4,2214.4 1477.8,2213.2 C1479.2,2212 1480.5,2210.8 1481.9,2209.7 C1483.2,2208.6 1484.6,2207.6 1485.9,2206.6 C1487.3,2205.6 1488.7,2204.7 1490,2203.9 C1491.4,2203.1 1492.7,2202.4 1494.1,2201.7 C1495.5,2201.1 1496.8,2200.5 1498.2,2200.1 C1499.5,2199.6 1500.9,2199.2 1502.2,2199 C1503.6,2198.7 1505,2198.6 1506.3,2198.6 C1507.7,2198.6 1509,2198.7 1510.4,2198.9 C1511.8,2199.1 1513.1,2199.4 1514.5,2199.9 C1515.8,2200.3 1517.2,2200.8 1518.5,2201.4 C1519.9,2202 1521.3,2202.8 1522.6,2203.5 C1524,2204.3 1525.3,2205.2 1526.7,2206.1 C1528.1,2207 1529.4,2207.9 1530.8,2208.9 C1532.1,2209.9 1533.5,2211 1534.9,2212.1 C1536.2,2213.1 1537.6,2214.2 1538.9,2215.4 C1540.3,2216.5 1541.6,2217.6 1543,2218.8 C1544.4,2219.9 1545.7,2221 1547.1,2222.2 C1548.4,2223.3 1549.8,2224.4 1551.2,2225.5 C1552.5,2226.6 1553.9,2227.6 1555.2,2228.6 C1556.6,2229.6 1557.9,2230.6 1559.3,2231.5 C1560.7,2232.5 1562,2233.3 1563.4,2234.2 C1564.7,2235 1566.1,2235.8 1567.5,2236.5 C1568.8,2237.2 1570.2,2237.9 1571.5,2238.6 C1572.9,2239.2 1574.2,2239.8 1575.6,2240.3 C1577,2240.8 1578.3,2241.3 1579.7,2241.7 C1581,2242.2 1582.4,2242.5 1583.8,2242.8 C1585.1,2243.2 1586.5,2243.4 1587.8,2243.6 C1589.2,2243.8 1590.6,2244 1591.9,2244.1 C1593.3,2244.2 1594.6,2244.2 1596,2244.2 C1597.3,2244.2 1598.7,2244.1 1600.1,2244 C1601.4,2243.8 1602.8,2243.6 1604.1,2243.4 C1605.5,2243.1 1606.9,2242.8 1608.2,2242.4 C1609.6,2242 1610.9,2241.6 1612.3,2241.1 C1613.6,2240.6 1615,2240 1616.4,2239.4 C1617.7,2238.7 1619.1,2238 1620.4,2237.3 C1621.8,2236.6 1623.2,2235.8 1624.5,2234.9 C1625.9,2234.1 1627.2,2233.2 1628.6,2232.3 C1629.9,2231.3 1631.3,2230.4 1632.7,2229.3 C1634,2228.3 1635.4,2227.3 1636.7,2226.2 C1638.1,2225.1 1639.5,2224 1640.8,2222.8 C1642.2,2221.6 1643.5,2220.4 1644.9,2219.2 C1646.2,2218 1647.6,2216.7 1649,2215.5 C1650.3,2214.2 1651.7,2212.9 1653,2211.6 C1654.4,2210.3 1655.8,2208.9 1657.1,2207.6 C1658.5,2206.2 1659.8,2204.9 1661.2,2203.5 C1662.6,2202.1 1663.9,2200.7 1665.3,2199.4 C1666.6,2198 1668,2196.6 1669.3,2195.2 C1670.7,2193.8 1672.1,2192.3 1673.4,2190.9 C1674.8,2189.5 1676.1,2188.1 1677.5,2186.6 C1678.9,2185.2 1680.2,2183.8 1681.6,2182.3 C1682.9,2180.9 1684.3,2179.4 1685.6,2177.9 C1687,2176.5 1688.4,2175 1689.7,2173.5 C1691.1,2172 1692.4,2170.5 1693.8,2169 C1695.2,2167.5 1696.5,2165.9 1697.9,2164.4 C1699.2,2162.9 1700.6,2161.3 1701.9,2159.7 C1703.3,2158.2 1704.7,2156.6 1706,2155 C1707.4,2153.4 1709.4,2151 1710.1,2150.2 L1710.1,2215.8 C1709.4,2216.2 1707.4,2217.5 1706,2218.4 C1704.7,2219.3 1703.3,2220.1 1701.9,2221 C1700.6,2221.9 1699.2,2222.7 1697.9,2223.6 C1696.5,2224.4 1695.2,2225.3 1693.8,2226.1 C1692.4,2226.9 1691.1,2227.8 1689.7,2228.6 C1688.4,2229.4 1687,2230.2 1685.6,2231 C1684.3,2231.9 1682.9,2232.7 1681.6,2233.5 C1680.2,2234.3 1678.9,2235.1 1677.5,2235.9 C1676.1,2236.7 1674.8,2237.4 1673.4,2238.2 C1672.1,2239 1670.7,2239.8 1669.3,2240.5 C1668,2241.3 1666.6,2242.1 1665.3,2242.8 C1663.9,2243.6 1662.6,2244.3 1661.2,2245.1 C1659.8,2245.8 1658.5,2246.6 1657.1,2247.3 C1655.8,2248 1654.4,2248.8 1653,2249.5 C1651.7,2250.2 1650.3,2250.9 1649,2251.7 C1647.6,2252.4 1646.2,2253.1 1644.9,2253.9 C1643.5,2254.6 1642.2,2255.3 1640.8,2256.1 C1639.5,2256.8 1638.1,2257.6 1636.7,2258.3 C1635.4,2259.1 1634,2259.9 1632.7,2260.6 C1631.3,2261.4 1629.9,2262.1 1628.6,2262.8 C1627.2,2263.6 1625.9,2264.3 1624.5,2265 C1623.2,2265.7 1621.8,2266.4 1620.4,2267 C1619.1,2267.6 1617.7,2268.3 1616.4,2268.9 C1615,2269.4 1613.6,2270 1612.3,2270.5 C1610.9,2271 1609.6,2271.5 1608.2,2271.9 C1606.9,2272.3 1605.5,2272.7 1604.1,2273 C1602.8,2273.3 1601.4,2273.6 1600.1,2273.8 C1598.7,2274 1597.3,2274.1 1596,2274.2 C1594.6,2274.2 1593.3,2274.2 1591.9,2274.1 C1590.6,2274 1589.2,2273.8 1587.8,2273.6 C1586.5,2273.3 1585.1,2272.9 1583.8,2272.4 C1582.4,2272 1581,2271.4 1579.7,2270.8 C1578.3,2270.1 1577,2269.4 1575.6,2268.6 C1574.2,2267.8 1572.9,2267 1571.5,2266.1 C1570.2,2265.2 1568.8,2264.2 1567.5,2263.2 C1566.1,2262.2 1564.7,2261.1 1563.4,2260 C1562,2259 1560.7,2257.8 1559.3,2256.7 C1557.9,2255.6 1556.6,2254.4 1555.2,2253.2 C1553.9,2252 1552.5,2250.8 1551.2,2249.7 C1549.8,2248.5 1548.4,2247.3 1547.1,2246.1 C1545.7,2244.9 1544.4,2243.7 1543,2242.6 C1541.6,2241.4 1540.3,2240.3 1538.9,2239.2 C1537.6,2238 1536.2,2236.9 1534.9,2235.9 C1533.5,2234.9 1532.1,2233.8 1530.8,2232.9 C1529.4,2231.9 1528.1,2231 1526.7,2230.1 C1525.3,2229.2 1524,2228.4 1522.6,2227.7 C1521.3,2226.9 1519.9,2226.2 1518.5,2225.6 C1517.2,2225 1515.8,2224.5 1514.5,2224 C1513.1,2223.6 1511.8,2223.2 1510.4,2223 C1509,2222.7 1507.7,2222.5 1506.3,2222.4 C1505,2222.4 1503.6,2222.4 1502.2,2222.5 C1500.9,2222.6 1499.5,2222.8 1498.2,2223.1 C1496.8,2223.4 1495.5,2223.8 1494.1,2224.3 C1492.7,2224.8 1491.4,2225.4 1490,2226 C1488.7,2226.7 1487.3,2227.5 1485.9,2228.3 C1484.6,2229.1 1483.2,2230.1 1481.9,2231.1 C1480.5,2232.1 1479.2,2233.2 1477.8,2234.3 C1476.4,2235.5 1475.1,2236.7 1473.7,2238 C1472.4,2239.4 1471,2240.8 1469.6,2242.2 C1468.3,2243.7 1466.9,2245.3 1465.6,2246.9 C1464.2,2248.5 1462.8,2250.1 1461.5,2251.9 C1460.1,2253.6 1458.8,2255.4 1457.4,2257.2 C1456.1,2259 1454.7,2260.9 1453.3,2262.8 C1452,2264.7 1450.6,2266.7 1449.3,2268.7 C1447.9,2270.6 1446.5,2272.6 1445.2,2274.6 C1443.8,2276.7 1442.5,2278.7 1441.1,2280.7 C1439.8,2282.8 1438.4,2284.8 1437,2286.9 C1435.7,2288.9 1434.3,2291 1433,2293 C1431.6,2295 1430.2,2297 1428.9,2299 C1427.5,2301 1426.2,2303 1424.8,2305 C1423.5,2307 1422.1,2308.9 1420.7,2310.9 C1419.4,2312.8 1418,2314.8 1416.7,2316.7 C1415.3,2318.6 1413.9,2320.5 1412.6,2322.5 C1411.2,2324.4 1409.9,2326.3 1408.5,2328.2 C1407.2,2330.1 1405.8,2332.1 1404.4,2334 C1403.1,2335.9 1401.7,2337.8 1400.4,2339.7 C1399,2341.6 1397.6,2343.6 1396.3,2345.5 C1394.9,2347.4 1393.6,2349.4 1392.2,2351.3 C1390.8,2353.2 1389.5,2355.2 1388.1,2357.1 C1386.8,2359.1 1385.4,2361.1 1384.1,2363 C1382.7,2365 1381.3,2366.9 1380,2368.9 C1378.6,2370.8 1377.3,2372.8 1375.9,2374.7 C1374.5,2376.7 1373.2,2378.6 1371.8,2380.5 C1370.5,2382.4 1369.1,2384.3 1367.8,2386.2 C1366.4,2388.1 1365,2390 1363.7,2391.8 C1362.3,2393.7 1361,2395.5 1359.6,2397.3 C1358.2,2399.1 1356.9,2400.9 1355.5,2402.6 C1354.2,2404.4 1352.8,2406.1 1351.5,2407.8 C1350.1,2409.5 1348.7,2411.1 1347.4,2412.7 C1346,2414.3 1344,2416.7 1343.3,2417.4 Z" fill="#DDC0E0"/>
<line x1="1321" y1="2043.7" x2="1735" y2="2043.7" stroke="#111" stroke-width="1.6"/>
<path d="M1343.3,2328.7 C1344,2328.6 1346,2328.1 1347.4,2327.8 C1348.7,2327.5 1350.1,2327.2 1351.5,2326.9 C1352.8,2326.5 1354.2,2326.3 1355.5,2325.9 C1356.9,2325.6 1358.2,2325.3 1359.6,2325 C1361,2324.7 1362.3,2324.4 1363.7,2324.1 C1365,2323.7 1366.4,2323.4 1367.8,2323 C1369.1,2322.6 1370.5,2322.3 1371.8,2321.9 C1373.2,2321.5 1374.5,2321 1375.9,2320.6 C1377.3,2320.1 1378.6,2319.7 1380,2319.2 C1381.3,2318.7 1382.7,2318.1 1384.1,2317.5 C1385.4,2317 1386.8,2316.4 1388.1,2315.7 C1389.5,2315.1 1390.8,2314.4 1392.2,2313.6 C1393.6,2312.9 1394.9,2312.1 1396.3,2311.3 C1397.6,2310.5 1399,2309.6 1400.4,2308.6 C1401.7,2307.7 1403.1,2306.7 1404.4,2305.7 C1405.8,2304.6 1407.2,2303.5 1408.5,2302.4 C1409.9,2301.2 1411.2,2300 1412.6,2298.8 C1413.9,2297.5 1415.3,2296.2 1416.7,2294.9 C1418,2293.6 1419.4,2292.2 1420.7,2290.8 C1422.1,2289.4 1423.5,2288 1424.8,2286.5 C1426.2,2285 1427.5,2283.5 1428.9,2282 C1430.2,2280.5 1431.6,2278.9 1433,2277.4 C1434.3,2275.8 1435.7,2274.2 1437,2272.6 C1438.4,2271 1439.8,2269.3 1441.1,2267.7 C1442.5,2266 1443.8,2264.4 1445.2,2262.7 C1446.5,2261 1447.9,2259.4 1449.3,2257.7 C1450.6,2256 1452,2254.3 1453.3,2252.6 C1454.7,2251 1456.1,2249.3 1457.4,2247.6 C1458.8,2245.9 1460.1,2244.2 1461.5,2242.6 C1462.8,2240.9 1464.2,2239.3 1465.6,2237.6 C1466.9,2236 1468.3,2234.4 1469.6,2232.9 C1471,2231.3 1472.4,2229.8 1473.7,2228.3 C1475.1,2226.9 1476.4,2225.5 1477.8,2224.1 C1479.2,2222.8 1480.5,2221.5 1481.9,2220.3 C1483.2,2219.1 1484.6,2218 1485.9,2216.9 C1487.3,2215.9 1488.7,2215 1490,2214.1 C1491.4,2213.3 1492.7,2212.6 1494.1,2212 C1495.5,2211.4 1496.8,2210.9 1498.2,2210.5 C1499.5,2210.1 1500.9,2209.8 1502.2,2209.7 C1503.6,2209.6 1505,2209.5 1506.3,2209.6 C1507.7,2209.7 1509,2209.9 1510.4,2210.2 C1511.8,2210.5 1513.1,2210.9 1514.5,2211.4 C1515.8,2211.9 1517.2,2212.4 1518.5,2213.1 C1519.9,2213.7 1521.3,2214.4 1522.6,2215.2 C1524,2216 1525.3,2216.8 1526.7,2217.7 C1528.1,2218.6 1529.4,2219.6 1530.8,2220.6 C1532.1,2221.5 1533.5,2222.6 1534.9,2223.6 C1536.2,2224.7 1537.6,2225.7 1538.9,2226.8 C1540.3,2227.9 1541.6,2229 1543,2230.1 C1544.4,2231.2 1545.7,2232.4 1547.1,2233.5 C1548.4,2234.6 1549.8,2235.7 1551.2,2236.8 C1552.5,2237.9 1553.9,2239 1555.2,2240.1 C1556.6,2241.2 1557.9,2242.3 1559.3,2243.3 C1560.7,2244.4 1562,2245.4 1563.4,2246.4 C1564.7,2247.4 1566.1,2248.3 1567.5,2249.2 C1568.8,2250.1 1570.2,2251 1571.5,2251.8 C1572.9,2252.7 1574.2,2253.4 1575.6,2254.2 C1577,2254.9 1578.3,2255.6 1579.7,2256.2 C1581,2256.8 1582.4,2257.3 1583.8,2257.8 C1585.1,2258.2 1586.5,2258.6 1587.8,2258.9 C1589.2,2259.2 1590.6,2259.5 1591.9,2259.6 C1593.3,2259.8 1594.6,2259.8 1596,2259.8 C1597.3,2259.8 1598.7,2259.7 1600.1,2259.5 C1601.4,2259.3 1602.8,2259 1604.1,2258.7 C1605.5,2258.4 1606.9,2258 1608.2,2257.5 C1609.6,2257 1610.9,2256.5 1612.3,2255.9 C1613.6,2255.3 1615,2254.7 1616.4,2254 C1617.7,2253.3 1619.1,2252.6 1620.4,2251.8 C1621.8,2251 1623.2,2250.2 1624.5,2249.3 C1625.9,2248.5 1627.2,2247.6 1628.6,2246.7 C1629.9,2245.8 1631.3,2244.8 1632.7,2243.8 C1634,2242.9 1635.4,2241.9 1636.7,2240.8 C1638.1,2239.8 1639.5,2238.8 1640.8,2237.7 C1642.2,2236.7 1643.5,2235.6 1644.9,2234.5 C1646.2,2233.4 1647.6,2232.3 1649,2231.2 C1650.3,2230.1 1651.7,2228.9 1653,2227.8 C1654.4,2226.7 1655.8,2225.5 1657.1,2224.4 C1658.5,2223.2 1659.8,2222 1661.2,2220.9 C1662.6,2219.7 1663.9,2218.5 1665.3,2217.4 C1666.6,2216.2 1668,2215.1 1669.3,2213.9 C1670.7,2212.7 1672.1,2211.6 1673.4,2210.4 C1674.8,2209.3 1676.1,2208.1 1677.5,2207 C1678.9,2205.8 1680.2,2204.7 1681.6,2203.6 C1682.9,2202.5 1684.3,2201.4 1685.6,2200.3 C1687,2199.2 1688.4,2198.2 1689.7,2197.1 C1691.1,2196.1 1692.4,2195 1693.8,2194 C1695.2,2193 1696.5,2192 1697.9,2191.1 C1699.2,2190.1 1700.6,2189.2 1701.9,2188.3 C1703.3,2187.3 1704.7,2186.5 1706,2185.6 C1707.4,2184.8 1709.4,2183.6 1710.1,2183.2" fill="none" stroke="#A35CA2" stroke-width="3.4" stroke-dasharray="13.5,13.5"/>
<rect x="1321" y="1948.8" width="414" height="502.7" fill="none" stroke="#222" stroke-width="1.6"/>
<line x1="1315.5" y1="2043.7" x2="1321" y2="2043.7" stroke="#222" stroke-width="1.4"/>
<text x="1310.2" y="2054.3" font-size="29" text-anchor="end" stroke="#000" stroke-width="0.45">0.0</text>
<line x1="1315.5" y1="2198.2" x2="1321" y2="2198.2" stroke="#222" stroke-width="1.4"/>
<text x="1310.2" y="2208.8" font-size="29" text-anchor="end" stroke="#000" stroke-width="0.45">−0.5</text>
<line x1="1315.5" y1="2353" x2="1321" y2="2353" stroke="#222" stroke-width="1.4"/>
<text x="1310.2" y="2363.6" font-size="29" text-anchor="end" stroke="#000" stroke-width="0.45">−1.0</text>
<line x1="1333.2" y1="2451.5" x2="1333.2" y2="2457" stroke="#222" stroke-width="1.4"/>
<text x="1337.2" y="2482.7" font-size="29" text-anchor="middle" stroke="#000" stroke-width="0.45">0.2</text>
<line x1="1526.6" y1="2451.5" x2="1526.6" y2="2457" stroke="#222" stroke-width="1.4"/>
<text x="1530.6" y="2482.7" font-size="29" text-anchor="middle" stroke="#000" stroke-width="0.45">0.4</text>
<line x1="1720.1" y1="2451.5" x2="1720.1" y2="2457" stroke="#222" stroke-width="1.4"/>
<text x="1724.1" y="2482.7" font-size="29" text-anchor="middle" stroke="#000" stroke-width="0.45">0.6</text>
<text x="1525.1" y="2512.5" font-size="29" text-anchor="middle" stroke="#000" stroke-width="0.45">Soil sand content</text>
<text transform="translate(1245.8,2191) rotate(-90)" font-size="29" text-anchor="middle" stroke="#000" stroke-width="0.45">EVI anomaly</text>
<text x="1326.5" y="1987.8" font-size="33" stroke="#000" stroke-width="0.45">j</text>
<text x="1322.7" y="2433.6" font-size="19.6">Forest responses(EVI anomaly)=f(<tspan font-weight="bold">soil texture</tspan>)</text>
</svg>
</body></html>
